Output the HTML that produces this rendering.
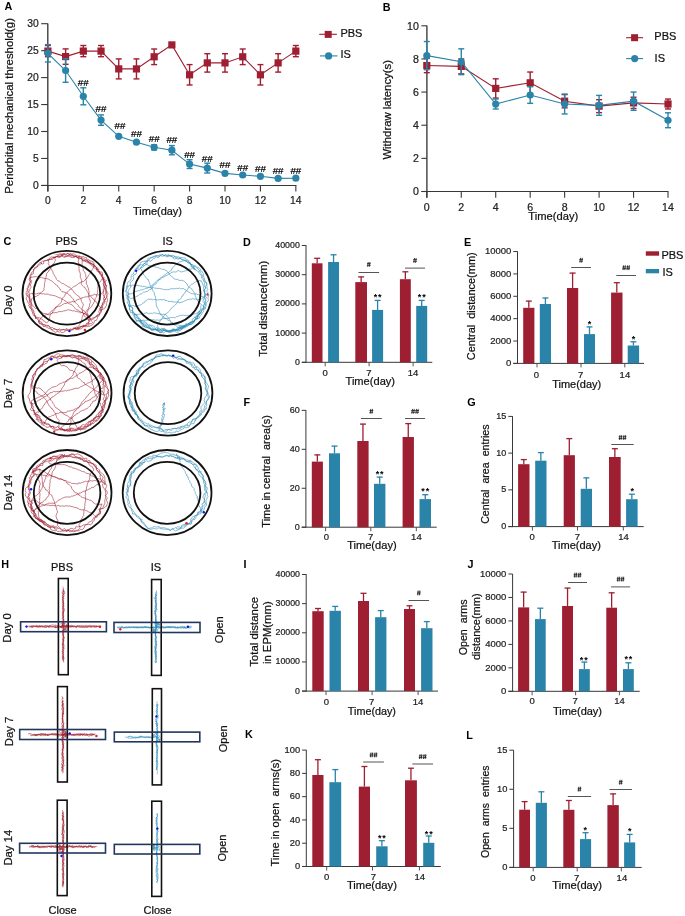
<!DOCTYPE html>
<html><head><meta charset="utf-8"><title>Figure</title>
<style>
html,body{margin:0;padding:0;background:#fff;}
body{width:685px;height:916px;overflow:hidden;}
svg{display:block;font-family:"Liberation Sans", sans-serif;will-change:transform;}
</style></head><body>
<svg width="685" height="916" viewBox="0 0 685 916">
<rect x="0" y="0" width="685" height="916" fill="#fff"/>
<line x1="47.8" y1="23.5" x2="47.8" y2="191.5" stroke="#383838" stroke-width="1.35"/>
<line x1="41.2" y1="185.5" x2="296.4" y2="185.5" stroke="#383838" stroke-width="1.1"/>
<line x1="41.2" y1="185.4" x2="47.8" y2="185.4" stroke="#383838" stroke-width="1.1"/>
<text x="38.8" y="189" font-size="10.3" text-anchor="end" font-weight="normal" fill="#222" stroke="#222" stroke-width="0.22">0</text>
<line x1="41.2" y1="158.45" x2="47.8" y2="158.45" stroke="#383838" stroke-width="1.1"/>
<text x="38.8" y="162.05" font-size="10.3" text-anchor="end" font-weight="normal" fill="#222" stroke="#222" stroke-width="0.22">5</text>
<line x1="41.2" y1="131.5" x2="47.8" y2="131.5" stroke="#383838" stroke-width="1.1"/>
<text x="38.8" y="135.1" font-size="10.3" text-anchor="end" font-weight="normal" fill="#222" stroke="#222" stroke-width="0.22">10</text>
<line x1="41.2" y1="104.55" x2="47.8" y2="104.55" stroke="#383838" stroke-width="1.1"/>
<text x="38.8" y="108.15" font-size="10.3" text-anchor="end" font-weight="normal" fill="#222" stroke="#222" stroke-width="0.22">15</text>
<line x1="41.2" y1="77.6" x2="47.8" y2="77.6" stroke="#383838" stroke-width="1.1"/>
<text x="38.8" y="81.2" font-size="10.3" text-anchor="end" font-weight="normal" fill="#222" stroke="#222" stroke-width="0.22">20</text>
<line x1="41.2" y1="50.65" x2="47.8" y2="50.65" stroke="#383838" stroke-width="1.1"/>
<text x="38.8" y="54.25" font-size="10.3" text-anchor="end" font-weight="normal" fill="#222" stroke="#222" stroke-width="0.22">25</text>
<line x1="41.2" y1="23.7" x2="47.8" y2="23.7" stroke="#383838" stroke-width="1.1"/>
<text x="38.8" y="27.3" font-size="10.3" text-anchor="end" font-weight="normal" fill="#222" stroke="#222" stroke-width="0.22">30</text>
<line x1="47.9" y1="185.5" x2="47.9" y2="191.5" stroke="#383838" stroke-width="1.1"/>
<text x="47.9" y="204.1" font-size="10.3" text-anchor="middle" font-weight="normal" fill="#222" stroke="#222" stroke-width="0.22">0</text>
<line x1="83.32" y1="185.5" x2="83.32" y2="191.5" stroke="#383838" stroke-width="1.1"/>
<text x="83.32" y="204.1" font-size="10.3" text-anchor="middle" font-weight="normal" fill="#222" stroke="#222" stroke-width="0.22">2</text>
<line x1="118.74" y1="185.5" x2="118.74" y2="191.5" stroke="#383838" stroke-width="1.1"/>
<text x="118.74" y="204.1" font-size="10.3" text-anchor="middle" font-weight="normal" fill="#222" stroke="#222" stroke-width="0.22">4</text>
<line x1="154.16" y1="185.5" x2="154.16" y2="191.5" stroke="#383838" stroke-width="1.1"/>
<text x="154.16" y="204.1" font-size="10.3" text-anchor="middle" font-weight="normal" fill="#222" stroke="#222" stroke-width="0.22">6</text>
<line x1="189.58" y1="185.5" x2="189.58" y2="191.5" stroke="#383838" stroke-width="1.1"/>
<text x="189.58" y="204.1" font-size="10.3" text-anchor="middle" font-weight="normal" fill="#222" stroke="#222" stroke-width="0.22">8</text>
<line x1="225" y1="185.5" x2="225" y2="191.5" stroke="#383838" stroke-width="1.1"/>
<text x="225" y="204.1" font-size="10.3" text-anchor="middle" font-weight="normal" fill="#222" stroke="#222" stroke-width="0.22">10</text>
<line x1="260.42" y1="185.5" x2="260.42" y2="191.5" stroke="#383838" stroke-width="1.1"/>
<text x="260.42" y="204.1" font-size="10.3" text-anchor="middle" font-weight="normal" fill="#222" stroke="#222" stroke-width="0.22">12</text>
<line x1="295.84" y1="185.5" x2="295.84" y2="191.5" stroke="#383838" stroke-width="1.1"/>
<text x="295.84" y="204.1" font-size="10.3" text-anchor="middle" font-weight="normal" fill="#222" stroke="#222" stroke-width="0.22">14</text>
<text x="157.5" y="214.6" font-size="11" text-anchor="middle" font-weight="normal" fill="#111" stroke="#111" stroke-width="0.22" textLength="48.9" lengthAdjust="spacingAndGlyphs">Time(day)</text>
<text x="13.3" y="105.9" font-size="11.38" text-anchor="middle" font-weight="normal" fill="#111" stroke="#111" stroke-width="0.22" transform="rotate(-90 13.3 105.9)">Periorbital mechanical threshold(g)</text>
<polyline points="47.9,51.1 65.61,56.6 83.32,51.1 101.03,51.1 118.74,68.9 136.45,68.9 154.16,56.8 171.87,44.9 189.58,74.8 207.29,62.9 225,62.9 242.71,56.8 260.42,74.8 278.13,62.9 295.84,51.1" fill="none" stroke="#9E1F31" stroke-width="1.1"/>
<line x1="47.9" y1="45.5" x2="47.9" y2="56.7" stroke="#9E1F31" stroke-width="1.4"/>
<line x1="44.9" y1="45.5" x2="50.9" y2="45.5" stroke="#9E1F31" stroke-width="1.4"/>
<line x1="44.9" y1="56.7" x2="50.9" y2="56.7" stroke="#9E1F31" stroke-width="1.4"/>
<rect x="44.3" y="47.5" width="7.2" height="7.2" fill="#9E1F31" stroke="none" stroke-width="0"/>
<line x1="65.61" y1="48.9" x2="65.61" y2="64.3" stroke="#9E1F31" stroke-width="1.4"/>
<line x1="62.61" y1="48.9" x2="68.61" y2="48.9" stroke="#9E1F31" stroke-width="1.4"/>
<line x1="62.61" y1="64.3" x2="68.61" y2="64.3" stroke="#9E1F31" stroke-width="1.4"/>
<rect x="62.01" y="53" width="7.2" height="7.2" fill="#9E1F31" stroke="none" stroke-width="0"/>
<line x1="83.32" y1="45.5" x2="83.32" y2="56.7" stroke="#9E1F31" stroke-width="1.4"/>
<line x1="80.32" y1="45.5" x2="86.32" y2="45.5" stroke="#9E1F31" stroke-width="1.4"/>
<line x1="80.32" y1="56.7" x2="86.32" y2="56.7" stroke="#9E1F31" stroke-width="1.4"/>
<rect x="79.72" y="47.5" width="7.2" height="7.2" fill="#9E1F31" stroke="none" stroke-width="0"/>
<line x1="101.03" y1="45.5" x2="101.03" y2="56.7" stroke="#9E1F31" stroke-width="1.4"/>
<line x1="98.03" y1="45.5" x2="104.03" y2="45.5" stroke="#9E1F31" stroke-width="1.4"/>
<line x1="98.03" y1="56.7" x2="104.03" y2="56.7" stroke="#9E1F31" stroke-width="1.4"/>
<rect x="97.43" y="47.5" width="7.2" height="7.2" fill="#9E1F31" stroke="none" stroke-width="0"/>
<line x1="118.74" y1="58.9" x2="118.74" y2="78.9" stroke="#9E1F31" stroke-width="1.4"/>
<line x1="115.74" y1="58.9" x2="121.74" y2="58.9" stroke="#9E1F31" stroke-width="1.4"/>
<line x1="115.74" y1="78.9" x2="121.74" y2="78.9" stroke="#9E1F31" stroke-width="1.4"/>
<rect x="115.14" y="65.3" width="7.2" height="7.2" fill="#9E1F31" stroke="none" stroke-width="0"/>
<line x1="136.45" y1="58.9" x2="136.45" y2="78.9" stroke="#9E1F31" stroke-width="1.4"/>
<line x1="133.45" y1="58.9" x2="139.45" y2="58.9" stroke="#9E1F31" stroke-width="1.4"/>
<line x1="133.45" y1="78.9" x2="139.45" y2="78.9" stroke="#9E1F31" stroke-width="1.4"/>
<rect x="132.85" y="65.3" width="7.2" height="7.2" fill="#9E1F31" stroke="none" stroke-width="0"/>
<line x1="154.16" y1="49" x2="154.16" y2="64.6" stroke="#9E1F31" stroke-width="1.4"/>
<line x1="151.16" y1="49" x2="157.16" y2="49" stroke="#9E1F31" stroke-width="1.4"/>
<line x1="151.16" y1="64.6" x2="157.16" y2="64.6" stroke="#9E1F31" stroke-width="1.4"/>
<rect x="150.56" y="53.2" width="7.2" height="7.2" fill="#9E1F31" stroke="none" stroke-width="0"/>
<rect x="168.27" y="41.3" width="7.2" height="7.2" fill="#9E1F31" stroke="none" stroke-width="0"/>
<line x1="189.58" y1="64.6" x2="189.58" y2="85" stroke="#9E1F31" stroke-width="1.4"/>
<line x1="186.58" y1="64.6" x2="192.58" y2="64.6" stroke="#9E1F31" stroke-width="1.4"/>
<line x1="186.58" y1="85" x2="192.58" y2="85" stroke="#9E1F31" stroke-width="1.4"/>
<rect x="185.98" y="71.2" width="7.2" height="7.2" fill="#9E1F31" stroke="none" stroke-width="0"/>
<line x1="207.29" y1="53.7" x2="207.29" y2="72.1" stroke="#9E1F31" stroke-width="1.4"/>
<line x1="204.29" y1="53.7" x2="210.29" y2="53.7" stroke="#9E1F31" stroke-width="1.4"/>
<line x1="204.29" y1="72.1" x2="210.29" y2="72.1" stroke="#9E1F31" stroke-width="1.4"/>
<rect x="203.69" y="59.3" width="7.2" height="7.2" fill="#9E1F31" stroke="none" stroke-width="0"/>
<line x1="225" y1="53.7" x2="225" y2="72.1" stroke="#9E1F31" stroke-width="1.4"/>
<line x1="222" y1="53.7" x2="228" y2="53.7" stroke="#9E1F31" stroke-width="1.4"/>
<line x1="222" y1="72.1" x2="228" y2="72.1" stroke="#9E1F31" stroke-width="1.4"/>
<rect x="221.4" y="59.3" width="7.2" height="7.2" fill="#9E1F31" stroke="none" stroke-width="0"/>
<line x1="242.71" y1="49" x2="242.71" y2="64.6" stroke="#9E1F31" stroke-width="1.4"/>
<line x1="239.71" y1="49" x2="245.71" y2="49" stroke="#9E1F31" stroke-width="1.4"/>
<line x1="239.71" y1="64.6" x2="245.71" y2="64.6" stroke="#9E1F31" stroke-width="1.4"/>
<rect x="239.11" y="53.2" width="7.2" height="7.2" fill="#9E1F31" stroke="none" stroke-width="0"/>
<line x1="260.42" y1="64.6" x2="260.42" y2="85" stroke="#9E1F31" stroke-width="1.4"/>
<line x1="257.42" y1="64.6" x2="263.42" y2="64.6" stroke="#9E1F31" stroke-width="1.4"/>
<line x1="257.42" y1="85" x2="263.42" y2="85" stroke="#9E1F31" stroke-width="1.4"/>
<rect x="256.82" y="71.2" width="7.2" height="7.2" fill="#9E1F31" stroke="none" stroke-width="0"/>
<line x1="278.13" y1="53.7" x2="278.13" y2="72.1" stroke="#9E1F31" stroke-width="1.4"/>
<line x1="275.13" y1="53.7" x2="281.13" y2="53.7" stroke="#9E1F31" stroke-width="1.4"/>
<line x1="275.13" y1="72.1" x2="281.13" y2="72.1" stroke="#9E1F31" stroke-width="1.4"/>
<rect x="274.53" y="59.3" width="7.2" height="7.2" fill="#9E1F31" stroke="none" stroke-width="0"/>
<line x1="295.84" y1="45.5" x2="295.84" y2="56.7" stroke="#9E1F31" stroke-width="1.4"/>
<line x1="292.84" y1="45.5" x2="298.84" y2="45.5" stroke="#9E1F31" stroke-width="1.4"/>
<line x1="292.84" y1="56.7" x2="298.84" y2="56.7" stroke="#9E1F31" stroke-width="1.4"/>
<rect x="292.24" y="47.5" width="7.2" height="7.2" fill="#9E1F31" stroke="none" stroke-width="0"/>
<polyline points="47.9,53.3 65.61,70.5 83.32,96.3 101.03,120.1 118.74,136.3 136.45,142.2 154.16,147.3 171.87,150.2 189.58,164.1 207.29,168.1 225,173.4 242.71,175 260.42,176.3 278.13,178.4 295.84,178.2" fill="none" stroke="#2A83A9" stroke-width="1.1"/>
<line x1="47.9" y1="44.6" x2="47.9" y2="62" stroke="#2A83A9" stroke-width="1.4"/>
<line x1="44.9" y1="44.6" x2="50.9" y2="44.6" stroke="#2A83A9" stroke-width="1.4"/>
<line x1="44.9" y1="62" x2="50.9" y2="62" stroke="#2A83A9" stroke-width="1.4"/>
<circle cx="47.9" cy="53.3" r="3.6" fill="#2A83A9"/>
<line x1="65.61" y1="58.7" x2="65.61" y2="82.3" stroke="#2A83A9" stroke-width="1.4"/>
<line x1="62.61" y1="58.7" x2="68.61" y2="58.7" stroke="#2A83A9" stroke-width="1.4"/>
<line x1="62.61" y1="82.3" x2="68.61" y2="82.3" stroke="#2A83A9" stroke-width="1.4"/>
<circle cx="65.61" cy="70.5" r="3.6" fill="#2A83A9"/>
<line x1="83.32" y1="87.8" x2="83.32" y2="104.8" stroke="#2A83A9" stroke-width="1.4"/>
<line x1="80.32" y1="87.8" x2="86.32" y2="87.8" stroke="#2A83A9" stroke-width="1.4"/>
<line x1="80.32" y1="104.8" x2="86.32" y2="104.8" stroke="#2A83A9" stroke-width="1.4"/>
<circle cx="83.32" cy="96.3" r="3.6" fill="#2A83A9"/>
<line x1="101.03" y1="114.9" x2="101.03" y2="125.3" stroke="#2A83A9" stroke-width="1.4"/>
<line x1="98.03" y1="114.9" x2="104.03" y2="114.9" stroke="#2A83A9" stroke-width="1.4"/>
<line x1="98.03" y1="125.3" x2="104.03" y2="125.3" stroke="#2A83A9" stroke-width="1.4"/>
<circle cx="101.03" cy="120.1" r="3.6" fill="#2A83A9"/>
<circle cx="118.74" cy="136.3" r="3.6" fill="#2A83A9"/>
<circle cx="136.45" cy="142.2" r="3.6" fill="#2A83A9"/>
<line x1="154.16" y1="144.7" x2="154.16" y2="149.9" stroke="#2A83A9" stroke-width="1.4"/>
<line x1="151.16" y1="144.7" x2="157.16" y2="144.7" stroke="#2A83A9" stroke-width="1.4"/>
<line x1="151.16" y1="149.9" x2="157.16" y2="149.9" stroke="#2A83A9" stroke-width="1.4"/>
<circle cx="154.16" cy="147.3" r="3.6" fill="#2A83A9"/>
<line x1="171.87" y1="145.6" x2="171.87" y2="154.8" stroke="#2A83A9" stroke-width="1.4"/>
<line x1="168.87" y1="145.6" x2="174.87" y2="145.6" stroke="#2A83A9" stroke-width="1.4"/>
<line x1="168.87" y1="154.8" x2="174.87" y2="154.8" stroke="#2A83A9" stroke-width="1.4"/>
<circle cx="171.87" cy="150.2" r="3.6" fill="#2A83A9"/>
<line x1="189.58" y1="159.7" x2="189.58" y2="168.5" stroke="#2A83A9" stroke-width="1.4"/>
<line x1="186.58" y1="159.7" x2="192.58" y2="159.7" stroke="#2A83A9" stroke-width="1.4"/>
<line x1="186.58" y1="168.5" x2="192.58" y2="168.5" stroke="#2A83A9" stroke-width="1.4"/>
<circle cx="189.58" cy="164.1" r="3.6" fill="#2A83A9"/>
<line x1="207.29" y1="163.2" x2="207.29" y2="173" stroke="#2A83A9" stroke-width="1.4"/>
<line x1="204.29" y1="163.2" x2="210.29" y2="163.2" stroke="#2A83A9" stroke-width="1.4"/>
<line x1="204.29" y1="173" x2="210.29" y2="173" stroke="#2A83A9" stroke-width="1.4"/>
<circle cx="207.29" cy="168.1" r="3.6" fill="#2A83A9"/>
<circle cx="225" cy="173.4" r="3.6" fill="#2A83A9"/>
<circle cx="242.71" cy="175" r="3.6" fill="#2A83A9"/>
<circle cx="260.42" cy="176.3" r="3.6" fill="#2A83A9"/>
<circle cx="278.13" cy="178.4" r="3.6" fill="#2A83A9"/>
<circle cx="295.84" cy="178.2" r="3.6" fill="#2A83A9"/>
<text x="83.32" y="86.3" font-size="9.8" text-anchor="middle" font-weight="normal" fill="#000" stroke="#000" stroke-width="0.22">##</text>
<text x="101.03" y="111.7" font-size="9.8" text-anchor="middle" font-weight="normal" fill="#000" stroke="#000" stroke-width="0.22">##</text>
<text x="119.94" y="128.8" font-size="9.8" text-anchor="middle" font-weight="normal" fill="#000" stroke="#000" stroke-width="0.22">##</text>
<text x="136.45" y="137.3" font-size="9.8" text-anchor="middle" font-weight="normal" fill="#000" stroke="#000" stroke-width="0.22">##</text>
<text x="154.16" y="141.5" font-size="9.8" text-anchor="middle" font-weight="normal" fill="#000" stroke="#000" stroke-width="0.22">##</text>
<text x="171.87" y="142.9" font-size="9.8" text-anchor="middle" font-weight="normal" fill="#000" stroke="#000" stroke-width="0.22">##</text>
<text x="189.58" y="157.6" font-size="9.8" text-anchor="middle" font-weight="normal" fill="#000" stroke="#000" stroke-width="0.22">##</text>
<text x="207.29" y="161.8" font-size="9.8" text-anchor="middle" font-weight="normal" fill="#000" stroke="#000" stroke-width="0.22">##</text>
<text x="225" y="168" font-size="9.8" text-anchor="middle" font-weight="normal" fill="#000" stroke="#000" stroke-width="0.22">##</text>
<text x="242.71" y="170.6" font-size="9.8" text-anchor="middle" font-weight="normal" fill="#000" stroke="#000" stroke-width="0.22">##</text>
<text x="260.42" y="172.3" font-size="9.8" text-anchor="middle" font-weight="normal" fill="#000" stroke="#000" stroke-width="0.22">##</text>
<text x="278.13" y="174.3" font-size="9.8" text-anchor="middle" font-weight="normal" fill="#000" stroke="#000" stroke-width="0.22">##</text>
<text x="295.84" y="174.3" font-size="9.8" text-anchor="middle" font-weight="normal" fill="#000" stroke="#000" stroke-width="0.22">##</text>
<line x1="319.2" y1="34.3" x2="336.9" y2="34.3" stroke="#9E1F31" stroke-width="1.1"/>
<rect x="324.7" y="30.9" width="7" height="7" fill="#9E1F31" stroke="none" stroke-width="0"/>
<text x="340.4" y="36.6" font-size="11" text-anchor="start" font-weight="normal" fill="#111" stroke="#111" stroke-width="0.22">PBS</text>
<line x1="320" y1="55.9" x2="337.5" y2="55.9" stroke="#2A83A9" stroke-width="1.1"/>
<circle cx="328.6" cy="55.9" r="3.6" fill="#2A83A9"/>
<text x="340.4" y="58.3" font-size="11" text-anchor="start" font-weight="normal" fill="#111" stroke="#111" stroke-width="0.22">IS</text>
<line x1="426.9" y1="25.5" x2="426.9" y2="197.8" stroke="#383838" stroke-width="1.35"/>
<line x1="421.4" y1="191.5" x2="668.4" y2="191.5" stroke="#383838" stroke-width="1.1"/>
<line x1="421.4" y1="191.5" x2="426.9" y2="191.5" stroke="#383838" stroke-width="1.1"/>
<text x="418.9" y="195.3" font-size="10.6" text-anchor="end" font-weight="normal" fill="#222" stroke="#222" stroke-width="0.22">0</text>
<line x1="421.4" y1="158.36" x2="426.9" y2="158.36" stroke="#383838" stroke-width="1.1"/>
<text x="418.9" y="162.16" font-size="10.6" text-anchor="end" font-weight="normal" fill="#222" stroke="#222" stroke-width="0.22">2</text>
<line x1="421.4" y1="125.22" x2="426.9" y2="125.22" stroke="#383838" stroke-width="1.1"/>
<text x="418.9" y="129.02" font-size="10.6" text-anchor="end" font-weight="normal" fill="#222" stroke="#222" stroke-width="0.22">4</text>
<line x1="421.4" y1="92.08" x2="426.9" y2="92.08" stroke="#383838" stroke-width="1.1"/>
<text x="418.9" y="95.88" font-size="10.6" text-anchor="end" font-weight="normal" fill="#222" stroke="#222" stroke-width="0.22">6</text>
<line x1="421.4" y1="58.94" x2="426.9" y2="58.94" stroke="#383838" stroke-width="1.1"/>
<text x="418.9" y="62.74" font-size="10.6" text-anchor="end" font-weight="normal" fill="#222" stroke="#222" stroke-width="0.22">8</text>
<line x1="421.4" y1="25.8" x2="426.9" y2="25.8" stroke="#383838" stroke-width="1.1"/>
<text x="418.9" y="29.6" font-size="10.6" text-anchor="end" font-weight="normal" fill="#222" stroke="#222" stroke-width="0.22">10</text>
<line x1="426.8" y1="191.5" x2="426.8" y2="197.8" stroke="#383838" stroke-width="1.1"/>
<text x="426.8" y="211.2" font-size="10.6" text-anchor="middle" font-weight="normal" fill="#222" stroke="#222" stroke-width="0.22">0</text>
<line x1="461.26" y1="191.5" x2="461.26" y2="197.8" stroke="#383838" stroke-width="1.1"/>
<text x="461.26" y="211.2" font-size="10.6" text-anchor="middle" font-weight="normal" fill="#222" stroke="#222" stroke-width="0.22">2</text>
<line x1="495.72" y1="191.5" x2="495.72" y2="197.8" stroke="#383838" stroke-width="1.1"/>
<text x="495.72" y="211.2" font-size="10.6" text-anchor="middle" font-weight="normal" fill="#222" stroke="#222" stroke-width="0.22">4</text>
<line x1="530.18" y1="191.5" x2="530.18" y2="197.8" stroke="#383838" stroke-width="1.1"/>
<text x="530.18" y="211.2" font-size="10.6" text-anchor="middle" font-weight="normal" fill="#222" stroke="#222" stroke-width="0.22">6</text>
<line x1="564.64" y1="191.5" x2="564.64" y2="197.8" stroke="#383838" stroke-width="1.1"/>
<text x="564.64" y="211.2" font-size="10.6" text-anchor="middle" font-weight="normal" fill="#222" stroke="#222" stroke-width="0.22">8</text>
<line x1="599.1" y1="191.5" x2="599.1" y2="197.8" stroke="#383838" stroke-width="1.1"/>
<text x="599.1" y="211.2" font-size="10.6" text-anchor="middle" font-weight="normal" fill="#222" stroke="#222" stroke-width="0.22">10</text>
<line x1="633.56" y1="191.5" x2="633.56" y2="197.8" stroke="#383838" stroke-width="1.1"/>
<text x="633.56" y="211.2" font-size="10.6" text-anchor="middle" font-weight="normal" fill="#222" stroke="#222" stroke-width="0.22">12</text>
<line x1="668.02" y1="191.5" x2="668.02" y2="197.8" stroke="#383838" stroke-width="1.1"/>
<text x="668.02" y="211.2" font-size="10.6" text-anchor="middle" font-weight="normal" fill="#222" stroke="#222" stroke-width="0.22">14</text>
<text x="553.3" y="219.6" font-size="11" text-anchor="middle" font-weight="normal" fill="#111" stroke="#111" stroke-width="0.22" textLength="49.9" lengthAdjust="spacingAndGlyphs">Time(day)</text>
<text x="391.4" y="109.8" font-size="11.35" text-anchor="middle" font-weight="normal" fill="#111" stroke="#111" stroke-width="0.22" transform="rotate(-90 391.4 109.8)">Withdraw latency(s)</text>
<polyline points="426.8,65.57 461.26,66.4 495.72,88.43 530.18,82.8 564.64,101.19 599.1,106.16 633.56,102.85 668.02,104.01" fill="none" stroke="#9E1F31" stroke-width="1.1"/>
<line x1="426.8" y1="58.44" x2="426.8" y2="72.69" stroke="#9E1F31" stroke-width="1.4"/>
<line x1="423.8" y1="58.44" x2="429.8" y2="58.44" stroke="#9E1F31" stroke-width="1.4"/>
<line x1="423.8" y1="72.69" x2="429.8" y2="72.69" stroke="#9E1F31" stroke-width="1.4"/>
<rect x="423.2" y="61.97" width="7.2" height="7.2" fill="#9E1F31" stroke="none" stroke-width="0"/>
<line x1="461.26" y1="58.94" x2="461.26" y2="73.85" stroke="#9E1F31" stroke-width="1.4"/>
<line x1="458.26" y1="58.94" x2="464.26" y2="58.94" stroke="#9E1F31" stroke-width="1.4"/>
<line x1="458.26" y1="73.85" x2="464.26" y2="73.85" stroke="#9E1F31" stroke-width="1.4"/>
<rect x="457.66" y="62.8" width="7.2" height="7.2" fill="#9E1F31" stroke="none" stroke-width="0"/>
<line x1="495.72" y1="78.82" x2="495.72" y2="98.05" stroke="#9E1F31" stroke-width="1.4"/>
<line x1="492.72" y1="78.82" x2="498.72" y2="78.82" stroke="#9E1F31" stroke-width="1.4"/>
<line x1="492.72" y1="98.05" x2="498.72" y2="98.05" stroke="#9E1F31" stroke-width="1.4"/>
<rect x="492.12" y="84.83" width="7.2" height="7.2" fill="#9E1F31" stroke="none" stroke-width="0"/>
<line x1="530.18" y1="72.03" x2="530.18" y2="93.57" stroke="#9E1F31" stroke-width="1.4"/>
<line x1="527.18" y1="72.03" x2="533.18" y2="72.03" stroke="#9E1F31" stroke-width="1.4"/>
<line x1="527.18" y1="93.57" x2="533.18" y2="93.57" stroke="#9E1F31" stroke-width="1.4"/>
<rect x="526.58" y="79.2" width="7.2" height="7.2" fill="#9E1F31" stroke="none" stroke-width="0"/>
<line x1="564.64" y1="94.57" x2="564.64" y2="107.82" stroke="#9E1F31" stroke-width="1.4"/>
<line x1="561.64" y1="94.57" x2="567.64" y2="94.57" stroke="#9E1F31" stroke-width="1.4"/>
<line x1="561.64" y1="107.82" x2="567.64" y2="107.82" stroke="#9E1F31" stroke-width="1.4"/>
<rect x="561.04" y="97.59" width="7.2" height="7.2" fill="#9E1F31" stroke="none" stroke-width="0"/>
<line x1="599.1" y1="99.7" x2="599.1" y2="112.63" stroke="#9E1F31" stroke-width="1.4"/>
<line x1="596.1" y1="99.7" x2="602.1" y2="99.7" stroke="#9E1F31" stroke-width="1.4"/>
<line x1="596.1" y1="112.63" x2="602.1" y2="112.63" stroke="#9E1F31" stroke-width="1.4"/>
<rect x="595.5" y="102.56" width="7.2" height="7.2" fill="#9E1F31" stroke="none" stroke-width="0"/>
<line x1="633.56" y1="97.22" x2="633.56" y2="108.48" stroke="#9E1F31" stroke-width="1.4"/>
<line x1="630.56" y1="97.22" x2="636.56" y2="97.22" stroke="#9E1F31" stroke-width="1.4"/>
<line x1="630.56" y1="108.48" x2="636.56" y2="108.48" stroke="#9E1F31" stroke-width="1.4"/>
<rect x="629.96" y="99.25" width="7.2" height="7.2" fill="#9E1F31" stroke="none" stroke-width="0"/>
<line x1="668.02" y1="99.04" x2="668.02" y2="108.98" stroke="#9E1F31" stroke-width="1.4"/>
<line x1="665.02" y1="99.04" x2="671.02" y2="99.04" stroke="#9E1F31" stroke-width="1.4"/>
<line x1="665.02" y1="108.98" x2="671.02" y2="108.98" stroke="#9E1F31" stroke-width="1.4"/>
<rect x="664.42" y="100.41" width="7.2" height="7.2" fill="#9E1F31" stroke="none" stroke-width="0"/>
<polyline points="426.8,55.63 461.26,61.76 495.72,104.01 530.18,95.06 564.64,104.01 599.1,105.34 633.56,101.19 668.02,120.25" fill="none" stroke="#2A83A9" stroke-width="1.1"/>
<line x1="426.8" y1="41.54" x2="426.8" y2="69.71" stroke="#2A83A9" stroke-width="1.4"/>
<line x1="423.8" y1="41.54" x2="429.8" y2="41.54" stroke="#2A83A9" stroke-width="1.4"/>
<line x1="423.8" y1="69.71" x2="429.8" y2="69.71" stroke="#2A83A9" stroke-width="1.4"/>
<circle cx="426.8" cy="55.63" r="3.6" fill="#2A83A9"/>
<line x1="461.26" y1="48.83" x2="461.26" y2="74.68" stroke="#2A83A9" stroke-width="1.4"/>
<line x1="458.26" y1="48.83" x2="464.26" y2="48.83" stroke="#2A83A9" stroke-width="1.4"/>
<line x1="458.26" y1="74.68" x2="464.26" y2="74.68" stroke="#2A83A9" stroke-width="1.4"/>
<circle cx="461.26" cy="61.76" r="3.6" fill="#2A83A9"/>
<line x1="495.72" y1="99.04" x2="495.72" y2="108.98" stroke="#2A83A9" stroke-width="1.4"/>
<line x1="492.72" y1="99.04" x2="498.72" y2="99.04" stroke="#2A83A9" stroke-width="1.4"/>
<line x1="492.72" y1="108.98" x2="498.72" y2="108.98" stroke="#2A83A9" stroke-width="1.4"/>
<circle cx="495.72" cy="104.01" r="3.6" fill="#2A83A9"/>
<line x1="530.18" y1="86.78" x2="530.18" y2="103.35" stroke="#2A83A9" stroke-width="1.4"/>
<line x1="527.18" y1="86.78" x2="533.18" y2="86.78" stroke="#2A83A9" stroke-width="1.4"/>
<line x1="527.18" y1="103.35" x2="533.18" y2="103.35" stroke="#2A83A9" stroke-width="1.4"/>
<circle cx="530.18" cy="95.06" r="3.6" fill="#2A83A9"/>
<line x1="564.64" y1="94.07" x2="564.64" y2="113.95" stroke="#2A83A9" stroke-width="1.4"/>
<line x1="561.64" y1="94.07" x2="567.64" y2="94.07" stroke="#2A83A9" stroke-width="1.4"/>
<line x1="561.64" y1="113.95" x2="567.64" y2="113.95" stroke="#2A83A9" stroke-width="1.4"/>
<circle cx="564.64" cy="104.01" r="3.6" fill="#2A83A9"/>
<line x1="599.1" y1="95.39" x2="599.1" y2="115.28" stroke="#2A83A9" stroke-width="1.4"/>
<line x1="596.1" y1="95.39" x2="602.1" y2="95.39" stroke="#2A83A9" stroke-width="1.4"/>
<line x1="596.1" y1="115.28" x2="602.1" y2="115.28" stroke="#2A83A9" stroke-width="1.4"/>
<circle cx="599.1" cy="105.34" r="3.6" fill="#2A83A9"/>
<line x1="633.56" y1="92.08" x2="633.56" y2="110.31" stroke="#2A83A9" stroke-width="1.4"/>
<line x1="630.56" y1="92.08" x2="636.56" y2="92.08" stroke="#2A83A9" stroke-width="1.4"/>
<line x1="630.56" y1="110.31" x2="636.56" y2="110.31" stroke="#2A83A9" stroke-width="1.4"/>
<circle cx="633.56" cy="101.19" r="3.6" fill="#2A83A9"/>
<line x1="668.02" y1="112.79" x2="668.02" y2="127.71" stroke="#2A83A9" stroke-width="1.4"/>
<line x1="665.02" y1="112.79" x2="671.02" y2="112.79" stroke="#2A83A9" stroke-width="1.4"/>
<line x1="665.02" y1="127.71" x2="671.02" y2="127.71" stroke="#2A83A9" stroke-width="1.4"/>
<circle cx="668.02" cy="120.25" r="3.6" fill="#2A83A9"/>
<line x1="626.1" y1="37.7" x2="643.1" y2="37.7" stroke="#9E1F31" stroke-width="1.1"/>
<rect x="631.1" y="34.2" width="7" height="7" fill="#9E1F31" stroke="none" stroke-width="0"/>
<text x="654.3" y="39.8" font-size="11" text-anchor="start" font-weight="normal" fill="#111" stroke="#111" stroke-width="0.22">PBS</text>
<line x1="626.1" y1="58.6" x2="643.1" y2="58.6" stroke="#2A83A9" stroke-width="1.1"/>
<circle cx="634.7" cy="58.6" r="3.6" fill="#2A83A9"/>
<text x="654.6" y="62" font-size="11" text-anchor="start" font-weight="normal" fill="#111" stroke="#111" stroke-width="0.22">IS</text>
<text x="66.6" y="245" font-size="11" text-anchor="middle" font-weight="normal" fill="#111" stroke="#111" stroke-width="0.22">PBS</text>
<text x="167.7" y="245" font-size="11" text-anchor="middle" font-weight="normal" fill="#111" stroke="#111" stroke-width="0.22">IS</text>
<path d="M29.36 302.63 L29.35 300.95 L29.92 300.11 L29.58 298.65 L29.08 297.99 L28.35 296.31 L26.33 295.22 L26.11 292.58 L26.72 291.52 L27.12 290.98 L27.18 288.88 L27.36 288.05 L27.92 287.32 L28.16 285.94 L28.76 284.51 L29.83 283.19 L30.55 282.28 L29.08 279.31 L29.97 277.68 L31.07 277.59 L30.57 276.55 L31.08 274.51 L33.32 273.78 L33.36 271.88 L33.56 270.47 L33.2 269.52 L35.32 268.36 L36.36 267.35 L37.97 266.2 L38.87 265.41 L40.08 264.21 L41.66 263.74 L41.05 262.35 L42.36 261.05 L43.59 261.11 L45.8 260.74 L46.38 260.6 L47.89 259.71 L48.8 260.09 L49.63 258.15 L50.68 256.92 L52.21 257.11 L54.12 257.2 L56.64 256.64 L56.83 256.47 L58.17 255.65 L59.49 255 L61.54 254.56 L61.8 255.78 L63.64 255.79 L65.11 256.66 L67.25 256.18 L68.26 255.1 L70.35 254.13 L71.49 254.12 L73.06 253.8 L74.21 254.18 L75.58 255.13 L77.27 255.72 L79.18 256.09 L79.09 257.32 L78.29 258.66 L78.76 259.43 L78.16 261.46 L78.48 262.01 L78.81 263.72 L78.63 264.5 L78.56 265.92 L79.26 267.03 L78.88 268.56 L79.3 270.06 L78.87 270.93 L79.92 272.17 L80.04 273.27 L80.53 274.37 L80.24 275.91 L80.39 277.36 L80.82 278.39 L81.29 279.66 L81.65 280.59 L82.03 281.64 L81.06 283.13 L81.57 284.67 L82.62 285.88 L83.54 286.77 L84.94 287.37 L85.07 288.4 L86.19 289.43 L86.55 290.23 L87.24 291.39 L88.12 292.84 L88.64 293.9 L89.38 295.18 L89.97 295.65 L90.92 296.66 L91.99 297.59 L92.53 298.5 L93.76 299.27 L94.62 300.92 L95.18 301.23 L96.19 301.67 L96.95 302.82 L97.64 304.42 L99.04 305.46 L99.52 306.37 L100.23 307.07 L101.15 308.13 L100.64 311.23 L100.82 309.18 L100.59 307.55 L101.3 306.65 L102.01 305.1 L102.51 304.05 L103.82 302.51 L103.73 301.31 L103.93 299.94 L103.42 297.83 L104.68 297.64 L104.3 295.57 L104.91 294.55 L105.98 293.21 L106.99 291.95 L106.6 291.15 L105.81 290.45 L105.64 289.15 L105.09 287.34 L103.73 285.6 L103.44 284.6 L103.12 283.82 L104.16 281.46 L102.76 280.2 L102.83 279.26 L102.58 277.88 L102.03 276.25 L100.61 275.22 L99.96 274 L100.56 272.72 L98.71 272.52 L98.89 271.17 L98.73 269.03 L96.35 269.59 L97.17 267.86 L96.58 267.14 L94.74 266.43 L93.58 265.81 L92.83 264.51 L92.25 263.73 L91.12 262.85 L90.34 262.16 L88.79 262.1 L87.31 261.04 L86.29 259.49 L85.32 259.74 L83.97 258.44 L83.34 258.27 L80.71 257.5 L79.98 256.44 L78.27 257.97 L76.57 256.97 L75.71 256.43 L74.13 257.49 L72.19 257.57 L71.17 257.38 L69.55 256.56 L68.24 256.56 L66.95 255.47 L65.25 257.3 L63.74 257.21 L61.62 255.59 L60.2 256.88 L59.13 257.1 L56.2 256.73 L54.86 257.67 L53.58 257.19 L54.38 258.14 L54.85 258.65 L55.51 260.26 L54.69 261.55 L54.56 262.29 L53.77 263.66 L52.7 264.11 L52.3 265.45 L51.13 266.17 L51 267.96 L50.08 269.1 L49.63 270.33 L48.46 270.67 L48.29 271.98 L46.99 272.83 L46.21 274.26 L46.79 274.94 L46.12 276.24 L46 277.46 L45.41 278.22 L45.01 279.99 L45.12 281.63 L44.7 282.42 L44.42 283.3 L44.58 285.22 L44.3 286.46 L44.27 287.62 L43.91 288.36 L44.06 289.87 L43.37 290.88 L41.83 291.75 L40.97 292.73 L40.42 292.87 L39.57 294.26 L38.25 295.26 L37 295.64 L36.29 296.54 L35.02 296.59 L33.63 297.46 L32.81 298.01 L31.39 298.95 L31.19 302.27 L31.72 303.94 L31.9 304.59 L31.34 305.88 L29.54 307.72 L31.44 309.17 L31.87 309.79 L33.01 310.7 L33.3 312.84 L33.92 313.48 L34.51 315.62 L35.77 315.64 L35.6 317.81 L36.33 318.19 L37.16 319.13 L38.57 320.4 L39.06 322.15 L39.55 323.27 L41.96 323.24 L42.66 324.3 L44.92 325.18 L46.09 325.18 L48.44 325.56 L49.07 326.01 L50.17 327.66 L51.04 328.74 L52.41 330.64 L53.51 330.98 L55.42 332.34 L56.74 331.91 L57.15 331.17 L59.23 331.98 L60.72 331.88 L61.7 332.59 L63.44 332.36 L64.79 331.67 L65.77 330.51 L67 329.87 L68.39 331.46 L69.83 330.61 L71.41 330.06 L73.38 329.76 L73.92 328.83 L75.6 327.94 L76.48 327.11 L77.85 327.48 L78.49 328.26 L79.4 327.41 L80.63 326.39 L81.96 326.51 L83.64 326.29 L85.01 325.82 L85.71 325.84 L87.19 325.08 L89.15 325.09 L88.54 323.46 L91.35 323.74 L91.98 323.36 L92.6 322.01 L91.39 320.84 L91.02 319.94 L89.78 318.73 L89.75 317.55 L88.18 317.45 L87.22 315.79 L86.88 314.83 L85.12 314 L84.07 313.65 L83.11 313.65 L82.33 312.4 L80.94 312.1 L79.3 311.27 L78.6 310.4 L77.71 309.92 L76.31 309.66 L75.05 308.4 L74.44 307.52 L73.82 306.84 L72.62 305.36 L71.91 304.82 L70.35 304.18 L69.54 303.84 L68.33 303.56 L66.83 302.28 L66.4 301.62 L65.12 300.85 L64.09 300.48 L63.11 299.35 L61.9 299.18 L60.65 298.03 L59.22 297.83 L58.07 297.14 L57.2 296.95 L55.8 296.16 L54.78 295.78 L53.68 295.53 L52.22 295.38 L51.07 294.78 L49.64 295.07 L48.72 294.37 L46.99 294.06 L45.81 294.22 L44.02 293.89 L43.2 293.57 L42.32 293.94 L40.55 293.47 L39.18 293.13 L38.07 293.19 L36.7 293.85 L35.48 293.98 L34.71 293.37 L33.42 293.74 L31.28 293.35 L30.46 293.86 L29.2 295.07 L29.33 296.59 L30.29 298.78 L30.4 299.1 L30.13 300.57 L30 302.21 L30.23 303.52 L30.43 305.65 L31.16 306.57 L31.82 308.01 L32.65 308.99 L33.33 310.15 L34 311.46 L33.94 312.49 L35.01 314.11 L34.28 314.82 L35.58 316.6 L35.71 317.97 L35.05 318.45 L37.53 318.07 L38.89 319.63 L38.87 320.88 L38.9 322.56 L39.44 323.71 L40.71 323.98 L42.02 324.77 L43.47 324.94 L45.33 324.83 L46.73 326.28 L47.79 325.93 L48.86 325.85 L49.69 326.49 L50.76 327.83 L52.42 327.4 L53.77 328.66 L55.45 328.82 L56.11 329.5 L57.18 329.7 L58.74 329.63 L59.55 328.84 L60.53 329.54 L61.79 330.08 L62.54 329.82 L63.82 329.27 L64.61 330.21 L65.94 330.34 L67.08 330 L68.77 330.09 L70.23 328.9 L71.98 329.47 L73.85 327.84 L75.2 329.12 L76.23 329.67 L78.1 329.66 L78.99 329.73 L79.5 328.64 L80.59 327.1 L81.49 326.45 L82.74 325.47 L85.05 325.63 L86.49 325.26 L87.09 324.68 L87.86 323.65 L88.87 321.86 L89.82 321.52 L89.52 319.92 L90.07 318.63 L89.77 317.67 L89.25 316.33 L87.95 315.24 L87.19 315.07 L85.75 314.09 L84.56 313.52 L83.72 313.22 L82.41 312.44 L80.64 312.85 L79.87 312.15 L78.01 311.92 L76.79 311.42 L75.74 311.56 L74.93 310.85 L73.18 310.82 L72.32 310.87 L70.8 310.13 L69.5 310.17 L68.26 309.66 L66.98 310.07 L65.81 310.65 L64.11 310.88 L63.48 310.93 L61.69 311.61 L61.07 311.67 L59.07 311.54 L57.91 312.06 L56.26 312.72 L55.11 312.37 L54.24 312.91 L52.82 312.62 L51.76 313.49 L50.82 313.66 L49.18 314.38 L48.18 314.62 L46.81 313.98 L45.35 313.6 L43.98 313.64 L43.28 313.25 L42.08 312.56 L40.97 311.68 L39.63 310.48 L38.75 309.92 L37.74 309.22 L36.55 308.54 L35.3 308.36 L34.75 307.5 L33.59 306.46 L32.23 305.97 L30.64 301.55 L29.81 300.42 L29.2 299.17 L29.07 298.14 L30.04 296.19 L29.22 295.61 L29.24 294.01 L28.95 291.68 L29.95 290.13 L29.89 289.33 L30.79 287.48 L30.95 286.33 L30.25 285.07 L31.37 282.92 L30.93 281.92 L31.91 280.81 L30.28 279.23 L30.01 278.09 L30.06 275.75 L30.32 275.37 L31.29 273.71 L31.46 272.65 L32.5 271.75 L33.76 270.69 L33.9 269.22 L34.75 268.4 L34.93 267.2 L37.29 267.12 L37.39 265.22 L38.57 264.59 L39.91 262.39 L42.33 264.04 L43.68 263.39 L43.52 261.49 L44.74 260.56 L47.08 260.28 L48.05 260.3 L49.58 259.61 L50.3 259.09 L52.28 259.66 L53.29 258.15 L54.5 257.63 L55.77 257.3 L56.95 256.13 L58.39 256.3 L60.16 256.39 L61.06 255.17 L62.93 254.17 L64.6 253.59 L66 254.33 L68.01 253.44 L69.17 254.91 L70.66 255.4 L72.41 255.25 L73.51 256.1 L75.17 256.02 L76.75 256.64 L77.82 258.08 L78.15 258.22 L79.85 258.79 L81.91 258.16 L82.02 259.37 L83.73 260.26 L85.23 259.99 L86.43 260.88 L88.47 261.27 L88.28 262.25 L89.14 262.63 L89.95 263.87 L92.77 263.16 L93.54 263.92 L94.53 265.71 L93.77 266.54 L93.38 267.78 L92.81 268.69 L92.03 269.89 L91.56 271 L90.75 271.92 L90.05 273.27 L89.39 274.41 L88.63 275.18 L88.05 276.23 L87.65 277.36 L86.46 278.87 L85.74 279.28 L84.49 280.64 L83.66 281.4 L82.28 281.7 L80.86 281.91 L79.98 282.91 L78.97 283.27 L77.86 283.99 L76.81 285.07 L76.04 285.72 L74.84 286.17 L73.5 286.84 L72.54 287.58 L71.75 288.37 L70.58 289.49 L69.62 289.82 L68.76 290.63 L67.5 291.92 L66.94 292.35 L66.06 293.58 L64.93 294.51 L65.02 295.62 L63.62 296.89 L62.99 297.62 L62.12 298.68 L61.73 300.01 L61.65 300.91 L61.06 302.53 L60.33 303.1 L59.29 304.21 L58.54 304.96 L57.31 305.96 L56.91 306.71 L55.39 307.33 L54.99 309.49 L54.49 309.8 L53.16 311.4 L52.75 311.57 L52.42 312.94 L51.3 313.72 L50.24 314.83 L49.94 315.86 L49.56 317.56 L49.84 318.9 L48.87 319.53 L48.49 321.25 L48.1 321.83 L46.44 322.79 L45.07 321.94 L44.57 321.12 L43.36 321.01 L42.52 319.29 L41.36 319.03 L40.76 318.81 L39.4 317.79 L37.54 317.5 L35.83 317.26 L34.33 316.34 L33.34 315.03 L32.83 314.06 L32.4 311.99 L31.39 310.63 L31.66 309.77 L31.06 307.89 L30.25 307.06 L28.58 305.98 L29.6 304 L28.03 302.89 L27.43 300.84 L26.12 299.03 L26.6 297.22 L27.8 295.57 L27.87 294.46 L27.33 293.38 L28.28 292.14 L27.78 290.87 L28.06 290.41 L27.81 288.44 L28.64 287.26 L28.84 286.02 L29.79 285.07 L29.18 283.04 L30.44 281.79 L30.1 279.98 L30.13 278.58 L31.17 276.93 L32.75 277 L34.1 276.83 L35.73 276.58 L36.34 276.65 L38.03 277.36 L39.47 277.97 L40.43 277.56 L41.66 277.35 L42.95 278.01 L43.75 278.13 L45.05 278.48 L46.89 278.69 L48.26 279.12 L49.06 279.28 L50.29 280.47 L51.31 280.67 L52.56 281.63 L53.72 282.74 L54.4 283.31 L54.83 283.93 L56.36 285 L57.48 285.56 L57.72 286.64 L59.17 287.71 L59.84 288.74 L60.45 290.08 L61.74 291.18 L62 291.6 L63.68 292.03 L65.06 292.21 L66.08 293.08 L67.45 293.21 L68.44 294.54 L69.18 295.11 L70.46 295.71 L70.73 296.46 L72.06 297.69 L72.85 298.73 L73.38 299.1 L74.1 300.92 L74.64 301.97 L75.81 302.96 L76.41 303.56 L77.38 304.43 L78.4 305.45 L78.63 306.57 L79.76 307.28 L80.72 308.27 L81.7 309.36 L82.34 310.06 L84.03 310.53 L84.63 311.66 L85.44 312.66 L87.11 313.72 L87.17 314.42 L87.27 315.65 L88.04 317.03 L89.26 317.31 L90.31 318.22 L91.65 318.45 L95.74 317.11 L96.59 315.81 L98.07 315.7 L99.29 314.17 L100.18 313.33 L101 312.38 L100.95 311.88 L101.49 309.86 L103.84 308.81 L105.11 308.01 L105.98 305.95 L106.47 305.39 L106.39 303.48 L106.98 302.19 L107.36 300.81 L107.49 299.33 L106.86 297.99 L106.61 296.06 L106.06 294.87 L106.33 293.68 L105.31 291.36 L105.94 291.08 L105.71 289.17 L106.25 287.62 L106.48 286.57 L106.87 285.96 L105.35 284.94 L105.39 282.76 L105.29 281.73 L106.44 280.55 L104.62 279.77 L103.87 279.36 L101.93 277.36 L101.54 276.18 L102.02 274.37 L100.46 273.74 L99.45 273.36 L98.76 271.54 L97.29 271.51 L96.53 269.37 L96.56 268.12 L95.27 266.52 L94.81 265.04 L93.64 264.77 L91.75 264.28 L90.91 263.6 L89.82 264.15 L88.87 262.96 L86.73 262.47 L86 261.54 L84.63 261.1 L83.11 260.99 L81.87 259.8 L81.48 258.26 L80.51 258.4 L78.62 257.61 L77.58 257.57 L76.69 257.41 L76.13 256.48 L74.31 256.46 L72.83 255.98 L71.76 256.28 L70.06 255.7 L68.21 255.56 L66.63 256.28 L65.58 255.54 L64.32 254.17 L62.94 254.04 L62.33 256.16 L61.34 256.49 L59.95 256.94 L58.25 256.94 L56.38 256.44 L55.75 256.96 L53.72 257.44 L52.14 258.01 L51.39 258.8 L50.59 259.43 L47.82 259.35 L48.32 261.05 L48.9 262.6 L48.19 263.32 L49.04 264.93 L49.23 265.94 L49.8 267.14 L50.28 267.59 L51.35 269.24 L51.84 269.77 L52.32 271.1 L52.92 271.81 L53.19 273.46 L53.82 274.28 L54.47 275.74 L55.1 276.86 L55.91 277.61 L56.35 279.17 L57.42 280.19 L58.03 280.88 L59.38 281.24 L60.13 281.73 L61.72 283.37 L62.63 283.51 L63.83 283.88 L64.55 284.54 L66.13 285.45 L67.05 285.87 L67.9 286.89 L69.14 287.04 L70.2 287.75 L71.44 288.97 L72.38 289.98 L73.12 290.99 L73.52 291.63 L74.42 293.03 L75.13 293.56 L76.26 294.54 L77.67 295.57 L78.89 296.34 L79.31 297.26 L80.03 297.58 L81.05 298.68 L80.99 300.02 L81.49 301.13 L82.26 302.66 L82.75 303.3 L83.54 305.07 L82.83 305.94 L82.62 306.99 L82 308.71 L82.1 309.88 L82.45 310.68 L82.56 312.35 L83.4 313.51 L83.55 314.24 L83.78 315.51 L84.91 316.2 L85.64 317.24 L87.24 318.64 L87.79 318.68 L88.47 319.96 L91.91 319.54 L93.69 319.03 L94.38 317.88 L95.38 316.82 L97.09 316.31 L96.88 315.08 L98.38 314.47 L99.92 314.19 L100.1 313.31 L100.43 312.15 L101.55 310.95 L101.83 309.46 L102.43 308.64 L102.11 307.95 L101.78 305.32 L102.45 304.79 L102.29 302.83 L103.46 302.3 L104.58 301.37 L105.12 299.88 L106.01 298.19 L106.9 297.08 L107.18 295.08 L108.2 293.93 L106.97 292.11 L106.22 290.36 L106.06 288.97 L105.66 287.38 L106.7 285.54 L105.51 285.47 L105.38 283.47 L104.56 282.24 L103.63 281.05 L103.83 278.36 L104.03 277.52 L103.01 278.6 L101.84 279.13 L101.17 280.35 L100.66 281.54 L99.88 281.99 L98.58 283.04 L98.1 284.18 L98.18 285.4 L97.82 287.12 L97.83 288.05 L97.8 289.32 L97.61 290.67 L97.49 291.53 L97.74 292.98 L96.86 294.31 L96.44 295.08 L96.77 296.83 L95.75 297.67 L95.19 298.46 L94.8 300.48 L94.97 301.2 L93.78 302.3 L93.33 303.7 L92.62 304.57 L91.78 306.15 L91.51 306.76 L90.23 307.83 L89.28 308.42 L88.14 309.67 L87.27 309.85 L86.55 310.65 L85.79 311.81 L85.19 312.72 L83.97 314.01 L83.16 314.78 L82.56 315.85 L82.1 317.52 L82.07 318.74 L81.54 319.84 L81.39 321.03 L81.11 321.56 L80.42 322.85 L79.81 324.33 L79.28 325.01 L78.24 326.5 L77.8 327.39 L77.79 328.7 L73.78 328.42 L75.16 327.56 L76.59 328 L78.62 327.82 L79.12 326.79 L79.35 327.01 L81.07 326.5 L82.23 327.17 L82.58 326.74 L84.95 326.48 L86.65 326.81 L87.95 326.31 L90.05 326.22 L90.6 325.57 L92.5 324.86 L93.49 323.76 L94.25 321.7 L94.52 320.63 L96.48 320.33 L97.33 318.32 L97.4 316.79 L99.21 315.87 L98.86 314.64 L99.74 313.81 L99.27 313.15 L98.8 311.39 L99.46 309.93 L99.53 308.75 L100.14 307.35 L102.63 307.44 L102.52 306.33 L103.29 304.67 L103.88 303.97 L104.56 302.64 L105.31 301.91 L104.33 300.33 L104.25 299.72 L105.95 298.91 L104.35 297.5 L103.93 296.25 L103.07 294.43 L103.81 293.22 L103.44 291.65 L103.68 290.32 L104.42 288.91 L104.26 288.19 L104.25 286.74 L103.69 286.1 L103.72 284.81 L103.68 283.34 L104.16 282 L104.18 280.89 L103.03 278.81 L103.01 278.11 L103.08 276.82 L102.19 275.12 L102.55 273.59 L101.96 272.02 L100.4 271.91 L99.17 271.59 L98.06 270.97 L97.09 268.74 L95.68 268.98 L94.54 267.73 L93.21 267.26 L93.23 265.96 L92.14 265.78 L90.89 264.62 L90.65 263.8 L90.36 262.77 L89.1 262.22 L87.48 261.14 L85.67 260.98 L84.15 260.36 L82.16 259.95 L82.2 261.54 L82.11 262.61 L82.12 263.63 L81.96 264.91 L82.26 266.31 L82.55 267.88 L83.31 268.51 L83.07 270.42 L84.38 271.56 L85 272.12 L85.08 273.43 L85.62 274.51 L85.65 275.42 L85.87 276.51 L86.29 278.03 L85.88 279.51 L86.07 280.23 L86.59 281.86 L85.96 283.62 L87.02 284.51 L87.34 285.31 L87.53 287.01 L88.3 287.81 L88.45 289.19 L88.78 290.45 L89.07 291.72 L88.93 293.13 L88.76 294.34 L88.64 295.44 L88.77 296.45 L89.04 298 L89.26 298.58 L90.14 300.22 L90.23 301.32 L90.41 302.61 L89.58 303.92 L89.52 305.05 L89.59 305.99 L88.73 307.37 L88.39 308.58 L88.13 309.74 L88.04 310.66 L87.11 312.41 L87.54 313.45 L88.01 314.78 L88.07 316.01 L88.22 316.81 L88.06 318.54 L88.08 319.61 L88.83 321.42 L88.14 323.02 L86.64 323.13 L86.2 324.59 L84.94 325.34 L83.44 325.66 L83.21 327.19 L81.38 328.68 L80.26 328.94 L78.83 328.49 L77.68 328.55 L76.27 328.84 L75.03 328.32 L74.03 328.41 L72.64 329.29 L71.43 329.8 L69.48 329.78 L68.19 329.55 L66.11 328.53 L65.07 329.9 L63.7 329.69 L61.74 329.5 L60.26 330.66 L58.85 329.49 L57.28 330.1 L55.39 329.44 L53.51 328.8 L52.43 329.87 L50.73 329.37 L49.98 328.22 L48 328.17 L47.18 327.5 L45.31 326.51 L43.31 326.57 L42.67 324.11 L41.95 323.05 L41.27 321.81 L40.56 321.78 L38.73 321.38 L39.57 319.82 L40.57 319.15 L40.65 317.88 L41.86 317.15 L42.88 316.36 L44.09 315.57 L45.3 315.23 L46.23 314.4 L47.28 314.35 L48.12 314.52 L49.34 313.09 L50.03 312.36 L51.67 311.05 L52.18 310.7 L53.38 309.42 L54.24 308.57 L55.11 308 L56.91 306.9 L57.69 306.6 L58.73 306.09 L59.9 306.34 L61.75 305.24 L62.31 304.75 L63.63 304.04 L64.61 303.43 L66.26 303.48 L67.17 302.77 L68.41 302.22 L69.59 302.22 L71.37 302.23 L72.16 301.16 L73.44 301.92 L75.25 301.56 L75.94 300.64 L77.19 299.69 L78.16 299.42 L79.7 299.07 L80.79 297.96 L82.01 298.15 L83.19 297.43 L84.57 297.22 L85.54 296.84 L87.3 296.82 L88.48 296.29 L89.65 296.28 L90.87 295.55 L91.67 295.32 L93.07 295.12 L94.64 294.17 L96.03 295.07 L96.74 294.88 L98.65 294.87 L99.47 294.22 L101.34 293.92 L101.87 293.76 L103.7 290.65 L103.15 289.62 L104.27 288.23 L103.99 286.63 L104.92 286.17 L105.03 284.17 L104.57 282.71 L103.94 281.26 L103.59 280.09 L103.13 278.4 L102.46 276.88 L101.65 275.86 L102.7 274.93 L101.23 274.81 L99.88 273.45 L99.42 271.45 L98.46 271.38 L97.67 270.27 L97.68 268.98 L96.56 267.22 L95.87 267.06 L94.52 265.88 L93.28 264.86 L94.19 263.23 L93.29 261.71 L90.83 260.79 L89.78 261.21 L89.05 259.6 L87.32 260.35 L86.6 257.68 L84.79 257.44 L83.46 256.55 L81.01 256.91 L80.05 255.92 L79.03 256.23 L77.33 257.01 L75.02 255.95 L74.72 256.56 L72.69 255.21 L71.07 254.02 L69.28 253.37 L68.81 253.43 L67.56 253.46 L65.92 254.42 L63.74 254.1 L62.4 253.7 L62.19 254.24 L60.28 253.68 L58.76 254.29 L57.57 254.44 L56.45 254.65 L55.35 254.73" fill="none" stroke="#9c1a2e" stroke-width="0.6" stroke-opacity="0.95" stroke-linejoin="round"/>
<ellipse cx="66.9" cy="293.5" rx="44.4" ry="42.6" fill="none" stroke="#111" stroke-width="1.8"/>
<ellipse cx="66.9" cy="293.7" rx="33.3" ry="31" fill="none" stroke="#111" stroke-width="1.8"/>
<circle cx="69.5" cy="331.1" r="1.2" fill="#1010ee"/>
<circle cx="84.9" cy="330" r="1.2" fill="#e02020"/>
<path d="M185.28 326.14 L183.73 327.26 L183.07 327.02 L181.27 326.99 L180.52 327.11 L180.1 328.04 L178.69 329.4 L177.34 329.91 L176.14 330.29 L174.17 329.06 L173.29 329.07 L172.3 329.97 L170.75 330.53 L168.95 330.35 L168.08 331.75 L166.31 330.91 L165.27 330.74 L164.33 330.59 L162.99 330.59 L161.51 331.71 L159.35 332.41 L157.97 330.71 L156.61 330.05 L155.68 329.05 L153.43 329.67 L151.12 329.85 L150.74 328.62 L149.18 328.46 L147.43 327.86 L146.59 327 L144.82 326.91 L143.84 325.56 L143.24 324.78 L142.17 323.04 L141.02 322.07 L140.98 320.33 L138.98 320.58 L138.43 319.52 L138.03 318.64 L136.05 317.26 L136.27 315.2 L134.85 314.76 L133.08 313.79 L132.12 311.76 L132.32 309.82 L132.74 308.42 L131.64 306.72 L129.86 306.62 L129.75 306.82 L130.21 304.19 L128.82 303.16 L128.89 302.18 L129.09 300.99 L127.72 300.03 L126.64 297.84 L127.55 296.66 L126.06 295.7 L126.64 293.75 L126.86 293.25 L124.9 291.02 L126.34 289.55 L127.51 288.42 L128.07 286.22 L127.42 285.72 L127.15 283.66 L127.94 282.02 L129.29 281.3 L130.54 280.25 L131.23 278.59 L131.04 277.15 L131.41 275.22 L132.13 274.26 L133.48 273.59 L133.66 272.43 L134.5 270.91 L134.99 269.74 L136.07 268.14 L136.51 267.72 L137.69 267.07 L138.84 266.97 L139.51 265.31 L141.32 264.68 L142.17 265.34 L143.42 264.41 L144.98 263.05 L145.17 263.97 L146.82 264.42 L147.72 264.98 L148.99 265.93 L150.11 265.45 L151.72 266.21 L153.08 266.28 L153.83 266.42 L155.06 266.91 L156.8 267.32 L157.77 267.37 L159.2 268.09 L160.3 268.5 L161.36 269.02 L162.38 269.39 L164.35 269.43 L165.58 270.39 L166.66 270.55 L167.35 271.81 L168.26 272.74 L169.3 273.21 L169.26 274.47 L170.76 275.56 L171.54 276.33 L172.66 277.25 L173.42 278.29 L174.55 279 L175.42 279.18 L176.85 279.58 L177.84 279.32 L178.78 280.23 L181.03 280.55 L181.72 280.21 L183.38 280.92 L184.58 281.48 L184.98 281.84 L185.95 283.11 L187.23 284.09 L187.54 285.47 L188.71 286.55 L189.58 287.21 L190.19 287.97 L191.61 288.78 L192.22 289.74 L192.77 290.62 L193.87 292.33 L194.35 292.88 L195.21 294.23 L195.17 295.26 L195.49 296.32 L195.99 297.56 L196.28 298.79 L197 299.97 L198.09 301.05 L198.61 301.89 L199.72 302.89 L200.6 303.82 L201.18 304.48 L200.63 308.56 L200.66 309.91 L199.2 310.87 L200.22 312.46 L198.97 314.28 L198.23 315.16 L197.52 317.36 L197.08 318.56 L195.55 319.09 L194.7 320.67 L193.61 322.5 L192.67 323.07 L190.55 323.92 L190.12 325.14 L188.97 323.28 L187.51 324.19 L185.42 324.9 L184.07 325.87 L183.01 326.69 L182.1 328.42 L180.69 327.65 L179.01 327.57 L178.14 329.67 L177.18 331.04 L175.6 330.17 L174.29 329.59 L173.49 329.13 L172.13 328.98 L171.69 331.22 L170.48 330.94 L168.58 331.62 L167.44 332 L166.34 330.35 L164.51 329.7 L163.42 329.75 L161.49 330.41 L160.12 329.12 L159.28 328.11 L157.54 328.61 L157.17 327.45 L155.52 328.77 L154.65 326.97 L154.04 326.2 L153.38 326.03 L151.41 325.3 L150.45 325.11 L149.51 324.68 L148.24 325.37 L146.88 324.39 L146.38 323.69 L145.32 322.7 L143.85 322.95 L142.87 321.94 L140.81 322.31 L140.14 320.75 L139.53 320.8 L137.94 320.65 L136.3 320.59 L135.78 319.44 L134.48 318.21 L134.15 316.52 L134.38 315.59 L134.86 313.45 L134.05 313.13 L133.09 311.97 L132.59 310.55 L132.66 309.17 L132.87 307.92 L131.9 307.46 L130.36 306.2 L129.39 305.24 L129.26 304.26 L129.99 303.07 L129.36 302.76 L129.62 300.64 L128.63 299.4 L128.53 298.32 L127.67 296.79 L127.54 295.38 L128.4 294.55 L130.01 293.78 L130.75 293.87 L132.34 293.28 L133.49 292.38 L134.05 291.97 L135.77 291.48 L137.43 290.97 L138.48 290.64 L139.66 290.59 L140.89 289.57 L142.45 289.81 L143.23 289.42 L144.75 288.99 L145.36 288.36 L147.25 288.29 L148.13 287.46 L149.54 287.34 L150.46 286.49 L152.06 285.77 L152.17 284.92 L153.76 284.27 L154.3 283.13 L155.13 282.58 L156.16 281.57 L157.23 280.36 L158.54 279.6 L159.16 279.31 L159.95 278.21 L161.14 277.62 L161.98 276.97 L163.18 276.29 L164.09 275.17 L165.51 274.7 L166.27 273.71 L166.9 273 L168.71 272.4 L169.6 271.29 L170.44 270.93 L171.74 270.07 L171.83 268.87 L172.42 267.7 L173.66 266.81 L174.32 265.86 L175.65 264.83 L176.09 264.03 L177.24 263.2 L178.07 262.89 L179.37 261.81 L180.9 261.88 L182.08 261.11 L183.37 260.96 L184.39 260.53 L185.58 260.94 L186.89 260.44 L191.94 264.87 L193.09 265.14 L195.12 265.81 L196.69 266.95 L199.1 268.07 L199.27 268.18 L200.34 268.99 L200.84 270.78 L202.27 271.59 L202.31 272.07 L203.28 273.5 L203.64 274.97 L203.74 276.83 L204.18 277.64 L204.35 278.42 L204.82 280.1 L205.57 281.61 L206.72 283.12 L206.77 284.4 L205.52 286.26 L205.65 286.86 L205.56 288.53 L204.74 289.53 L204.55 291.55 L204.58 292.7 L205.39 293.64 L205.1 295.19 L205.34 295.69 L206.52 297.93 L205.66 298.49 L205.76 300.42 L205.3 301.08 L205.44 302.14 L205.63 303.09 L206.02 304.85 L206.2 306.28 L205.32 307.12 L205.55 308.71 L203.85 309.23 L203.72 311.21 L202.98 312.06 L202.41 312.88 L201.35 314.72 L200.7 315.57 L199.44 316.98 L199.5 318.01 L197.85 318.52 L196.23 318.41 L195.11 319.48 L193.98 321.14 L194.23 322.36 L193.18 323.37 L191.37 322.62 L190.07 323.68 L189.54 325.04 L188.37 325.6 L187.28 326.46 L185.86 325.72 L185.13 327.84 L183.65 328.11 L182.72 328.53 L181.34 329.48 L180.17 330.53 L178.62 330.38 L176.53 329.74 L175.23 329.39 L173.67 329.86 L172.89 330.46 L171.52 330.77 L169.96 331.15 L168.94 331.1 L167.12 331.13 L165.81 331.55 L164.49 330 L162.76 330.61 L161.59 330.48 L159.78 330.63 L158.23 329.95 L156.94 329.49 L155.17 329.68 L153.05 330.05 L151.24 330.24 L150.24 328.69 L148.81 328.01 L146.88 327.21 L147.02 326.22 L144.91 325.36 L143.67 325.69 L143.2 323.38 L141.76 323.71 L141 321.26 L140.37 319.31 L139.32 318.99 L138.48 316.94 L137.26 315.75 L136.53 314.99 L135.78 314.5 L134.27 314.69 L135.79 314.47 L137.17 314.32 L138.35 314.38 L139.76 314.03 L140.73 314.22 L142.12 314.02 L143.61 314.12 L144.28 313.54 L146.03 312.74 L146.99 312.74 L148.46 313.62 L149.63 313.4 L151.3 313.22 L152.4 313.63 L153.5 312.76 L155.43 313.05 L156.3 313.25 L157.34 313.65 L159.08 313.56 L159.74 313.92 L160.98 314.02 L162.13 314.56 L163.24 314.21 L165.68 314.59 L166.14 315.15 L167.18 316.34 L168.02 317.37 L168.82 318.19 L168.81 318.95 L169.89 320.18 L170.59 321.26 L171.96 322.73 L173.11 323.27 L174.17 323.21 L174.8 323.72 L176.32 324.46 L177.48 324.61 L179.41 325.54 L179.48 325.65 L181.11 326.34 L182.22 326.58 L184.65 325.32 L183.79 325.82 L183.34 327.37 L181.66 328 L182.06 329.41 L180.49 329.52 L179.42 331.18 L178.63 331.93 L176.44 332.31 L174.74 331.39 L173.65 329.73 L171.73 330.15 L170.51 330.35 L169.01 331.44 L167.45 330.92 L165.74 331.57 L164.25 329.51 L163.33 330.34 L162.83 328.16 L160.21 329.83 L158.35 329.83 L156.38 329.47 L155.76 329.08 L153.61 328.42 L152.26 327.5 L151.76 327.04 L150.7 325.62 L149.37 325.6 L147.24 324.87 L146.86 323.17 L145.73 322.51 L144.64 321.41 L142.28 320.7 L141.1 320.71 L139.71 319.56 L139.02 318.39 L138.09 318.5 L137.72 317.67 L137.23 316.38 L136.42 315.21 L135.21 313.92 L133.72 312.36 L132.89 311.55 L131.3 310.41 L129.34 309.81 L129.74 307.91 L129.45 306.9 L128.32 305.35 L129.98 305.72 L131.13 305.74 L132.08 305.67 L133.72 305.53 L134.77 306.36 L136.19 306.33 L137.55 305.66 L138.77 305.69 L139.65 305.17 L141.06 304.91 L142.04 303.89 L142.85 303.1 L144.34 302.68 L144.75 301.47 L146.45 300.46 L147.39 299.76 L148.27 299.13 L150 299.42 L150.91 298.98 L152.65 299.83 L153.47 299.35 L154.76 299.58 L156.57 299.95 L157.64 299.8 L158.56 299.88 L159.61 299.78 L161 299.6 L162.81 299.94 L164.11 299.32 L164.79 300.24 L167.07 300.57 L167.75 301.29 L169.14 301.31 L170.09 301.64 L172.03 300.96 L172.53 302.03 L174.58 302.04 L175.54 302.08 L176.64 302 L178.39 301.72 L178.97 302.97 L180.74 302.56 L182.12 302.08 L182.87 302.04 L183.85 301.31 L185.16 300.66 L186.54 300.15 L187.46 299.7 L188.93 299.55 L190.35 298.95 L191.71 299.34 L192.72 298.57 L194.34 299.28 L195.39 299.02 L196.48 299.03 L197.95 299.39 L199.59 299.44 L200.74 298.44 L201.67 298.78 L204.19 296.63 L204.05 298.07 L203.87 298.6 L203.1 300.75 L202.71 301.26 L204.49 302.97 L204.55 304.92 L203.02 305.66 L203.81 307.04 L203.31 309.2 L202.24 310.23 L201.51 311.54 L200.24 312.33 L200.67 313.66 L198.86 313.84 L197.73 314.74 L197.56 316.32 L197.33 317.25 L197.32 319.36 L195.17 320.15 L194.21 321.08 L192.97 321.32 L191.63 322.58 L189.36 322.19 L188.81 323.64 L187.29 324.77 L185.29 325.33 L184.63 326.58 L183.84 326.28 L182.67 326.82 L181.73 327.75 L180.79 328.31 L178.69 327.64 L177.55 327.65 L176.98 329.01 L175.29 330 L174.62 330.78 L172.71 330.72 L171.34 331.05 L170.34 331.96 L168.23 332.29 L167.03 330.68 L165.93 329.93 L163.78 330.06 L162.83 331.46 L160.91 332.42 L159.76 331.62 L158.7 330.66 L157.94 331.08 L157.06 330.01 L154.82 329.82 L152.93 329.7 L152.9 328.82 L150.35 328.38 L149.69 326.68 L147.48 327.61 L146.25 327.6 L144.68 326.66 L144.47 327.06 L142.42 326.25 L142.02 324.49 L140.77 323.1 L139.36 321.25 L140.38 321.02 L141.59 320.43 L143.35 320.12 L144.88 320.38 L145.5 320.32 L147.03 320.2 L148.42 320.08 L150.01 319.85 L151.14 319.93 L152.06 319.92 L153.93 319.49 L154.86 320.39 L156.12 320.06 L157.34 319.98 L158.95 320.24 L160.34 319.87 L161.53 319.56 L162.46 318.53 L163.29 318.33 L164.87 318.01 L165.85 318.34 L167.67 318.41 L168.68 318.23 L170.57 317.54 L171.12 317.52 L172.16 317.63 L173.46 317.37 L175.27 317.85 L176.67 316.59 L178.01 316.39 L178.97 315.96 L180.36 315.21 L181.3 315.44 L182.7 315.17 L183.8 315.23 L185.16 315.6 L186.42 315.58 L187.64 315.36 L188.9 315.31 L190.54 315.17 L191.62 314.87 L193.28 314.59 L194.13 313.83 L195.45 313.67 L196.84 313.18 L197.9 312.54 L199.08 311.19 L199.09 313.65 L199.13 314.21 L198.03 314.71 L198 316.36 L197.52 318.39 L196.02 318.32 L194.66 319.61 L194.41 320.74 L193.06 322.18 L192.5 323.47 L191.93 324.51 L190.39 324.33 L188.5 324.33 L187.14 325.38 L186.42 326.82 L185.01 326.97 L183.53 326 L182.08 325.85 L181.32 327.17 L180.19 329 L178.68 328.53 L177.17 329.42 L176.55 329.36 L175.74 330.53 L174.01 329.89 L173.03 330.43 L171.26 331.58 L169.36 330.87 L168.07 330.59 L166.73 330.07 L165.32 329.56 L164.79 328.38 L163.83 328.24 L162.6 329.31 L161.09 328.88 L159.24 329.94 L157.85 329.89 L156.98 330.26 L157.63 328.97 L158.11 327.56 L157.33 325.69 L157.8 324.82 L158.36 323.78 L159.02 322.74 L159.43 322.15 L160.47 320.42 L161.52 319.25 L161.82 318.79 L162.36 317.82 L163.49 316.36 L163.84 315.63 L165.24 314.38 L166.01 313.97 L166.86 312.97 L167.61 312.86 L168.96 311.29 L169.71 310.58 L170.39 309.55 L171.12 308.34 L172.2 307.57 L173.36 306.75 L174.31 305.81 L175.05 305.11 L176.07 304.02 L177.02 303.21 L177.44 302.46 L178.17 300.86 L178.6 299.7 L179.38 299.5 L180.8 298.7 L181.6 297.51 L181.9 296.07 L183.08 295.66 L183.32 294.22 L184.44 293.49 L185.35 291.52 L185.8 291.63 L186.87 290.47 L187.63 289.01 L188.12 288.39 L188.66 286.87 L189.61 286.15 L190.54 285.26 L191.5 284.31 L192.5 283.96 L193.85 283.21 L195.19 282.09 L196 281.71 L197.14 281.28 L198.46 280.93 L199.2 280.58 L201.38 280.79 L201.22 282.03 L202.39 282.64 L202.49 283.75 L203 285.12 L203.64 286.34 L203.47 287.9 L204.01 289.33 L203.45 291.25 L205.09 291.82 L204.21 292.8 L205.62 294.81 L205.21 296.09 L204.66 297.05 L204.68 298.09 L204.91 299.41 L205.53 300.67 L204.6 302.2 L204.08 302.41 L204.51 303.86 L203.07 305.46 L203.71 306.79 L203.1 307.31 L204.25 308.67 L202.56 309.41 L201.73 310.24 L201.38 312.12 L201.34 312.65 L199.6 313.94 L199.16 315.33 L197.96 316.09 L197.29 316.58 L195.54 317.41 L193.61 317.94 L192.26 319.79 L193.56 321.68 L191.49 321.35 L190.48 323.08 L189.05 323.86 L188.33 325.43 L186.34 325.79 L186 325.24 L184.46 327.35 L183.31 327.46 L182.91 328.58 L180.95 327.86 L179.76 328.67 L178.04 330.26 L175.88 329.15 L174.71 330.43 L173.51 331.78 L171.07 331.76 L170.53 332.51 L169.49 332.23 L167.68 330.77 L166.36 330.98 L165.41 331.5 L163.73 332.93 L162.38 332.36 L160.69 332.49 L159.82 332.55 L158.79 331.35 L156.84 330.6 L155.53 329.68 L154.54 329.53 L153.44 329.4 L151.96 329.87 L150.34 328.37 L149.9 327.13 L147.87 326.78 L147.47 327.23 L146.46 326.17 L145.18 324.16 L143.84 324.32 L142.06 323.66 L140.98 322.96 L140.15 321.48 L138.43 320.74 L136.64 321.52 L136.13 319.79 L135.71 317.97 L134.77 316.68 L134.31 315.91 L133.2 315.03 L132.9 313.85 L132.5 312.72 L130.38 312.56 L130.67 312.37 L129.97 310.35 L129.51 309.19 L129.31 307.3 L129.21 305.83 L128.59 304.14 L126.94 302.84 L127.73 301.55 L128.09 300.49 L128.69 299.96 L127.5 297.97 L128.86 296.62 L127.89 295.51 L128.12 293.85 L127.25 292.42 L126.59 291.22 L126.55 289.49 L126.53 288.14 L126.48 286.26 L127.67 286.57 L128.95 285.86 L129.76 285.5 L131.1 285.99 L132.86 284.8 L134.11 285.53 L135.26 285.28 L136.61 285.36 L138.14 285.65 L139.21 285.46 L140.26 286.13 L141.97 285.99 L142.68 286.63 L144.11 286.21 L145.86 287.06 L146.89 286.94 L147.7 287.35 L149.41 287.23 L150.92 287.78 L152 288 L153.44 287.57 L154.88 288.24 L155.76 288.17 L156.88 288.33 L158.09 288.44 L159.63 288.42 L161.35 288.9 L162.34 289 L163.55 289.58 L164.51 289.58 L166.7 289.65 L167.54 289.54 L168.94 289.66 L170.31 288.96 L171.65 288.66 L172.98 288.64 L174.34 288.92 L174.95 288.44 L176.82 288.31 L177.85 288.59 L179.4 288.08 L180.73 288.73 L181.78 288.67 L183.21 288.53 L184.33 289.29 L185.41 289.59 L186.29 290.75 L187.54 291.51 L188.6 291.96 L189.97 292.61 L190.92 293.52 L192.2 293.96 L193.08 293.45 L194.5 294.21 L196.45 293.78 L197.04 294.47 L198.44 294.61 L199.57 294.93 L200.79 296.28 L202.26 296.6 L203.38 297.04 L204.54 297.18 L204.66 290.74 L203.71 290.44 L204.45 289.05 L205.64 288.02 L204.74 286.68 L204.21 285.5 L204.39 283.66 L204.73 282.99 L203.71 281.63 L203.91 279.56 L203.59 278.61 L202.64 277.62 L202.59 275.6 L201.82 274.3 L200.98 273.24 L200.12 271.19 L199.04 270.06 L197.96 268.98 L196.94 268.14 L196.31 267.59 L195.05 266.43 L193.26 266.83 L193 265.62 L192.39 264.58 L190.48 264.51 L190.62 262.8 L188.7 262.08 L188.8 260.64 L188.32 260.29 L186.1 259.8 L185.37 257.98 L183.23 257.79 L181.96 257.71 L180.59 257.56 L178.76 257.06 L177.64 256.87 L176.04 256.63 L174.19 256.81 L172.97 257.58 L172.01 256.36 L170.17 256.05 L169.56 255.23 L168.34 254.62 L167.35 256.97 L166.53 256.77 L164.77 255.32 L163.94 255.78 L162.58 254.03 L161.28 255.36 L160.57 255.27 L159.87 256.03 L158.63 257.26 L157.76 257.67 L155.77 256.52 L154.94 258.31 L153.55 258.22 L152.1 259.66 L151.35 261.02 L150.44 261.25 L148.85 260.6 L148.26 260.67 L146.96 262.2 L147.21 264.39 L145.91 264.31 L145.2 265.39 L143.56 265.61 L143.53 266.68 L142.56 267.44 L140.88 267.51 L140.09 269.05 L138.16 269.69 L136.1 270.55 L136.36 271.6 L136.6 272.9 L135.78 274.28 L135.33 274.39 L133.44 275 L132.91 276.87 L133.82 277.8 L133.3 279.68 L132.94 280.31 L131.39 281.34 L130.24 282.96 L130.34 284.58 L130.14 285.04 L131.09 286.96 L129.84 288.39 L128.78 289.65 L128.01 291.21 L128.46 292.6 L128.7 294.15 L127.7 295.75 L128.28 296.66 L129.9 297.96 L130.72 298.64 L132.55 298.1 L133.46 298.16 L134.12 297.04 L135.38 297 L136.9 296.18 L138.1 295.77 L138.71 295.08 L139.86 294.09 L141.16 293.97 L142.14 293.4 L143.67 291.97 L144.37 292.2 L146.12 291.66 L146.63 291.46 L147.97 291.12 L149.39 289.67 L150.14 289.42 L151.95 288.93 L152.27 287.51 L152.62 286.15 L153.88 285.64 L154.94 284.21 L156.27 283.71 L156.57 282.56 L157.19 282.04 L158.51 280.96 L158.71 279.72 L160.21 279.36 L161.42 278.43 L162.23 277.49 L163.28 277.25 L164.98 276.33 L165.72 275.87 L166.99 275.41 L168.05 274.54 L169.02 273.96 L169.97 273.74 L170.68 272.88 L172.69 272.02 L173.69 271.83 L174.86 272.07 L176.53 271.92 L177.58 270.71 L179.12 270.58 L179.89 271.64 L181.53 271.88 L182.97 271.62 L183.78 271.37 L185.34 270.9 L186.27 270.69 L187.47 270.32 L188.48 269.18 L190.2 269.07 L191.08 269.07 L192.2 268.37 L194.05 268.25 L195.59 269.94 L193.98 269.43 L194.2 267.34 L192.52 267.22 L190.98 266.7 L191.29 264.73 L189.75 264.03 L188.86 262.87 L188.3 263 L186.75 261.6 L185.17 260.31 L183.79 260.04 L182.75 259.7 L181.11 259.61 L180.36 257.94 L178.91 258.53 L177.63 259.47 L176.93 258.31 L176.16 258.55 L174.47 258.96 L173.34 258.3 L172.24 256.52 L170.88 255.76 L168.95 255.48 L167.11 255.05 L166.22 254.97 L165.29 254.57 L164.17 255.9 L162.66 254.71 L161.21 254.74 L160 254.9 L158.78 255.4 L157.45 255.84 L156.47 255.68 L154.42 256.25 L153.38 256.32 L151.97 257.9 L150.29 257.44 L149.33 258.24 L148.38 257.91 L147.62 259.37 L147.04 261.46 L145.67 260.98 L145.89 262.25 L144.05 263.82 L142.94 264.57 L142.57 266.16 L140.92 267.01 L140.76 268.84 L141.6 269.36 L141.82 270.68 L142.45 271.59 L143.02 273.05 L143.43 274.73 L144.29 275.33 L145.12 276.46 L146.02 277.27 L146.86 278.24 L147.01 279.12 L148.52 279.72 L148.74 281.37 L149.42 282.57 L149.58 283.02 L149.92 284.75 L150.65 286.02 L150.98 287.25 L151.68 288.29 L152.48 289.54 L152.51 290.75 L153.45 291.85 L154.5 292.67 L154.25 294.06 L154.45 295.06 L155.08 295.89 L155.5 297.15 L155.66 298.74 L156.26 300.08 L155.79 301.22 L156.21 302.12 L156.23 303.58 L156.18 304.47 L156.35 306.36 L157.03 306.63 L157.62 308.45 L158.5 309.7 L158.85 310.63 L159.13 311.33 L159.9 313.22 L159.94 314.18 L160.99 314.79 L162.01 315.3 L162.44 316.43 L164.16 317.6 L164.76 318.61 L166.41 318.61 L167.15 319.61 L168.13 320.47 L169.4 320.51 L170.62 321.71 L171.06 322.81 L173.02 323.14 L172.93 324.14 L173.69 324.64 L175.4 325.29 L177.65 327.08 L179.53 327.15 L179.97 325.93 L181.38 325.35 L183.72 326.47 L184.3 326.3 L185.46 324.92 L185.86 323.63 L187.67 324.18 L189.35 323.62 L190.13 322.9 L190.81 321.93 L192.4 321.45 L194.12 321.34 L194.51 320.33 L195.63 318.72 L194.74 316.88 L196.54 316.66 L196.45 315.93 L197.05 314.46 L198.32 313 L198.97 311.7 L200.43 310.92 L201.15 310.61 L201.39 309.01 L202.04 308.73 L204.31 307.93 L204.83 306.07 L206.01 305.02 L205.79 303.92 L206.64 302.99 L206.82 302.03 L208.47 300.56 L208.08 299.02 L207.96 297.97 L208.45 296.04 L208.96 295.32 L207.26 293.73 L208.17 292.92 L206.63 290.85 L207.64 289.5 L207.11 288.27 L206.97 287.06 L206.79 284.96 L206.47 282.87 L205.52 282.59 L204.45 281.29 L203.72 280.32 L203.14 279.56 L201.61 278.15 L201.42 276.77 L201.37 274.94 L199.85 274.37 L198.91 272.95 L199.25 271.37 L197.43 271.06 L195.64 269.74 L195.05 268.72 L193.66 268.45 L193.29 267.12 L191.78 266.4 L191.06 264.13 L189.94 263.62 L189.82 262.71 L187.76 262.63 L186.97 261.49 L184.67 260.82 L184.48 260.12 L182.23 259.75 L181.29 258.99 L180.29 257.97 L178.78 258.72 L177.86 257.77 L176.43 257.66 L174.74 257.03 L173.82 255.63 L172.25 255.38 L170.77 256.09 L168.82 255.89 L168.16 256.81 L166.98 255.53 L165.5 255.91 L163.95 255.68 L162.14 256.31 L160.72 255.58 L159.28 256.18 L158.19 256.25 L156.89 255.68 L154.92 256.06 L153.61 256.84 L152 257.12 L150.81 258.07 L149.7 258.73 L149.39 259.61 L147.32 260.86 L145.75 261.21 L143.71 261.25 L142.1 261.83 L140.76 262.37 L140.19 263.73 L139.91 264.92 L138.35 265.29 L137.85 266.32 L138.19 268.44 L135.9 268.6" fill="none" stroke="#2a88b4" stroke-width="0.6" stroke-opacity="0.95" stroke-linejoin="round"/>
<ellipse cx="167.2" cy="293.4" rx="44.4" ry="42.6" fill="none" stroke="#111" stroke-width="1.8"/>
<ellipse cx="167.2" cy="293.6" rx="33.3" ry="31" fill="none" stroke="#111" stroke-width="1.8"/>
<circle cx="136.1" cy="270.7" r="1.2" fill="#1010ee"/>
<circle cx="207.5" cy="294.5" r="1.2" fill="#c04050"/>
<path d="M105.83 397.08 L105.46 398.26 L105.73 399.08 L105.05 400.48 L105.42 401.63 L105.42 403.61 L104.62 405.14 L104.36 405.79 L103.62 407.16 L103.04 408.48 L103.28 409.79 L102.37 410.34 L100.16 410.8 L99.28 412.36 L98.96 413.32 L98.5 415.73 L98.12 416.9 L96.36 416.76 L95.78 417.93 L94.46 417.78 L93.53 418.81 L93.37 419.97 L92.17 420.49 L90.37 421.97 L90.86 425.25 L88.63 424.88 L87.79 426.33 L86.65 427.35 L85.71 428.81 L83.9 429.31 L81.51 429.04 L80.59 429.59 L78.13 428.43 L76.93 427.34 L76.19 426.11 L75.95 425.02 L74.88 424.15 L75 422.67 L73.73 421.65 L72.85 420.36 L72.46 419.65 L72.02 417.88 L70.75 417.95 L69.53 417.46 L68.31 416.42 L67.51 415.8 L66.07 415.06 L65.29 415.02 L64.05 414.11 L62.79 413.47 L62.38 412.59 L61.01 411.64 L60 410.98 L59.33 409.75 L57.96 409.15 L57.11 408.17 L56.04 407.84 L54.86 406.68 L54.26 405.48 L54.21 404.61 L52.83 403.21 L52.65 401.96 L51.87 401.33 L50.61 400.05 L50.59 398.65 L49.47 398.07 L48.88 397.59 L47.61 396.15 L47.44 394.78 L46.17 394.42 L45.73 393.67 L44.33 392.6 L43.72 391.65 L43.05 390.78 L41.79 389.95 L41.13 388.99 L39.9 388.3 L38.74 387.82 L37.39 388.25 L35.94 387.65 L34.62 386.67 L33.43 386.19 L31.82 385.85 L32.05 381.97 L32.43 380.97 L31.38 379.27 L32.66 377.99 L32.87 376.42 L33.43 375.72 L33.55 374.76 L34.11 373.52 L35.69 372.11 L36.09 370.98 L36.71 370.1 L37.96 368.8 L39.44 367.3 L40.27 365.63 L42.04 365.76 L41.99 364.26 L42.61 363.51 L43.66 362.03 L44.97 361.78 L45.95 361.21 L47.6 361.39 L48.84 360.14 L49.77 359.68 L51.46 358.68 L52.41 358.92 L52.81 357.89 L54.01 357.66 L55.5 357.73 L57.33 358.32 L58.43 356.71 L59.49 355.81 L60.52 356.34 L61.73 356.97 L63.03 356.44 L64.6 355.4 L66.15 355.79 L67.53 355.88 L69.06 355.53 L71.02 355.52 L72.21 355.02 L73.21 355.49 L75.63 355.74 L77.71 356.74 L78.54 355.77 L80.15 355.95 L82 356.4 L82.58 356.23 L83.86 356.83 L84.54 358.16 L85.18 358.94 L86.4 359.57 L87.05 360.97 L87.31 361.53 L88.83 363.55 L89.85 364.3 L91.06 364.47 L92.27 364.52 L94 366.05 L94.83 366.64 L96.51 368.14 L97.11 368.7 L98.39 369.92 L98.41 371.96 L99.86 372.89 L101.09 374.03 L100.4 375.94 L100.99 377.38 L101.19 378.13 L102.83 378.85 L102.58 380.34 L101.49 381.01 L101.04 381.86 L99.85 383.31 L98.87 383.45 L97.93 385.07 L97.53 385.83 L96.66 387.06 L95.3 388.08 L94.83 388.42 L93.98 389.72 L92.96 390.23 L91.7 391.71 L91.44 391.81 L89.88 392.82 L89.04 393.84 L88.5 394.94 L87.75 395.86 L86.48 396.66 L85.75 398.3 L85.33 398.81 L84.5 399.35 L83.72 400.34 L82.53 401.75 L81.41 402.65 L81.36 403.53 L80.21 404.67 L80.06 405.26 L79.06 407.27 L78.47 408.16 L77.15 408.98 L76.35 409.85 L76.04 410.52 L74.29 411.26 L73.87 412.15 L73.04 413.93 L73.06 414.41 L72.58 415.73 L71.49 417.05 L70.37 417.96 L70.09 418.98 L68.77 419.41 L68.47 421.04 L67.6 421.63 L66.48 422.69 L65.59 423.95 L65.07 424.51 L64.05 425.66 L62.73 426.01 L61.11 427.48 L62.69 429.35 L63.9 430.86 L65.29 430.53 L67.36 430 L68.06 429.84 L69.55 429.9 L71.23 428.77 L72.7 429.24 L73.62 428.36 L75.01 429.51 L76.74 428.08 L77.83 428.87 L79.09 426.79 L79.42 427.34 L80.8 426.88 L81.59 425.23 L83.59 424.51 L84.57 425.05 L86.68 423.41 L87.31 423.36 L87.79 422.29 L88.88 421.54 L90.14 421.29 L91.04 421.21 L92.35 420.26 L93.46 420.1 L94.85 419.53 L94.62 418.17 L96.05 417.94 L95.73 416.09 L96.86 414.94 L98.04 413.43 L99.3 412.71 L100.37 411.68 L101.49 410.59 L101.89 409.89 L102.3 408.1 L101.37 406.63 L102.34 406.19 L103.79 405.16 L104.31 404.07 L105.16 402.99 L104.72 400.72 L106.39 400.32 L107.13 398.86 L107.67 397.42 L108.77 395.88 L108.36 393.85 L108 392.82 L107.33 391.92 L108.7 389.72 L107.36 388.2 L106.53 387.34 L105.72 386.41 L105.85 384.89 L105.68 383.12 L105.03 381.48 L104.9 380.45 L104.54 379.34 L104.22 377.77 L102.88 377.63 L101.59 376.75 L101.02 375.74 L100.59 373.19 L99.74 374.34 L98.94 375.66 L98.47 376.34 L96.98 377.31 L95.9 378.07 L94.85 378.9 L93.73 379.22 L92.56 379.99 L92.27 381.13 L90.58 381.92 L89.49 382.53 L88.66 382.87 L87.67 383 L85.81 384.39 L84.82 384.67 L84.13 385.09 L83 385.65 L81.78 386.55 L80.67 386.68 L79.56 387.6 L78.32 388.22 L76.55 388.34 L75.64 388.33 L74.04 388.76 L72.98 389.15 L71.87 389.45 L70.39 389.86 L69.23 390.17 L68.07 390.34 L66.49 390.97 L65.46 390.43 L64.26 391.01 L62.92 391.18 L61.78 391.23 L60.26 391.41 L59.06 391.81 L57.38 391.49 L56.56 391.6 L55.31 391.77 L53.61 391.37 L52.67 392.27 L51.19 392.49 L49.95 392.77 L49.59 393.61 L48.05 394.27 L47.11 395.26 L46.22 396.35 L45.07 396.27 L44.19 397.01 L42.93 398.2 L41.68 398.47 L41.01 399.29 L39.43 399.89 L38.13 400.51 L37.33 401.24 L36.05 402.21 L35.45 402.79 L34.15 403.41 L33.41 404.22 L31 402.49 L32.02 403.13 L32.31 404.99 L33.35 406.72 L33.31 407.48 L32.81 409.1 L34.02 410.06 L34.61 411.41 L34.77 412.18 L35.01 413.68 L36.34 415.38 L36.88 417.09 L37.86 417.13 L37.7 419.26 L38.23 421.19 L39.18 421.89 L40.68 422.43 L41.69 424.52 L42.25 424.65 L44.01 425.58 L45.24 425.92 L45.92 426.72 L46.83 427.51 L49.4 426.67 L50.44 427.15 L51.99 426.4 L53.17 426.03 L53.49 427.49 L55.27 428.72 L56.43 430.08 L58.15 429.42 L59.75 428.78 L60.6 428.42 L61.05 429.29 L62.97 429.01 L64.04 430.46 L65.67 430.85 L67.42 429.6 L68.54 430.87 L69.62 431.41 L71.1 430.43 L70.09 429.98 L70.1 428.27 L69.53 427.29 L69.89 425.48 L70.61 425.4 L71.33 423.72 L70.81 422.36 L71.08 421.15 L70.57 419.84 L71.14 419.06 L72.07 417.62 L72.89 417.08 L74.18 416.04 L75.13 415.09 L75.78 414.92 L76.55 413.74 L78.33 413.26 L79.08 412.35 L79.91 411.81 L81.38 410.85 L82.62 410.29 L83.7 410.15 L85.01 409.63 L85.89 408.94 L87.31 408.45 L88.43 407.36 L89.19 406.57 L90.42 405.92 L90.45 404.58 L91.7 403.69 L92.32 402.56 L92.72 401.32 L94.33 400.92 L95.76 400.54 L96.05 399.6 L96.5 398.07 L97.16 397.19 L98.51 395.74 L98.82 395.16 L98.7 393.15 L99.25 392.18 L99.83 391.68 L100.14 389.94 L101.02 388.66 L103.4 387.93 L102.99 386.09 L103.12 385.41 L102.85 384.66 L103.45 383.44 L103.08 382.56 L103.75 380.77 L102.68 378.45 L102.2 376.91 L102.28 375.59 L101.76 374.86 L101.1 373.31 L99.98 372.23 L97.77 371.22 L96.95 369.97 L96.88 367.45 L96.4 365.86 L95.61 364.81 L94.08 363.5 L93.02 361.62 L91.18 361.35 L91.47 360.08 L89.41 358.97 L87.78 359.15 L87.42 358.53 L85.72 358.35 L84.46 357.45 L82.7 357.7 L82.27 357.68 L80.8 356.32 L78.45 356.25 L77.86 356.56 L78.23 356.99 L78.24 358.62 L79.23 359.92 L78.39 361.03 L78.32 362.18 L78.21 363.76 L77.58 365.05 L77.52 365.77 L76.58 367.1 L75.97 367.82 L75.34 369.12 L74.96 369.97 L74.61 371.53 L73.48 372.36 L73.24 373.31 L73.24 374.87 L72.25 375.92 L71.42 376.68 L70.42 377.75 L69.31 378.51 L68.47 379.51 L67.15 379.69 L66.54 381.17 L65.9 381.25 L64.53 381.96 L62.61 382.39 L61.63 383.25 L60.28 383.41 L59.53 383.74 L58.4 384.99 L57.2 385.45 L56.4 386.29 L55.45 386.47 L53.89 386.95 L52.08 387.15 L51.35 388 L50.04 388.8 L49.17 389.48 L48.29 390.05 L47.14 391.13 L46.76 391.6 L45.72 393.16 L45.01 394.38 L44.04 394.7 L42.53 395.72 L42.04 395.71 L40.38 396.67 L39.13 396.93 L38.28 397.38 L36.91 398.06 L35.52 398.63 L34.04 398.52 L33.26 399.83 L32.29 400.27 L31 401.17 L31.3 405.02 L31.56 407.05 L32.02 408.09 L33.2 409.14 L33.54 409.82 L33.5 410.91 L34.28 412.52 L35.03 412.91 L36.1 414.67 L37.67 414.8 L38.82 415.85 L40.05 416.19 L39.78 418 L40.74 419.55 L40.37 420.65 L41.99 422.12 L42.18 422.8 L43.51 422.76 L45.03 423.51 L46.14 424.22 L47.15 424.2 L47.72 425 L48.86 424.12 L49.87 424.86 L50.07 426.63 L52.2 426.41 L53.02 426.86 L54.92 427.14 L56.63 427.58 L57.51 426.26 L59.08 427.87 L60.15 428.19 L61.65 428.07 L62.51 429.62 L63.18 429.72 L65.17 429.58 L66.75 431.22 L68.94 431.09 L70.51 430.5 L71.39 431.67 L72.77 430.86 L73.61 430.89 L75.02 430.92 L76.98 430.34 L77.75 430.03 L79.7 428.98 L80.59 426.92 L81.7 427.04 L82.68 426.95 L84.78 426.81 L85.35 425.46 L86.91 424.58 L87.96 424.42 L88.9 423.7 L88.79 421.8 L90.65 421.67 L91.43 420.04 L93.21 420.36 L93.71 419.05 L93.77 418.11 L95.17 417.88 L96.78 416.17 L98.31 416.52 L100.18 416.58 L101.44 415.89 L101.56 414.68 L101.54 413.06 L102.06 411.75 L102.44 410.22 L102.6 408.94 L102.27 407.71 L101.58 406.35 L100.57 405.39 L100.64 404.74 L100.12 402.94 L99.69 402.55 L99.1 401.2 L98.3 399.76 L98.52 398.69 L97.8 397.32 L96.39 396.27 L96.04 395.38 L95.33 394.62 L94.98 393.23 L94.59 391.76 L94.98 390.9 L93.73 389.25 L93.65 388.32 L93.53 386.92 L93.36 385.52 L92.55 384.98 L91.95 383.87 L92.24 382.14 L92.3 381.15 L92 380.23 L91.29 378.21 L91.13 377.48 L90.99 375.83 L90.41 374.37 L90.25 373.91 L89.51 372.28 L90 371.61 L88.82 369.95 L88.49 369.09 L87.33 367.74 L87.37 367.1 L86 366.34 L85.52 365.13 L84.6 363.2 L83.34 362.88 L82.46 362.22 L81.38 361.38 L81.1 360.4 L75.98 358.43 L75.72 357.53 L75.2 356.58 L73.2 356.99 L71.41 357.15 L69.88 356.67 L68.84 355.38 L68.04 355.75 L67.06 355.41 L66.06 357.26 L64.19 355.3 L62.29 354.99 L61.04 354.99 L59.15 353.92 L58.24 353.48 L56.8 354.15 L55.56 354.8 L54.23 356.66 L53.12 356.27 L52.15 356.07 L50.95 356.03 L50.07 358 L48.1 358.03 L47.35 358.27 L45.87 359.46 L44 359.49 L43.93 360.53 L43.69 362.6 L43.28 364.18 L41.74 364.69 L40.11 366.05 L39.47 367.72 L38.81 367.81 L37.14 368.65 L36.98 370.21 L35.56 371.65 L35.79 372.28 L35.58 373.32 L35.52 374.77 L34.86 375.88 L33.6 377.09 L33.81 377.94 L33.24 378.92 L32.46 380.79 L31.97 381.03 L31.71 382.91 L30.84 384.38 L31.16 385.31 L30.59 387.33 L31.15 388.16 L30.78 389.11 L30.62 390.45 L30.25 391.82 L30.11 392.18 L29.38 394.12 L28.28 395.14 L27.99 396.39 L28.08 397.83 L29.44 398.63 L29.49 400.16 L29.94 401.64 L30.23 403.21 L31.61 403.99 L31.71 405.13 L32.11 406.69 L31.11 408.09 L30.18 409.55 L31.6 410.51 L34.23 410.16 L33.86 411.35 L34.23 412.9 L35.05 413.52 L36.84 414.33 L38.13 414.78 L37.73 416.02 L38.83 417.85 L39.99 418.08 L41.27 419.53 L41.47 421.5 L42.06 423.2 L43.62 424.28 L44.57 424.04 L44.48 422.7 L45.02 421.77 L45.84 420.5 L46.63 419.12 L46.75 418.62 L48.33 417.16 L49.16 416.71 L50.5 416.67 L51.59 415.87 L52.76 415.3 L54.24 415.16 L55.03 414.23 L55.99 413.52 L57.83 413.33 L58.3 413.44 L59.81 412.53 L61.26 412.34 L62.89 412.51 L63.6 412.72 L65.04 412.61 L66.23 412.7 L67.48 411.03 L68.91 411.18 L69.94 410.98 L71.77 410.24 L72.43 410.31 L74.05 409.66 L75.08 409.05 L76.06 408.6 L77.59 407.72 L78.41 407.54 L79.36 406.65 L80.67 405.97 L81.37 405.06 L82.12 404.17 L83.73 403.33 L84.88 402.39 L85.2 401.31 L86.58 401.26 L87.79 400.78 L89.63 399.89 L90.43 399.96 L91.13 398.59 L91.81 398.33 L93.31 397.11 L94.67 396.9 L95.31 396.14 L96.16 395.16 L97.36 393.61 L98.33 392.81 L98.62 392.26 L99.6 391.72 L100.59 391.37 L102.23 390.71 L103.41 393.32 L104.67 394.41 L104.6 395.65 L104.23 396.78 L103.82 397.78 L103.06 399.1 L104.24 400.62 L104.7 401.9 L104.83 403.35 L104.79 404.96 L104.73 406.88 L104.61 408.11 L103.67 408.92 L103.15 410.8 L103.11 412.44 L101.58 412.73 L101.02 413.49 L100.55 415.03 L99.88 417.63 L99.11 418.11 L97.67 418.28 L96.89 419.09 L96.6 420.85 L95.92 420.39 L93.25 421.37 L92.39 423.14 L91.94 424.22 L90.22 424.12 L89.1 424.99 L87.44 425.48 L87.15 426.54 L85.91 427.05 L84.7 428.27 L83.65 428.18 L82.73 428.98 L80.89 428.99 L80.52 430.38 L79.44 429.47 L78.38 429.44 L76.92 429.91 L74.6 430.34 L73.66 429.2 L72.86 428.42 L71.07 428.07 L69.93 428.63 L68.45 428.9 L66.91 429.13 L65.5 429.96 L64.21 429.34 L63.06 430.21 L62.01 429.55 L61.08 430.02 L59.68 429.68 L57.1 430.02 L56.77 430.04 L54.47 430.22 L53.58 428.74 L52.37 428.56 L51.24 426.81 L50.74 426 L49.69 425.56 L49.11 424.47 L48.2 423.72 L47.72 423.48 L46.19 424.27 L45.63 422.3 L43.77 422.69 L43.58 421.8 L42.18 420.8 L40.93 420.38 L39.61 420.01 L38.75 419.72 L36.23 419.69 L36.64 417.53 L35.49 416.08 L35.93 415.13 L33.66 414.39 L34.93 413.66 L36.01 413.08 L37.53 411.97 L38.61 412.25 L39.3 410.91 L40.42 409.42 L41.59 408.96 L42.08 408.01 L42.78 407.31 L43.06 406.17 L44.23 405.2 L44.66 403.82 L45.54 403.2 L46.39 401.78 L47.05 401.4 L48.52 400.41 L49.23 399.4 L50.5 398.88 L51.46 398.01 L51.95 396.94 L53.47 396.65 L54.58 395.87 L55.18 395.09 L56.76 394.08 L57.15 393.6 L58.53 392.83 L59.38 392.31 L60.02 391.09 L61.29 390.08 L61.47 389.05 L62.38 387.7 L63.28 386.64 L63.81 385.69 L64.41 384.92 L64.63 383.66 L65.35 382.35 L66.12 381.36 L67.46 380.87 L68.56 379.81 L69.11 379.38 L70.94 378.28 L72.1 378.32 L73.06 378.17 L74.36 377.03 L75.19 376.49 L76.06 375.9 L77.37 375.37 L78.61 374.15 L79.15 373.34 L80.86 372.83 L81.94 372.32 L82.91 371.45 L83.84 371.16 L84.83 370.36 L86.08 369.48 L87.03 369.08 L88.32 368.61 L89.46 366.9 L92.69 367.83 L93.31 368.53 L94.97 368.57 L96.1 369.6 L96.67 370.48 L97.61 371.63 L98.69 371.58 L99.94 372.93 L101.48 374.2 L101.86 375.23 L102.56 375.72 L103.61 376.97 L103.22 379.03 L103.31 380.75 L105.9 381.91 L105.66 383.95 L106.75 385.52 L107.3 386.07 L106.89 387.11 L107.77 389.02 L108.7 390.83 L108.5 393.02 L105.89 394.21 L106.55 396.13 L106.69 397.68 L106.14 399.61 L104.67 400.69 L103.9 401.59 L103.07 403.01 L102.52 403.66 L103.2 405.66 L102.53 407.07 L101.67 407.65 L102.18 409.19 L102.24 411.3 L101.57 411.73 L100.65 412.59 L100.67 414.03 L98.93 415.54 L99.04 418.2 L98.29 419.61 L96.68 420.91 L94.95 421.54 L93.76 423.4 L91.51 423.18 L90.54 423.89 L90.53 424.84 L89.12 425.26 L88.44 426.52 L87.34 426.42 L86.25 426.48 L84.63 426.55 L83.84 428.03 L81.8 428.89 L80.76 428.49 L78.32 428.08 L77.53 428.58 L76.76 429.85 L75.71 429.52 L74.29 430.32 L72.96 430.31 L71.98 430.6 L70.85 429.95 L69.68 429.93 L67.79 430.34 L66.59 429.76 L64.6 430.82 L63.43 429.51 L61.93 429.78 L61.1 429.75 L59.82 429.05 L58.48 427.61 L58.8 426.93 L58.97 425.93 L58.82 424.39 L58.78 422.92 L58.8 422.24 L59.16 420.58 L58.28 419.62 L57.14 418.14 L56.57 417.44 L56.43 416.36 L56.03 415.15 L55.46 413.84 L54.77 412.56 L53.85 411.51 L53.92 410.66 L52.54 409.71 L51.85 408.1 L51.3 408.42 L50.36 406.77 L48.83 405.54 L48.59 404.52 L48.02 404.06 L47.62 402.75 L46.91 401.17 L46.27 400.25 L45.36 399.39 L44.56 398.28 L43.87 397.35 L42.76 396.04 L41.45 395.87 L40.66 395.44 L39.76 394.75 L38.49 394.16 L37.36 393.43 L36.84 392.04 L35.52 391.12 L34.37 391.11 L34.11 389.83 L33.12 388.39 L31.66 387.63 L31.62 386.63 L31.14 385.98 L32.78 380.68 L33.41 379.44 L33.48 377.86 L32.3 375.79 L33.5 374.37 L35.14 374.25 L34.88 373 L35.77 371.02 L36.57 371.04 L36.5 369.82 L37.14 368.63 L38.82 367.97 L40.18 367.74 L40.39 366.61 L42.74 366.21 L42.69 364.01 L44.33 364.59 L45.05 363.62 L46.96 363.06 L47.37 361.2 L47.96 360.68 L48.67 359.88 L49.71 358.07 L51.1 357.86 L52.02 355.92 L54.13 357.41 L54.73 356.66 L56.8 357.94 L57.43 356.02 L59.97 356.42 L61.86 357.5 L62.37 356.05 L63.92 356.04 L65.74 356.6 L66.8 356.26 L67.37 356.51 L69.69 356.25 L70.28 355.1 L71.78 354.89 L72.92 354.85 L75.03 355.88 L76.14 356.61 L77.24 355.86 L78.61 355.35 L80.3 356.08 L81.02 357.58 L82.04 358.29 L83.67 358.59 L86.37 357.01 L88.02 358.04 L88.42 359.69 L89.3 360.98 L89.8 363.33 L91.38 362.31 L91.59 363.99 L92.5 364.92 L93.78 366.28 L93.57 367.25 L93.77 368.71 L95.03 369.72 L95.83 370.25 L96.9 370.84 L98.29 371.57 L98.86 373.12 L99.91 374.32 L99.83 375.79 L99.95 377.31 L99.64 378.34 L101.59 379.08 L102.29 380.07 L103.54 381.32 L103.75 382.58 L103.68 384.47 L104.01 385.3 L104.88 385.94 L104.72 387.62 L103.81 389.01 L103.93 389.14 L104.19 390.6 L104.08 391.48 L103.77 392.87 L103.55 394.08 L103.93 395.4 L103.19 394.66 L101.39 393.91 L100.32 393.57 L99.3 391.93 L97.95 391.88 L97.08 391.28 L95.39 390.75 L94.36 389.7 L93.89 389.71 L92.44 388.55 L91.37 387.97 L90.49 387.44 L89.37 386.74 L88.28 386.14 L87.49 385.48 L85.79 384.76 L84.7 383.81 L84.27 382.46 L83.08 382.49 L81.87 381.13 L81.08 380.53 L80.4 379.68 L79.6 378.79 L78.42 378.3 L77.19 377.25 L76.91 375.7 L76.6 374.18 L76.15 373.62 L75.14 372.26 L74.13 371.48 L73.26 371.42 L72.25 370.25 L70.39 370.39 L69.12 369.63 L68.64 368.68 L67.68 367.9 L66.75 366.56 L65.26 366.16 L64.09 365.39 L62.83 365.63 L61.57 365.57 L60.62 364.96 L59.55 363.52 L58.36 362.89 L58.1 361.6 L56.91 360.54 L58.78 358.59 L60.2 358.46 L61.12 358.3 L62.28 357.53 L63.53 356.19 L64.34 356.81 L66.31 356.02 L68.11 355.89 L69.47 355.93 L70.97 356.84 L72.36 358.07 L73.99 357.3 L75.64 357.56 L76.3 357.74 L78.19 358.68 L79.16 358.04 L80.49 358.55 L81.39 358.49 L82.42 358.7 L83.72 359.12 L85.23 359.65 L85.45 360.68 L87.64 359.79 L88.5 361.05 L89.46 362.85 L89.88 364.73 L90.38 365.75 L92.31 366.28 L93.55 367.81 L94.43 368.32 L95.71 368.51 L97.21 368.7 L97.49 369.66 L98.1 370.89 L99.08 373.09" fill="none" stroke="#9c1a2e" stroke-width="0.6" stroke-opacity="0.95" stroke-linejoin="round"/>
<ellipse cx="67.1" cy="393" rx="44.4" ry="42.6" fill="none" stroke="#111" stroke-width="1.8"/>
<ellipse cx="67.1" cy="393.2" rx="33.3" ry="31" fill="none" stroke="#111" stroke-width="1.8"/>
<circle cx="51.2" cy="359.3" r="1.2" fill="#1010ee"/>
<circle cx="54.2" cy="431.7" r="1.2" fill="#e02020"/>
<path d="M138.59 418.01 L138 417.14 L137.15 415.2 L136.15 414.38 L136.14 412.55 L136.21 411.13 L134.52 410.8 L133.5 410.47 L132.94 409.05 L132.48 407.22 L131.09 407.21 L132.25 405.97 L130.94 404.17 L131.29 402.7 L129.7 401.95 L130.19 399.84 L130.23 399.35 L128.73 397.96 L128.34 397.09 L128.59 395.93 L129.13 395.09 L129.88 393.02 L130 391.69 L129.91 391.62 L130.41 390.33 L130.69 388.96 L129.84 386.97 L130.5 386.3 L130.34 385.13 L130.85 383.38 L131.19 382.11 L132.27 380.76 L131.83 379.51 L132.97 378.63 L134.37 377.12 L134.2 375.9 L136.22 375.38 L135.87 373.72 L138.09 373.96 L137.92 372.06 L138.55 371.35 L139.72 370.3 L139.93 369.24 L140.52 367.56 L142.11 366.8 L143.18 366.03 L142.79 365.35 L143.29 363.96 L144.51 363.76 L145.6 363.25 L146.07 362.71 L147.98 362.09 L149.33 360.59 L150.84 361.24 L151.61 359.11 L153.25 359.61 L153.91 358.54 L155.43 358.1 L156.34 357.18 L157.9 355.95 L158.78 356.79 L160.48 355.92 L161.52 355.17 L163.09 355.93 L163.91 354.73 L165.05 356.02 L167.92 355.77 L168.36 355.36 L170.59 355.48 L171.55 356.31 L173.24 356.11 L174.38 356.25 L175.13 357.8 L176.72 357.64 L177.69 357.08 L178.42 358.86 L179.67 358.67 L180.96 359.29 L182.29 359.59 L184.05 359.67 L184.96 359.49 L185.77 360.69 L187.17 361.61 L187.98 362.27 L190.23 361.96 L191.74 363 L193.08 362.87 L194.44 363.75 L194.49 365.57 L196.1 366.44 L197.13 366.69 L198.44 367.9 L199.59 368.86 L200.55 370.55 L200.44 371.77 L201.07 373.09 L201.83 374.99 L201.62 376.57 L203.1 377.65 L203.56 378.58 L204.37 379.74 L205.42 380.75 L205.24 382.02 L206.41 382.82 L207.63 384.7 L208.73 386.24 L208.16 387.67 L207.38 390.61 L206.67 392.02 L207.81 393.85 L208.24 394.13 L209.23 395.91 L209.6 397.78 L208.24 398.73 L207.04 399.88 L206.35 401.66 L206.17 402.84 L206.89 405.24 L205.95 406.4 L206.53 408.03 L206.27 409 L205.01 408.95 L204.58 411 L203.82 411.84 L202.07 412.57 L201.05 413.92 L201.38 414.98 L199.56 416.25 L198.96 416.75 L197.67 417.85 L196.44 418.24 L195.63 419.48 L194.27 418.92 L192.7 419.46 L191.7 421.41 L191.2 422.57 L190.43 424.38 L189.04 425.75 L188.03 425.48 L185.44 425.93 L184.2 426.53 L182.35 427.32 L180.14 426.78 L179.77 427.83 L178.7 427.37 L177.84 427.27 L176.72 428.83 L174.72 428.56 L173.65 428.59 L171.71 428.7 L170.37 430.01 L168.64 429.57 L167.2 429.48 L165.37 429.57 L164.62 429.85 L163.12 430.87 L161.91 431.38 L160.92 431.47 L159.4 430.7 L157.33 431.32 L155.24 431.3 L153.96 430.51 L152.92 430.57 L152.44 429.52 L150.76 429.74 L149.79 427.78 L148.8 428.13 L146.98 426.41 L146.6 425.38 L144.65 425.34 L144.11 423.95 L143.17 423.48 L142.24 423.45 L141.11 422.26 L140.85 421.04 L139.77 419.92 L138.92 419.13 L137.56 418.33 L138.35 416.14 L136.76 414.78 L135.33 413.89 L135.67 412.63 L134.93 411.85 L133.31 411.56 L132.33 411.03 L132.18 408.6 L131.55 407.69 L132.26 405.51 L131.95 404.11 L132.05 403.03 L132.35 402.34 L131.17 401.74 L130.45 400.22 L129.88 398.35 L129.12 398.14 L130.24 396.64 L129.87 395.25 L129.99 393.75 L129.27 393.14 L129.85 391.21 L130.75 390.24 L130.95 389.13 L130.45 387.99 L130.92 387.38 L131.81 386.55 L132.68 385.3 L132.46 383.67 L133.42 382.62 L133.7 381.05 L132.96 379.17 L133.23 378.52 L133.64 376.61 L134.49 375.08 L135.31 375.09 L136.52 374.52 L136.48 373.5 L136.9 372.88 L137.75 371.22 L138.41 370.72 L139.18 369.33 L140.24 368.5 L141.78 366.34 L143.2 367.09 L144.92 366.89 L145.75 366.2 L146.57 365.15 L147.16 364.27 L149.13 363.99 L149.44 363.84 L150.96 362.37 L152.41 361.3 L152.58 359.96 L153.91 358.8 L155.13 357.99 L155.03 356.35 L156.81 356.67 L159.08 356.81 L159.14 356.16 L161.11 355.99 L162.72 355.72 L163.4 354.69 L164.53 355.12 L166.74 355.32 L167.6 355.5 L168.31 354.88 L170.19 355.83 L171.37 356.1 L172.7 356.77 L174.3 356.1 L175.58 357.13 L176.17 358.03 L177.51 359.56 L178.42 359.22 L179.93 358.77 L181.79 359.05 L183.12 358.45 L183.99 359.81 L184.45 360.38 L185.87 360.79 L186.27 363.12 L187.63 363.26 L188.95 363.87 L190.54 364.33 L191.17 364.64 L191.68 366.39 L192.52 367.52 L194 367.72 L194.86 369.5 L196.54 369.2 L197.14 369.94 L198.19 370.14 L198.77 371.14 L199.48 372.54 L201.37 373.74 L201.55 375.82 L203.77 376.03 L204.77 376.57 L204.09 379.18 L204.93 380.52 L204.64 382.31 L205.27 383.81 L205.81 385.59 L206.31 386.66 L205.98 388.43 L206.26 389.53 L207.08 391.58 L208.21 392.54 L207.49 394.05 L206.72 395.33 L206.12 396.34 L205.07 397.21 L204.47 398.4 L204.47 399.84 L204.1 401.12 L205.14 402 L204.26 403.4 L202.72 404.8 L202 405.48 L201.16 406.53 L200.92 408.55 L201.1 408.78 L201.49 410.29 L199.85 411.11 L199.6 412.13 L199.97 413.01 L199.63 414.87 L198.12 415.99 L197.18 417.03 L196.92 418.73 L195.78 419.09 L195.39 421.02 L194.47 420.75 L194.25 422.4 L194.02 423.73 L191.87 423.69 L190.93 423.9 L189.7 425.3 L188.77 427.18 L187.03 427.32 L186.08 427.91 L184.21 427.68 L183.03 429.1 L182.22 429.16 L180.88 429.82 L179.5 430.58 L178.29 431.88 L176.05 430.71 L175.37 432.43 L173.47 432.14 L172.43 432.98 L170.91 432.81 L169.07 432.16 L167.5 432.76 L164.99 433.07 L163.62 431.72 L162.91 431.07 L162.21 430.68 L161.28 428.64 L160.61 427.71 L159.21 427.84 L158.03 427.66 L156.58 427.73 L155.5 427.49 L153.69 426.93 L152.91 426.92 L151.71 427.91 L151.26 426.48 L148.93 426.02 L147.18 425.7 L145.49 426.22 L143.86 425.13 L143.67 423.6 L143.16 422.92 L142.11 421.53 L140.43 420.36 L138.82 419.76 L138.19 418.45 L137.97 416.75 L137.79 416.18 L136.66 414.35 L134.66 414.16 L134.64 412.25 L134.12 411.58 L133.51 409.72 L132.2 409.81 L131.86 407.45 L130.93 406.97 L130.21 405.14 L129.76 404.14 L129.64 402.82 L129.21 402.16 L129.59 400.57 L129.39 399.27 L128.43 398.07 L128.54 396.29 L128.89 395.06 L129.19 394.65 L130.05 393.35 L130.8 392.32 L130.72 390.71 L131.13 389.74 L130.93 388.54 L130.72 386.85 L130.71 385.24 L131.44 384.24 L131.52 382.7 L132.19 382.34 L132.19 379.59 L132.5 379.59 L133.09 377.9 L133.62 377.54 L134.39 376 L136.62 376.22 L136.99 375.13 L137.57 373.99 L138.64 373.53 L138.72 371.75 L138.26 369.85 L139.92 368.47 L140.04 367.65 L141.4 366.27 L143.25 365.24 L143.28 363.34 L144.5 362.7 L146.05 361.62 L147.3 361.82 L148.19 361.28 L149.89 360.44 L151.11 359.47 L152.71 359.17 L153.24 358.22 L154.86 358.09 L155.44 356.66 L156.12 355.21 L157.18 354.62 L158.56 355.02 L160.56 353.99 L161.64 353.38 L162.93 355.3 L165.59 355.49 L167.32 355.96 L168.4 355.44 L168.92 356.01 L170.6 356.25 L172.15 356.51 L173.74 358.53 L174.67 357.43 L176.07 357.4 L177.68 356.87 L179 356.24 L180.48 356.38 L181.36 357.53 L182.25 358.92 L183.12 359.05 L184.17 359.73 L185.49 360.27 L186.02 361.65 L187.62 361.59 L189.21 362.4 L190.38 362.73 L191.26 364.33 L192.3 364.49 L193.08 366.12 L194.45 367.47 L196.6 367.45 L196.44 368.64 L197.35 369.65 L198.75 370.19 L198.92 371.81 L199.37 372.57 L202.31 373.48 L203.63 374.92 L203.88 375.98 L205.59 377.01 L205.88 378.05 L205.4 378.97 L205.3 381.48 L206.2 381.87 L204.61 383.35 L206 385.3 L205.65 386.45 L205.65 388.42 L205.23 388.77 L205.98 390.45 L206.95 391.19 L207.51 392.65 L207.04 393.83 L206.26 394.96 L208.5 396.63 L208.38 397.48 L208.37 399.17 L207.68 400.3 L206.19 401.89 L206.33 402.88 L205.75 404.26 L204.7 405.59 L204.58 406.95 L203.84 408.78 L204.02 409.5 L202.94 410.89 L201.93 411.07 L201.17 412.69 L200.48 414.18 L200.3 414.7 L199.3 415.56 L198.9 416.72 L197.45 417.49 L196.86 417.77 L195.34 418.62 L193.87 419.11 L192.45 419.48 L192.4 420.9 L191.27 422.06 L189.91 421.99 L188.53 422.45 L187.77 423.36 L187.48 424.72 L186.37 424.4 L184.85 425.68 L183.31 426.25 L181.85 426.21 L180.91 426.76 L180.27 428.77 L177.56 428.73 L176.42 428.54 L174.93 428.33 L173.57 428.68 L172.46 429.25 L171.12 430.46 L170.18 429.47 L168.35 429.23 L167.1 430.99 L165.78 431.01 L164.35 431.29 L163.16 430.77 L162.36 429.12 L160.61 428.94 L159.43 429.1 L158.74 428.22 L157.35 427.49 L155.51 427.02 L154.53 426.98 L153.16 426.39 L152.05 425.57 L150.73 425.11 L149.48 425.77 L148.88 423.67 L147.39 424.09 L145.37 422.93 L144.72 422.42 L142.51 421.58 L141.99 420.08 L140.22 419 L139.22 417.71 L138 417.09 L137.23 415.75 L137.55 414.76 L135.45 413.79 L136.07 412.86 L135.48 412.55 L134.08 410.96 L134.61 410.26 L134.43 408.72 L133.04 407.54 L132.96 406.8 L132.64 404.78 L131.22 404.06 L129.51 403.39 L130.22 402.01 L129.63 400.54 L129.04 399.43 L128.25 397.86 L127.79 396.69 L128.26 395.82 L128.31 393.93 L129.46 392.51 L129.49 390.9 L128.95 389.79 L129.83 388.28 L129.14 386.88 L129.72 385.06 L131.02 384.92 L130.86 383.47 L129.7 381.7 L130.12 379.91 L130.39 377.66 L131.12 376.82 L132.86 376.63 L135.12 376.08 L135.85 375.64 L136.42 374.59 L136.52 373.03 L136.07 370.8 L137.32 370.28 L138.02 369.68 L139.05 368.11 L139.75 367.28" fill="none" stroke="#2a88b4" stroke-width="0.6" stroke-opacity="0.95" stroke-linejoin="round"/>
<path d="M159.41 429.86 L158.69 429.68 L160.37 428.84 L159.97 427.91 L159.3 426.9 L159.5 427.39 L160.82 426.18 L161.22 425.96 L160.71 424.67 L161.58 425.02 L161.16 424.27 L161.62 423.39 L161.94 423.31 L161.49 421.85 L162.02 421.12 L162.63 420.84 L161.57 420.36 L161.78 419.94 L161.52 418.95 L161.74 418.35 L161.92 417.94 L162.4 417.11 L162.7 415.95 L161.83 415.75 L161.78 415.37 L162.13 415.22 L163.05 413.79 L163.45 413.38 L162.82 413.3 L162.86 413.31 L162.64 412.58 L163.21 411.99 L163.31 410.52 L162.61 409.81 L163.64 410.13 L163.3 408.37 L162.4 407.27 L163.05 407.23 L163.57 406.58 L162.84 405.85 L162.66 405.62 L162.83 404.8 L163.24 405.42 L163.43 403.27 L164.28 404.1 L163.23 403.92 L163.38 404 L164.71 403.7 L164.04 403.57 L164.85 403.1 L164.03 403.07 L164.38 403 L164.82 404.89 L164.15 405.45 L163.97 405.95 L163.79 406.5 L164 407.21 L163.84 408.41 L163.64 408.97 L165.35 408.67 L163.83 410.21 L164.47 410.97 L164.09 412 L163.67 412.15 L163.54 413.24 L164.39 415.1 L164.21 414.54 L164.34 415.69 L164.13 416.85 L163.64 416.98 L164.1 417.98 L163.05 418.61 L162.46 419.48 L163.3 419.19 L163.13 420.12 L162.54 420.69 L162.63 421.58 L163.29 422.23 L161.81 423.1 L161.48 423.33 L161.47 424.34 L161.19 424.55 L160.96 425.37 L160.3 425.67 L159.55 426.11 L159.84 425.98 L158.65 426.85 L158.79 426.95 L158.06 427.28 L157.36 427.62 L157.23 428.56" fill="none" stroke="#2a88b4" stroke-width="0.55" stroke-opacity="0.95" stroke-linejoin="round"/>
<ellipse cx="168" cy="393" rx="44.4" ry="42.6" fill="none" stroke="#111" stroke-width="1.8"/>
<ellipse cx="168" cy="393.2" rx="33.3" ry="31" fill="none" stroke="#111" stroke-width="1.8"/>
<circle cx="173.1" cy="355.6" r="1.2" fill="#1010ee"/>
<path d="M67.86 530.97 L65.93 530.28 L64.5 528.52 L62.4 529.8 L61.17 529.1 L60.34 528.21 L58.88 526.54 L56.87 527.75 L55.77 527.92 L54.03 527.79 L53.15 527.18 L51.79 526.77 L49.94 526.11 L49.15 524.97 L47.43 524.65 L45.87 523.21 L44.36 522.75 L43.5 521.28 L41.7 521.04 L39.63 521.72 L39.88 520.17 L38.58 519.23 L36.64 518.75 L35.2 518.29 L35.32 517.2 L33.62 516.75 L33.85 514.2 L34.6 511.53 L32.55 511.41 L31.73 509.52 L32.23 508.3 L31.87 506.5 L30.82 505.34 L30.62 504 L30.96 502.84 L30.71 502.16 L30.17 500.6 L28.18 499.04 L28.3 498.13 L27.72 497.16 L29.16 495.27 L30.2 493.95 L30.34 492.78 L29.13 491.55 L29.97 489.92 L28.8 489.49 L29.26 487.51 L28.92 486.49 L29.31 485.25 L30.56 483.7 L30.91 482.17 L30.22 480.25 L30.96 479.02 L31.64 477.25 L31.75 476.7 L34.21 475.72 L34.37 474.06 L34.96 474.08 L36.7 474.56 L38.07 474.16 L38.83 474.15 L40.52 474.81 L42.22 474.81 L42.8 475.35 L44.46 475.26 L45.91 475.75 L47.01 475.75 L47.69 476.32 L49.53 475.14 L50.63 475.68 L52.09 476.23 L53.33 476.8 L54.47 476.89 L55.82 477.3 L56.46 477.53 L58.12 478.53 L59.15 479.13 L60.32 479.28 L61.77 479.4 L63.22 479.84 L64.21 480.74 L65.5 480.57 L66.49 480.92 L67.81 482.06 L69.3 482.28 L70.52 482.43 L71.82 483.68 L72.21 483.37 L74.17 483.55 L75.61 483.71 L76.64 484.01 L78.11 483.81 L78.74 482.64 L80.1 483.37 L81.55 482.55 L82.99 482.13 L84.31 481.75 L85.37 481.21 L86.45 481.5 L88.24 481.22 L89.91 480.94 L90.23 480.74 L92.3 480.98 L93.23 480.88 L94.24 480.46 L95.84 480.7 L97.15 481.17 L98.49 481.13 L99.62 481.21 L101.92 481.74 L103.24 483.55 L102.58 484.64 L102.83 486.37 L103.36 488.02 L104.99 489.31 L105.36 491.04 L105.7 492.46 L105.51 493.41 L105.8 494.61 L105.33 495.28 L105.61 496.63 L105.37 498.31 L105.03 499.15 L104.78 500.74 L104.91 502.08 L104.77 503.66 L104.04 504.92 L103.69 506.01 L103.25 507.41 L101.76 508.63 L100.79 509.37 L99.53 510.16 L100.76 511.03 L100.41 512.4 L100.33 513.11 L99 513.74 L98.28 514.86 L97.08 516.1 L95.95 516.62 L93.74 517.56 L93.09 518.95 L91.96 520.67 L91.72 520.95 L90.15 521.74 L88.86 522.17 L87.99 523.67 L86.34 524.69 L85.38 524.78 L83.87 524.75 L82.82 525.55 L81.62 526.05 L79.73 526.59 L78.69 526.41 L77.93 527.32 L76.76 526.12 L75.78 526.74 L75.6 528.36 L73.38 529.21 L71.93 528.34 L69.82 528.75 L69.07 530.2 L67.38 529.41 L66.69 530.07 L65.85 530.3 L63.87 530.54 L61.74 531.26 L61.43 531.39 L59.42 531.35 L57.77 531.57 L56.31 530.58 L55.34 530.78 L53.57 530.51 L51.92 530 L50.54 529.41 L50.18 527.11 L48.96 526.88 L47.06 526.14 L46.41 525.4 L44.2 525.02 L43.49 523.71 L43.39 522.94 L42.03 522.42 L40.82 521.33 L39.35 520.17 L38.38 520.26 L38.43 518.43 L37.65 517.18 L36.28 516.03 L36.06 515.34 L35.71 514.85 L34.5 512.74 L33.72 511.11 L33.23 510.73 L34.58 510.37 L35.11 509.36 L35.82 508.28 L37.35 507.42 L38.14 505.49 L38.68 505.41 L39.23 504.53 L40 503.47 L41.48 502.49 L42.88 502.19 L43.06 501.57 L44.49 500.26 L45.73 499.83 L46.29 498.37 L47.14 497.02 L48.05 496.49 L48.86 495.73 L48.83 494.59 L49.29 493.17 L49.46 491.82 L49.59 490.61 L48.97 489.39 L49.54 488.31 L49.31 486.61 L50.08 485.54 L49.67 484.38 L49.87 483.59 L50.15 481.99 L50.02 480.77 L50.4 479.47 L51.17 478.26 L51.18 477.26 L51.18 476.11 L52 474.76 L52 473.42 L52.29 471.94 L52.95 470.75 L54.18 469.82 L54.36 469.1 L55.1 467.93 L55.6 466.59 L55.31 465.57 L55.53 464.37 L56.43 463.2 L56.49 461.63 L56.54 460.35 L56.79 459.53 L61.19 457.59 L62.35 456.74 L62.89 457.22 L64.21 456.72 L65.9 456.72 L66.8 456.08 L68.09 455.46 L68.84 455.07 L70.98 454.25 L71.59 453.83 L73.08 454.5 L73.98 454.89 L74.74 456.33 L77.1 456.82 L78.3 457.67 L80.05 457.54 L80.18 459.21 L80.99 459.79 L82.46 459.5 L83.18 460.66 L84.59 460.78 L86.52 461.18 L87.66 462.14 L88.5 462.58 L90.27 462.77 L91.5 463.11 L92.5 463.59 L93.02 463.84 L94.07 465.87 L95.77 466.82 L96.24 468.36 L96.59 469.54 L97.56 470.71 L98.35 472.01 L99.5 473.26 L100.1 474.55 L101.56 475.49 L101.8 475.94 L103.24 477.27 L102.47 479.49 L103.27 480.27 L103.8 480.85 L104.62 482.25 L104.69 483.59 L105.24 485.04 L104.48 483.58 L103.76 482.96 L102.82 481.83 L102.03 480.9 L100.6 479.81 L99.77 479.13 L98.38 478.58 L96.94 478.41 L96.28 477.2 L94.72 477.5 L94.04 476.97 L93.12 476.1 L91.64 475.9 L90.05 474.99 L89.61 473.82 L88.4 473.54 L86.85 473.42 L85.5 472.69 L84.68 471.95 L83.92 471.79 L82.51 471.53 L81.16 471.09 L79.87 470.22 L78.54 469.91 L77.57 469.35 L75.95 468.94 L75.45 468.45 L74.01 468.17 L72.89 468.06 L71.54 467.02 L69.73 466.9 L68.83 466.77 L67.96 465.8 L66.13 465.47 L65.32 464.8 L64.29 464.61 L62.56 464.65 L61.71 464.63 L60.5 464.65 L59.06 464.46 L57.68 464.85 L56.19 464.1 L54.99 463.94 L53.76 464.76 L52.63 464.25 L51.56 464.21 L50.04 463.78 L48.66 462.44 L50.22 460.34 L51.85 459.38 L52.09 458.04 L53.72 458.61 L55.13 458.02 L55.78 458.48 L56.5 458.9 L57.95 458.79 L59.42 456.88 L60.71 456.65 L62.39 455.85 L63.07 455.61 L64.8 455.7 L65.69 455.84 L67.63 455.68 L69.45 455.2 L70.25 455.6 L71.51 454.05 L73.55 453.98 L74.09 454.82 L75.73 454.25 L76.27 454.13 L77.78 453.82 L78.97 454.39 L80.44 455.28 L82.15 456.31 L82.6 457.41 L84.14 458.57 L86.49 458.1 L87.06 459.64 L88.19 460.78 L89.72 460.41 L90.08 461.92 L91.56 463.03 L93.7 463.75 L95.07 464.78 L96.23 465.31 L96.16 467.7 L96.28 468.18 L98.09 468.63 L99.37 469.93 L99.75 471.64 L100.63 472.32 L101.99 473.48 L103.54 474.57 L104.31 476.12 L104.89 477.68 L104.96 478.36 L104.76 479.55 L105.14 481.77 L105.04 482.98 L106.05 484.48 L106.84 485.58 L106.32 486.73 L106.09 487.47 L105.39 489.11 L106.81 491.21 L107.23 492.53 L107.55 493.3 L105.88 494.76 L105.67 496.16 L107.59 497.85 L106.59 499.02 L106.55 500.43 L107.38 501.92 L107.8 503.51 L106.91 504.65 L106.39 506.39 L104.85 507.1 L103.35 508.59 L100.21 508.53 L98.8 509.05 L99.86 511.21 L100.81 513.5 L99.39 514.63 L97.85 514.72 L97.39 516.12 L96.74 517.43 L95.43 516.39 L94.52 515.54 L93.57 514.61 L93.06 513.94 L91.46 513.08 L90.37 512.46 L89.49 512.3 L88.08 511.66 L87.11 510.92 L85.58 510.59 L84.46 509.94 L83.28 509.79 L82.28 509.9 L81.51 509.73 L79.34 509.36 L78.39 508.28 L76.95 508.08 L75.99 507.46 L74.74 507.53 L73.23 506.85 L72.46 506.69 L71.02 506.51 L69.45 505.89 L68.6 506.24 L66.94 505.64 L66.1 505.82 L64.43 506.27 L62.74 505.93 L61.51 505.97 L60.08 506.28 L58.83 505.39 L58.05 505.71 L56.39 505.86 L55.24 505.19 L54.2 505.74 L52.95 505.1 L50.98 505.75 L50.07 505.56 L48.76 505.17 L47.65 505.26 L46.61 504.79 L44.69 505.15 L43.77 504.65 L42.31 504.25 L41.38 504.11 L39.99 503.5 L38.52 502.75 L37.39 501.6 L36.72 501.32 L35.8 500.14 L34.28 500.1 L32.9 500.14 L31.46 500.93 L32.36 502.13 L31.41 504.4 L31.49 505.57 L31.98 506.64 L31.83 508.09 L32.79 509.24 L33.24 510.56 L33.42 512.83 L34.01 513.44 L34.95 514.65 L34.48 516.38 L36.07 517.57 L36.92 518.84 L38.75 519.57 L39.84 520.05 L41.78 520.89 L43.44 521.22 L44.74 521.42 L45.83 523.02 L47.16 524.05 L47.78 525.07 L48.97 525.42 L49.55 526.19 L50.76 526.07 L52.5 525.9 L53.9 525.88 L54.35 527.47 L56.09 526.44 L56.65 526.2 L57.76 525.16 L57.38 523.84 L57.79 522.27 L57.58 521.27 L58.02 519.94 L56.75 519.15 L56.42 517.53 L56.03 516.31 L56.15 515.16 L56.45 514.43 L57.05 513.04 L57.58 512.02 L57.13 510.42 L56.6 509.17 L56.38 508.01 L55.87 506.72 L55.13 505.62 L55.36 504.44 L54.53 503.4 L54.35 502.28 L54.19 500.9 L53.33 499.82 L53.15 498.55 L52.56 497.29 L52.12 496.34 L51.56 494.98 L50.42 494.37 L49.38 493.6 L48.29 492.25 L47.92 491.41 L47.18 490.3 L45.47 489.83 L45.12 488.72 L44.9 487.48 L43.63 486.96 L42.94 485.09 L42.46 484.24 L42.56 483.07 L42.27 482.17 L42.3 480.4 L42.33 479.44 L41.97 478.39 L41.99 476.89 L41.41 476.23 L41.34 474.74 L40.39 473.34 L39.96 472.21 L39.87 471.24 L40.08 469 L39.04 469.66 L36.71 470.26 L35.73 470.72 L33.43 471.7 L31.82 472.21 L31.98 474.28 L31.34 474.97 L30.13 475.34 L30.84 476.84 L29.22 477.77 L30.1 479.26 L29.5 480.31 L29.62 482.51 L29.33 482.82 L28 484.99 L28.64 485.86 L27.79 487.15 L28.87 488.12 L28.64 490.03 L30.16 491.48 L29.94 492.95 L27.91 494.07 L29.28 494.95 L28.21 496.56 L29.36 497.09 L29.32 497.88 L30.01 499.39 L29.44 500.76 L28.9 502.51 L28.73 503.01 L28 504.98 L29.05 506.7 L29.63 506.99 L30.49 508.19 L32.36 508.98 L33.67 510.03 L33.9 511.36 L34.65 510.19 L35.52 509.48 L36.66 508.63 L37.78 508.09 L38.6 507.14 L39.68 506.9 L40.92 506.2 L42.23 505.79 L43.55 505.51 L44.94 505.23 L46.19 504.17 L47.42 504.02 L48.32 503.12 L49.33 503.07 L50.81 503.3 L52.36 503.19 L53.5 503.31 L54.47 503.27 L56.03 502.62 L56.93 501.74 L57.88 500.56 L58.99 499.94 L60.29 499.42 L61.35 499.08 L62.36 497.96 L63.42 497.78 L64.81 497.11 L66.03 497.15 L67.07 496.92 L68.76 497.04 L69.75 497.22 L71.44 496.15 L72.3 496.23 L73.8 495.73 L74.66 495.27 L75.59 495.2 L76.93 494.28 L78.57 494.23 L79.08 493.11 L80.79 492.96 L82.05 492.1 L82.99 491.27 L83.97 491.27 L85.68 490.96 L86.81 490.17 L87.93 489.79 L89.32 488.92 L90.33 488.81 L91.35 487.56 L92.2 487.41 L93.91 487.29 L94.65 486.29 L95.54 485.77 L96.93 484.63 L97.99 484.55 L99.36 483.33 L100.15 482.4 L102.06 480.7 L101.38 479.63 L100.68 479.22 L100.4 477.22 L99.77 476.16 L100.61 474.75 L99.87 473.85 L99.13 472.52 L99.22 471.68 L97.82 470.79 L97.16 470.73 L96.29 469.42 L96.7 467.97 L95.54 466.87 L94.58 465.58 L94.12 464.82 L92.42 463.71 L91.58 463.99 L90.39 462.62 L89.34 462.22 L87.45 462.64 L86.88 461.48 L84.85 461.46 L83.33 461.21 L82.52 459.31 L81.65 458.45 L80.71 457.88 L78.77 457.96 L77.68 457.68 L75.72 457.75 L74.72 457.59 L72.69 457.08 L71.57 455.98 L70.88 456.05 L69.44 456.29 L67.34 456.54 L66.04 455.75 L64.89 456.08 L63.58 457.01 L61.89 455.55 L60.43 456.59 L59.71 457.76 L58.77 458.29 L57.16 457.54 L55.21 458.52 L54.22 459.16 L52.42 460.29 L51.47 461.29 L49.75 460.57 L47.54 461.23 L46.16 461.04 L45.4 462.15 L44.01 461.72 L42.79 463.55 L40.79 463.81 L39.56 464.27 L39.3 464.75 L36.85 465.88 L36.64 467.06 L36.21 468.84 L34.5 468.93 L33.84 470.25 L33.03 470.76 L32.59 471.98 L33.5 472.21 L34.51 472.81 L35.7 474.26 L36.33 474.93 L37.01 476.21 L36.95 476.75 L38.05 477.86 L38.01 479.85 L38.98 480.33 L39.56 482.05 L39.86 482.74 L40.4 484.16 L39.79 485.04 L39.56 485.99 L39.43 488.09 L39.18 488.89 L39.25 490.57 L38.99 491.35 L39.65 492.73 L40.09 493.88 L39.92 495.45 L39.63 497.05 L40 497.78 L39.4 498.9 L39.78 500.56 L39.54 501.38 L39.85 503.07 L39.5 504.26 L39.43 505.16 L39.08 506.68 L39.2 507.93 L38.76 509.22 L39.02 510.41 L38.12 511.63 L38.44 512.24 L38.32 514.14 L38.67 515.05 L38.61 516.17 L38.92 517.25 L40.13 518.95 L40.93 519.83 L41.96 519.89 L43.01 521.86 L44.91 523.34 L43.71 522.62 L42.87 522.42 L41.22 521.59 L39.61 520.43 L38.12 520.13 L37.2 519.17 L36.01 518.19 L35.02 516.78 L34.46 515.12 L33.42 514.17 L31.74 513.09 L31.12 511.36 L31.27 509.36 L31.51 508.4 L30.76 507.5 L30.79 505.49 L30.43 504.18 L28.52 503.59 L27.5 502.16 L27.77 500.87 L28.12 499.42 L28.07 498.31 L25.89 496.54 L25.24 494.8 L25.63 493.45 L26.09 492.46 L25.24 490.53 L25.49 489.33 L25.51 488.41 L26.81 487.24 L28.86 486.76 L28.78 485.08 L29.76 483.66 L29.82 481.9 L30.8 480.78 L31.7 479.73 L31.58 478.43 L33.28 476.31 L33.41 475.39 L33.82 474.28 L33.29 472.49 L33.63 470.8 L35.52 471.19 L35.81 469.58 L36.8 468.9 L37.18 468.12 L37.74 467.4 L39.72 465.71 L41.54 465.37 L42.77 465.51 L42.86 463.69 L43.52 462.32 L44.87 461.56 L45.52 460.48 L47.11 459.32 L48.37 458.46 L49.41 458.84 L51.32 458.14 L51.87 456.92 L52.95 456.7 L54.47 456.41 L56.62 456.81 L58.27 457.13 L58.95 457.35 L60.03 457.09 L60.82 455.82 L61.95 454.46 L63.44 455.41 L64.66 454.31 L63.95 455.43 L63.37 457.33 L62.59 458.01 L61.37 457.94 L60.45 458.6 L59.37 459.63 L58.54 459.88 L57.44 460.73 L56.43 461.58 L55.11 462.9 L54.23 463.07 L53.24 464.56 L52.79 465.47 L51.9 466.78 L51.45 467.6 L51.3 468.58 L50 469.95 L49.4 470.87 L49.15 472.16 L47.92 473.04 L47.99 474.18 L46.89 474.89 L46.1 475.78 L45.76 477.27 L45.82 478.24 L45.06 479.47 L44.67 480.89 L43.84 482.57 L43.55 483.02 L43.3 484.4 L42.88 485.68 L42.47 486.83 L41.91 488.14 L41.92 488.42 L40.94 489.98 L40.35 491.49 L39.3 492.55 L38.82 493.36 L37.98 494.17 L36.77 494.99 L35.93 495.87 L34.59 496.65 L33.48 497.35 L32.64 498.74 L31.59 500.52 L31.24 502.06 L32.26 503.45 L31.47 504.33 L30.99 505.93 L31.08 508.08 L31 508.5 L31.3 509.87 L33.19 510.83 L33.96 511.82 L34.27 512.63 L35.52 513.56 L36.03 514.55 L35.45 516 L36.95 516.95 L36.92 518.34 L39.22 518.95 L41.19 519.69 L41.57 521.03 L42.66 522.57 L43.04 523.4 L44.27 524.62 L46.22 524.54 L47.22 525.66 L47.95 526.94 L49.74 527.35 L51.54 527.47 L52.8 526.66 L53.46 526.9 L54.64 528.86 L55.89 529.44 L57.4 528.81 L59.57 528.33 L60.32 528.66 L61.42 530.18 L63.31 530.95 L64.88 530.97 L66.83 531.24 L68.72 530.22 L69.89 530.26 L70.98 530.72 L71.65 530.61 L73.4 530.57 L75.36 530.77 L76.36 530.32 L78.17 530.04 L80.09 528 L79.97 527.36 L79.4 525.98 L78.99 524.4 L79.86 523.28 L80.71 522.55 L80.95 520.58 L81.21 519.47 L81.87 518.11 L82.73 517.46 L82.78 516.54 L83.9 515.4 L83.49 514.28 L83.93 512.36 L83.86 511.66 L83.78 510.4 L84.32 509.12 L84.85 508 L84.47 506.71 L85.05 505.27 L84.68 503.91 L85.26 502.96 L85.25 501.88 L85.68 500.21 L85.7 498.91 L85.64 498.01 L85.38 496.61 L85.14 495.52 L85.86 494.3 L85.19 492.94 L85.5 491.75 L85.58 490.71 L86.44 489.53 L86.3 487.95 L86.79 486.93 L87.17 485.65 L87.25 484.39 L87.81 482.93 L88.51 481.83 L88.9 480.41 L89.4 479.55 L89.46 478.63 L89.86 477.26 L89.78 475.98 L89.94 475.24 L90.61 473.53 L91.14 472.79 L92 471.97 L92.78 470.9 L93.93 470.04 L92.26 466.68 L90.5 465.9 L89.91 465.41 L89.02 464.77 L88.77 462.48 L87.58 461.61 L86.82 460.97 L85.23 460.48 L83.43 458.85 L82.42 458.86 L80.47 458.73 L79.8 458.89 L78.85 458.63 L77.19 457.75 L76.23 457.98 L75.43 457.28 L73.85 457.66 L73.03 457.18 L72.13 457.28 L70.14 456.38 L69.47 456.18 L67.42 456.95 L65.87 456.43 L65.14 456.28 L63.26 455.8 L62.18 454.78 L62.08 454.83 L59.55 454.88 L59.09 455.22 L58.34 455.95 L56.13 456.29 L54.13 456.17 L53.03 456.04 L51.35 457.63 L50.78 458.01 L48.78 458.97 L47.32 458.92 L46.3 459.24 L44.09 460.45 L42.92 460.75 L42.77 461.9 L41.24 463.15 L40.42 464.25 L39.43 466.28 L37.2 467.11 L35.32 468.06 L34.52 468.46 L32.87 469.02 L32.52 469.92 L33.33 472.18 L32.5 473.15 L32.96 471.87 L33.9 471.03 L34.82 470.38 L35.97 469.96 L37.39 469.04 L39.22 469.44 L39.79 469.3 L41.35 470.45 L42.57 470.51 L43.69 471.21 L44.81 471.91 L46.13 472.76 L46.51 473.44 L47.82 474.01 L48.99 474.02 L49.94 475.07 L51.83 475.28 L52.65 476.31 L53.5 476.53 L54.86 476.78 L56.16 477.6 L57.09 477.9 L58.36 478.37 L59.61 478.71 L61.01 478.78 L62.6 479.55 L63.23 480.25 L64.98 480.38 L65.92 481.54 L66.59 482.09 L67.34 483.75 L68.28 484.17 L69.35 484.74 L70.42 485.76 L71.36 486.87 L71.7 488.48 L72.03 488.98 L72.71 489.51 L73.91 491.12 L74.37 492.1 L75.79 492.83 L76.88 492.83 L78.17 494.17 L78.56 495 L79.95 495.39 L80.66 496.39 L82.2 497.49 L82.86 497.47 L84.73 498.22 L85.57 498.69 L86.52 499.07 L88.18 499.37 L89.25 500.19 L90.38 500.15 L91.64 500.8 L92.63 501.54 L93.56 503.01 L94.76 503.43 L95.44 504.04 L97.09 504.15 L98.3 504.22 L99.65 504.56 L102.1 503.95 L101.19 505.18 L101.05 506.75 L100.31 508.06 L99.91 509.15 L99.94 510.95 L99.27 512.07 L98.99 513.57 L97.71 514.3 L96.32 515.23 L95.7 516.23 L95.63 517.65 L94.57 518.36 L94.34 520.45 L92.59 521.74 L92.44 523.12 L91.8 523.95 L90.33 524.71 L88.74 524.35 L87.35 524.56 L86.13 524.59 L84.9 525.35 L84.2 527.64 L83 529.14 L81.88 529.57 L80.28 529.6 L79.12 530.66 L77.34 530.85 L76.08 531.13 L75.24 531.41 L73.76 531.74 L72.18 531.44 L70.1 531.84 L68.81 531.11 L68.39 529.95 L66.55 531.14 L66 531.14" fill="none" stroke="#9c1a2e" stroke-width="0.6" stroke-opacity="0.95" stroke-linejoin="round"/>
<ellipse cx="67.1" cy="492.6" rx="44.4" ry="42.6" fill="none" stroke="#111" stroke-width="1.8"/>
<ellipse cx="67.1" cy="492.8" rx="33.3" ry="31" fill="none" stroke="#111" stroke-width="1.8"/>
<circle cx="31.1" cy="489.2" r="1.2" fill="#1010ee"/>
<circle cx="50.5" cy="458.1" r="1.2" fill="#e02020"/>
<path d="M128.31 492.45 L128.15 490.58 L128.16 489.87 L128.42 487.95 L128.69 487.08 L130.52 485.9 L131.05 484.86 L129.97 483.97 L130.86 482.46 L130.69 480.77 L130.43 479.39 L131.17 477.79 L130.77 476.71 L130.87 474.43 L131.69 473.78 L132.63 472.74 L133.87 472.15 L133.92 470.83 L134.24 469.27 L134.9 468.37 L136.42 467.95 L137.59 468.05 L138.68 467.27 L139.41 467.01 L139.49 465.47 L139.9 463.59 L142.7 464.46 L142.83 462.44 L144.33 462.51 L144.28 461.57 L145.15 459.26 L146.88 459.53 L147.85 458.15 L149.67 458.73 L151.37 458.61 L152.37 459.1 L153.44 458.15 L154.77 458.23 L155.64 457.17 L156.52 457.14 L157.29 455.13 L159.39 454.07 L160.54 453.44 L161.15 452.8 L162.88 452.97 L163.92 452.54 L164.61 452.42 L166.7 452.72 L168.14 452.82 L169.42 454.04 L170.96 454.1 L172.04 454.3 L173.86 454.01 L174.22 455.03 L175.59 455.64 L176.84 455.56 L178.66 455.89 L179.41 457.29 L181.58 457.29 L182.35 457.71 L182.83 457.88 L184.27 459.04 L185.28 460.77 L186.83 461.6 L188.71 461.38 L190.76 461.38 L191.19 462.71 L191.86 463.77 L192.24 464.21 L193.78 465.67 L194.17 466.5 L194.59 467.51 L195.3 467.81 L196.13 469.8 L196.86 470.04 L197.45 470.97 L198.83 472.22 L198.68 473.43 L199.2 475.04 L199.8 475.7 L201 476.63 L202.35 477.38 L202.65 478.78 L203.54 479.94 L205.36 481.08 L205.85 482.14 L205.15 484.19 L204.84 485.19 L205.68 486.79 L207.18 487.44 L206.99 488.02 L207.22 489.54 L205.94 491.31 L207.15 492.06 L207.48 494.19 L207.36 495.31 L208.03 496.49 L207.18 497.53 L206.85 499.25 L205.96 500.28 L206.19 501.95 L206.04 502.73 L206.63 504.98 L205.74 506.28 L204.25 507.37 L204.25 509.84 L202.1 511.04 L201.57 511.52 L201.1 513.22 L200.02 513.82 L199.35 514.02 L197.45 514.8 L196.23 516.23 L196.03 517.19 L195.3 518.61 L194.97 519.22 L193.22 519.53 L192.68 520.58 L192.21 521.49 L191.24 522.03 L190.22 523.82 L188.98 523.78 L187.66 524.03 L185.35 523.23 L185.21 524.79 L183.57 524.46 L182.52 525.2 L181.57 525.64 L181.09 527.48 L180.78 528.66 L179.1 528.97 L178.31 529.88 L175.82 530.73 L175.23 530.91 L173.88 529.67 L171.73 529.08 L170.12 530.73 L169.39 529.36 L168.55 528.84 L166.82 529.09 L165.71 528.14 L164.63 528 L163.38 527.62 L161.71 527.96 L160.48 527.58 L159.23 526.74 L158.59 526.62 L157.57 526.73 L156.47 527.17 L154.78 526.62 L152.95 527.02 L151.51 527.8 L149.49 528.33 L147.63 528.37 L146.73 526.46 L145.37 526.19 L144.1 524.23 L142.73 523.3 L141.47 521.83 L142.16 519.51 L140.76 519.74 L139.82 517.72 L139.16 516.9 L137.69 516.08 L135.8 515.51 L134.86 513.94 L132.23 514 L133.04 512.87 L131.91 511.96 L132.2 511.55 L131.4 510.47 L131.31 508.97 L130.57 507.86 L129.07 506.81 L128.44 505.8 L127.91 504.71 L128.21 503.72 L127.65 501.43 L127.95 500.43 L128.42 499.39 L128.27 498.07 L128.14 495.55 L127.06 495.03 L126.66 493.83 L126.09 492.02 L128.35 490.75 L126.41 489.32 L127.39 487.76 L127.54 486.95 L127.26 485.2 L127.44 483.75 L128.2 482.88 L128.56 481.75 L129.31 480.74 L129.09 479.46 L130.36 478.19 L131.04 477.22 L131.51 475.59 L131.19 474.48 L131.29 473.13 L133.74 472.92 L134.01 471.91 L134.99 470.43 L134.91 469.08 L136.06 468.2 L136.7 467.49 L138.1 466.84 L138.82 465.22 L139.21 464.43 L139.71 462.16 L141.19 462.7 L142.03 460.97 L143.98 459.92 L144.82 458.89 L146.27 458.08 L147.78 457.35 L149.08 456.99 L150.48 456.78 L152.84 457.3 L152.81 455.28 L153.66 455.02 L155.88 455.45 L156.95 456.26 L158.03 456.6 L159.84 456.65 L161.21 457.05 L162.02 457.5 L163.15 456.69 L165.05 456.1 L165.96 455.24 L167.4 455.37 L169.22 456.05 L171.09 455.47 L172.4 456.4 L173.41 456.69 L174.64 457.87 L175.08 457.28 L176 457.97 L177.58 457.56 L179.56 456.89 L179.84 459.94 L180.78 458.8 L182.89 458.78 L184.34 458.82 L185.32 459.26 L186.38 459.95 L188.2 459.96 L188.72 460.68 L191.24 460.68 L192.36 462.21 L193.07 462.65 L194.74 463.75 L196.57 464.71 L197.09 465.83 L198.12 467.31 L198.24 468.99 L199.29 469.96 L199.84 471.18 L200.51 473.01 L201.72 473.5 L202.19 475.22 L203.36 476.17 L203.12 477.71 L203.38 478.22 L204.43 480.43 L203.96 481.55 L204.92 482.48 L206.23 484.4 L205.51 485.55 L205.73 487.31 L205.71 488.5 L205.83 490.01 L206.26 490.69 L206.84 492.35 L205.67 493.37 L204.85 494.11 L205.23 495.02 L205.32 495.82 L204.89 497.31 L204.35 498.81 L204.76 500.69 L203.87 501.89 L203.93 503.07 L201.69 503.96 L202.43 505.15 L202.47 506.07 L201.26 507.45 L201.61 508.42 L200.68 510 L200.33 511 L199.5 511.45 L198.23 511.86 L198.16 513.84 L196.59 514.73 L195.57 515.65 L194 515.9 L192.91 516.88 L191.95 517.49 L191.51 518.76 L190.73 519.17 L190.52 521.49 L190.06 522.23 L189.33 523.84 L187.94 524.33 L186.59 524.08 L185.79 524.42 L184.93 525.98 L184.35 525.9 L182.44 525.91 L180.73 527.65 L179.76 527.07 L177.44 526.84 L176.74 527.3 L175.44 527.34 L174.33 528.47 L172.17 528.78 L171.66 528.99 L170.56 530.14 L169.92 530.12 L168.14 529.48 L166.65 529.03 L165.32 529.12 L164.36 529.51 L163.16 528.84 L161.34 528.93 L159.7 528.09 L158.41 527.96 L157.37 528.84 L156.14 529.11 L155.22 528.73 L153.44 528.41 L152.01 528.98 L150.93 529.52 L148.62 528.63 L147.91 528.28 L147.29 527.83 L145.78 526.39 L145.4 524.86 L144.2 523.32 L143.56 522.15 L141.14 521.68 L141.03 519.91 L140.02 519.55 L139.97 518.7 L137.84 517.61 L136.82 516.82 L135.85 514.55 L134.86 513.24 L134.36 512.33 L132.93 510.81 L132.96 509.58 L132.59 509.51 L131.56 508.58 L130.76 507.07 L131.07 506.31 L130.41 504.82 L129.27 503.28 L129.76 502.46 L129.09 500.67 L127.71 499.5 L126.07 497.88 L125.84 496.79 L126.99 495.59 L127.5 494.34 L127 492.91 L127.49 491.75 L127.44 489.97 L128.33 488.79 L128.51 488.12 L127.36 486.04 L128.9 485.55 L131.02 484.08 L130.22 482.57 L130.24 480.74 L130.32 479.76 L129.64 479 L130.03 476.97 L129.45 475.38 L131.15 474.33 L130.93 472.07 L132.7 471.27 L134.5 470.4 L135.22 470.06 L135.3 468.14 L136.65 468.22 L137.73 466.81 L139.14 465.95 L141.13 465.88 L140.87 463.49 L141.83 463.08 L143.18 462.85 L144.54 462.22 L145.48 461.7 L146.58 460.84 L148.08 461.38 L150.53 460.61 L151.31 460.42 L151.87 459.3 L153.02 458.3 L154.42 456.88 L155.31 456.08 L157 456.07 L158.3 456.55 L160.13 456.88 L161.12 456.2 L162.59 457.1 L164.39 456.11 L165.55 455.93 L166.8 455.8 L168.53 456.08 L168.69 456.75 L170.35 455.6 L171.11 456.45 L173.16 456.12 L173.82 456.17 L174.95 457.81 L176.94 458.3 L178.11 458.73 L179.94 459.13 L181.84 458.81 L183.56 458.88 L184.21 458.9 L184.84 459.85 L185.88 460.57 L186.99 461.62 L189.32 462.49 L190.61 463.2 L191.37 463.46 L192.98 464.56 L195.2 464.44 L196.08 465.35 L196.07 466.62 L195.52 467.35 L195.52 468.87 L197.51 469.62 L197.86 470.75 L199.03 472.05 L200.89 471.42 L201.14 473.41 L201.47 474.34 L203.22 475.22 L203.14 476.98 L202.81 478.65 L203.25 479.63 L203.66 481.7 L203.56 483.03 L203.89 483.46 L204.84 484.6 L204.57 485.92 L204.14 487.66 L204.9 488.04 L204.82 488.72 L204.36 490.08 L205.74 491.54 L205.67 492.22 L204.54 493.12 L203.8 494.83 L202.94 496.76 L202.81 497.36 L204.23 498.5 L204.18 500.97 L204.2 502.19 L205.92 503.21 L204.93 504.73 L203.63 505.5 L202.97 506.4 L202.52 507.28 L202.38 509.14 L201.04 510.14 L201.14 511.63 L199.52 512.63 L197.44 512.72 L197.7 514.09 L197.32 515.22 L195.49 515.55 L194.54 516.72 L194.47 518.15 L192.64 519.33 L191.75 519.9 L191.33 521.44 L191.69 523.58 L190.38 524.51 L189.07 523.47 L187.55 524.07 L186.72 525.64 L185.71 526 L184.94 527.04 L183.44 528.16 L181.95 528.14 L180.71 528.05 L178.95 529.06 L177.29 528.77 L175.87 528.33" fill="none" stroke="#2a88b4" stroke-width="0.6" stroke-opacity="0.95" stroke-linejoin="round"/>
<path d="M176.09 453.42 L176.45 454.39 L176.88 453.83 L176.17 454.8 L176.79 454.83 L177.25 456.38 L177.99 456.26 L177.55 457.4 L177.43 457.99 L179.13 457.45 L179.2 459.09 L179.33 459.93 L179.58 460.42 L179.79 460.41 L180.38 461.24 L179.8 462.41 L180.49 462.86 L180.79 463.3 L181.12 464.62 L181.56 464.88 L180.76 465.64 L182.42 466.9 L182.2 467.38 L182.28 467.42 L183.68 469.21 L184.26 470.25 L184.57 470.77 L185.27 471.77 L185.27 472.26 L185.52 473.64 L185.62 473.91 L187.21 474.7 L186.51 475.8 L187.81 476.42 L187.6 477.34 L188.72 477.74 L188.35 478.81 L188.53 479.72 L189.4 480.41 L190.1 481.18 L189.61 482.42 L190.62 482.88 L191.18 483.64 L191.6 484.03 L191.07 484.86 L191.85 486.16 L192.32 487.12 L193.15 487.4 L194.24 488.65 L194.1 488.91 L194.03 490.18 L194.93 491.31 L194.79 491.45 L194.98 491.9 L195.55 492.76 L195.18 493.36 L196.21 494.79 L196.16 495.4 L197.91 497 L196.73 497.35 L197.22 498.32 L197.91 498.12 L198.03 500.19 L198.11 500.84 L198 500.54 L198.29 501.64 L198.91 503.33 L198.64 504.21 L198.71 504.84 L198.8 505.4 L199.44 506.44 L199 507.03 L199.34 506.55 L200.23 507.42 L200.54 508.01 L200.51 509.43 L201.59 509.61 L200.55 510.59 L201.53 510.09 L200.36 511.25 L202.08 512.26" fill="none" stroke="#2a88b4" stroke-width="0.55" stroke-opacity="0.95" stroke-linejoin="round"/>
<ellipse cx="167.1" cy="492.6" rx="44.4" ry="42.6" fill="none" stroke="#111" stroke-width="1.8"/>
<ellipse cx="167.1" cy="492.8" rx="33.3" ry="31" fill="none" stroke="#111" stroke-width="1.8"/>
<circle cx="203.8" cy="512.2" r="1.2" fill="#1010ee"/>
<circle cx="186.6" cy="523.2" r="1.2" fill="#e02020"/>
<text x="12.5" y="300.2" font-size="11.3" text-anchor="middle" font-weight="normal" fill="#111" stroke="#111" stroke-width="0.22" transform="rotate(-90 12.5 300.2)">Day 0</text>
<text x="12.5" y="393.6" font-size="11.3" text-anchor="middle" font-weight="normal" fill="#111" stroke="#111" stroke-width="0.22" transform="rotate(-90 12.5 393.6)">Day 7</text>
<text x="12.5" y="492.6" font-size="11.3" text-anchor="middle" font-weight="normal" fill="#111" stroke="#111" stroke-width="0.22" transform="rotate(-90 12.5 492.6)">Day 14</text>
<line x1="306" y1="245" x2="306" y2="362.8" stroke="#383838" stroke-width="1"/>
<line x1="301.8" y1="362.3" x2="432.3" y2="362.3" stroke="#383838" stroke-width="1"/>
<line x1="301.8" y1="362.3" x2="306" y2="362.3" stroke="#383838" stroke-width="1"/>
<text x="299.8" y="364.78" font-size="8.8" text-anchor="end" font-weight="normal" fill="#222" stroke="#222" stroke-width="0.22">0</text>
<line x1="301.8" y1="333.1" x2="306" y2="333.1" stroke="#383838" stroke-width="1"/>
<text x="299.8" y="335.58" font-size="8.8" text-anchor="end" font-weight="normal" fill="#222" stroke="#222" stroke-width="0.22">10000</text>
<line x1="301.8" y1="303.9" x2="306" y2="303.9" stroke="#383838" stroke-width="1"/>
<text x="299.8" y="306.38" font-size="8.8" text-anchor="end" font-weight="normal" fill="#222" stroke="#222" stroke-width="0.22">20000</text>
<line x1="301.8" y1="274.7" x2="306" y2="274.7" stroke="#383838" stroke-width="1"/>
<text x="299.8" y="277.18" font-size="8.8" text-anchor="end" font-weight="normal" fill="#222" stroke="#222" stroke-width="0.22">30000</text>
<line x1="301.8" y1="245.5" x2="306" y2="245.5" stroke="#383838" stroke-width="1"/>
<text x="299.8" y="247.98" font-size="8.8" text-anchor="end" font-weight="normal" fill="#222" stroke="#222" stroke-width="0.22">40000</text>
<line x1="325.2" y1="362.3" x2="325.2" y2="366.3" stroke="#555" stroke-width="1"/>
<line x1="369.1" y1="362.3" x2="369.1" y2="366.3" stroke="#555" stroke-width="1"/>
<line x1="413.1" y1="362.3" x2="413.1" y2="366.3" stroke="#555" stroke-width="1"/>
<line x1="317.15" y1="263.3" x2="317.15" y2="258" stroke="#9E1F31" stroke-width="1.3"/>
<line x1="314.15" y1="258.3" x2="320.15" y2="258.3" stroke="#9E1F31" stroke-width="1.3"/>
<rect x="311.8" y="263.3" width="10.7" height="99" fill="#9E1F31" stroke="none" stroke-width="0"/>
<line x1="333.55" y1="262" x2="333.55" y2="254.5" stroke="#2A83A9" stroke-width="1.3"/>
<line x1="330.55" y1="254.8" x2="336.55" y2="254.8" stroke="#2A83A9" stroke-width="1.3"/>
<rect x="328.1" y="262" width="10.9" height="100.3" fill="#2A83A9" stroke="none" stroke-width="0"/>
<line x1="361.15" y1="282.1" x2="361.15" y2="276.6" stroke="#9E1F31" stroke-width="1.3"/>
<line x1="358.15" y1="276.9" x2="364.15" y2="276.9" stroke="#9E1F31" stroke-width="1.3"/>
<rect x="355.3" y="282.1" width="11.7" height="80.2" fill="#9E1F31" stroke="none" stroke-width="0"/>
<line x1="377.6" y1="309.9" x2="377.6" y2="300.1" stroke="#2A83A9" stroke-width="1.3"/>
<line x1="374.6" y1="300.4" x2="380.6" y2="300.4" stroke="#2A83A9" stroke-width="1.3"/>
<rect x="372.1" y="309.9" width="11" height="52.4" fill="#2A83A9" stroke="none" stroke-width="0"/>
<line x1="405.35" y1="279.2" x2="405.35" y2="271.5" stroke="#9E1F31" stroke-width="1.3"/>
<line x1="402.35" y1="271.8" x2="408.35" y2="271.8" stroke="#9E1F31" stroke-width="1.3"/>
<rect x="399.9" y="279.2" width="10.9" height="83.1" fill="#9E1F31" stroke="none" stroke-width="0"/>
<line x1="421.7" y1="305.9" x2="421.7" y2="300.1" stroke="#2A83A9" stroke-width="1.3"/>
<line x1="418.7" y1="300.4" x2="424.7" y2="300.4" stroke="#2A83A9" stroke-width="1.3"/>
<rect x="416.2" y="305.9" width="11" height="56.4" fill="#2A83A9" stroke="none" stroke-width="0"/>
<line x1="358.5" y1="272.5" x2="379.1" y2="272.5" stroke="#555" stroke-width="1"/>
<path d="M368.25 262 L367.65 266.8 M369.95 262 L369.35 266.8" stroke="#222" stroke-width="0.85" fill="none"/>
<path d="M367 263.63 L370.7 263.63 M366.9 265.36 L370.6 265.36" stroke="#222" stroke-width="0.85" fill="none"/>
<line x1="405" y1="268.1" x2="425" y2="268.1" stroke="#555" stroke-width="1"/>
<path d="M414.45 258 L413.85 262.8 M416.15 258 L415.55 262.8" stroke="#222" stroke-width="0.85" fill="none"/>
<path d="M413.2 259.63 L416.9 259.63 M413.1 261.36 L416.8 261.36" stroke="#222" stroke-width="0.85" fill="none"/>
<text x="375.4" y="299.5" font-size="9" text-anchor="middle" font-weight="bold" fill="#000">*</text>
<text x="379.8" y="299.5" font-size="9" text-anchor="middle" font-weight="bold" fill="#000">*</text>
<text x="419.5" y="300.3" font-size="9" text-anchor="middle" font-weight="bold" fill="#000">*</text>
<text x="423.9" y="300.3" font-size="9" text-anchor="middle" font-weight="bold" fill="#000">*</text>
<text x="325.2" y="375.6" font-size="9.5" text-anchor="middle" font-weight="normal" fill="#222" stroke="#222" stroke-width="0.22">0</text>
<text x="368.8" y="375.6" font-size="9.5" text-anchor="middle" font-weight="normal" fill="#222" stroke="#222" stroke-width="0.22">7</text>
<text x="413" y="375.6" font-size="9.5" text-anchor="middle" font-weight="normal" fill="#222" stroke="#222" stroke-width="0.22">14</text>
<text x="370.3" y="384.6" font-size="11" text-anchor="middle" font-weight="normal" fill="#111" stroke="#111" stroke-width="0.22" textLength="49.5" lengthAdjust="spacingAndGlyphs">Time(day)</text>
<text x="266.9" y="308.7" font-size="11.4" text-anchor="middle" font-weight="normal" fill="#111" stroke="#111" stroke-width="0.22" transform="rotate(-90 266.9 308.7)">Total distance(mm)</text>
<line x1="517.5" y1="251.4" x2="517.5" y2="363.9" stroke="#383838" stroke-width="1"/>
<line x1="513.3" y1="363.4" x2="644" y2="363.4" stroke="#383838" stroke-width="1"/>
<line x1="513.3" y1="363.4" x2="517.5" y2="363.4" stroke="#383838" stroke-width="1"/>
<text x="511.3" y="366.12" font-size="9.5" text-anchor="end" font-weight="normal" fill="#222" stroke="#222" stroke-width="0.22">0</text>
<line x1="513.3" y1="341.03" x2="517.5" y2="341.03" stroke="#383838" stroke-width="1"/>
<text x="511.3" y="343.75" font-size="9.5" text-anchor="end" font-weight="normal" fill="#222" stroke="#222" stroke-width="0.22">2000</text>
<line x1="513.3" y1="318.66" x2="517.5" y2="318.66" stroke="#383838" stroke-width="1"/>
<text x="511.3" y="321.38" font-size="9.5" text-anchor="end" font-weight="normal" fill="#222" stroke="#222" stroke-width="0.22">4000</text>
<line x1="513.3" y1="296.29" x2="517.5" y2="296.29" stroke="#383838" stroke-width="1"/>
<text x="511.3" y="299.01" font-size="9.5" text-anchor="end" font-weight="normal" fill="#222" stroke="#222" stroke-width="0.22">6000</text>
<line x1="513.3" y1="273.92" x2="517.5" y2="273.92" stroke="#383838" stroke-width="1"/>
<text x="511.3" y="276.64" font-size="9.5" text-anchor="end" font-weight="normal" fill="#222" stroke="#222" stroke-width="0.22">8000</text>
<line x1="513.3" y1="251.55" x2="517.5" y2="251.55" stroke="#383838" stroke-width="1"/>
<text x="511.3" y="254.27" font-size="9.5" text-anchor="end" font-weight="normal" fill="#222" stroke="#222" stroke-width="0.22">10000</text>
<line x1="537" y1="363.4" x2="537" y2="367.4" stroke="#555" stroke-width="1"/>
<line x1="581" y1="363.4" x2="581" y2="367.4" stroke="#555" stroke-width="1"/>
<line x1="624.8" y1="363.4" x2="624.8" y2="367.4" stroke="#555" stroke-width="1"/>
<line x1="528.8" y1="307.8" x2="528.8" y2="300.8" stroke="#9E1F31" stroke-width="1.3"/>
<line x1="525.8" y1="301.1" x2="531.8" y2="301.1" stroke="#9E1F31" stroke-width="1.3"/>
<rect x="523.2" y="307.8" width="11.2" height="55.6" fill="#9E1F31" stroke="none" stroke-width="0"/>
<line x1="545.4" y1="304" x2="545.4" y2="297.7" stroke="#2A83A9" stroke-width="1.3"/>
<line x1="542.4" y1="298" x2="548.4" y2="298" stroke="#2A83A9" stroke-width="1.3"/>
<rect x="539.8" y="304" width="11.2" height="59.4" fill="#2A83A9" stroke="none" stroke-width="0"/>
<line x1="572.6" y1="288" x2="572.6" y2="272.8" stroke="#9E1F31" stroke-width="1.3"/>
<line x1="569.6" y1="273.1" x2="575.6" y2="273.1" stroke="#9E1F31" stroke-width="1.3"/>
<rect x="567" y="288" width="11.2" height="75.4" fill="#9E1F31" stroke="none" stroke-width="0"/>
<line x1="589.5" y1="334.1" x2="589.5" y2="326.6" stroke="#2A83A9" stroke-width="1.3"/>
<line x1="586.5" y1="326.9" x2="592.5" y2="326.9" stroke="#2A83A9" stroke-width="1.3"/>
<rect x="584" y="334.1" width="11" height="29.3" fill="#2A83A9" stroke="none" stroke-width="0"/>
<line x1="616.8" y1="292.6" x2="616.8" y2="282.4" stroke="#9E1F31" stroke-width="1.3"/>
<line x1="613.8" y1="282.7" x2="619.8" y2="282.7" stroke="#9E1F31" stroke-width="1.3"/>
<rect x="611.1" y="292.6" width="11.4" height="70.8" fill="#9E1F31" stroke="none" stroke-width="0"/>
<line x1="633.4" y1="345.5" x2="633.4" y2="341.5" stroke="#2A83A9" stroke-width="1.3"/>
<line x1="630.4" y1="341.8" x2="636.4" y2="341.8" stroke="#2A83A9" stroke-width="1.3"/>
<rect x="627.7" y="345.5" width="11.4" height="17.9" fill="#2A83A9" stroke="none" stroke-width="0"/>
<line x1="571.2" y1="267.5" x2="591" y2="267.5" stroke="#555" stroke-width="1"/>
<path d="M580.55 257.8 L579.95 262.6 M582.25 257.8 L581.65 262.6" stroke="#222" stroke-width="0.85" fill="none"/>
<path d="M579.3 259.43 L583 259.43 M579.2 261.16 L582.9 261.16" stroke="#222" stroke-width="0.85" fill="none"/>
<line x1="616.4" y1="275.5" x2="636" y2="275.5" stroke="#555" stroke-width="1"/>
<path d="M623.65 265.3 L623.05 270.1 M625.35 265.3 L624.75 270.1" stroke="#222" stroke-width="0.85" fill="none"/>
<path d="M622.4 266.93 L626.1 266.93 M622.3 268.66 L626 268.66" stroke="#222" stroke-width="0.85" fill="none"/>
<path d="M627.65 265.3 L627.05 270.1 M629.35 265.3 L628.75 270.1" stroke="#222" stroke-width="0.85" fill="none"/>
<path d="M626.4 266.93 L630.1 266.93 M626.3 268.66 L630 268.66" stroke="#222" stroke-width="0.85" fill="none"/>
<text x="589.6" y="327.1" font-size="9" text-anchor="middle" font-weight="bold" fill="#000">*</text>
<text x="633.4" y="341.9" font-size="9" text-anchor="middle" font-weight="bold" fill="#000">*</text>
<text x="536.5" y="377.8" font-size="9.5" text-anchor="middle" font-weight="normal" fill="#222" stroke="#222" stroke-width="0.22">0</text>
<text x="580.6" y="377.8" font-size="9.5" text-anchor="middle" font-weight="normal" fill="#222" stroke="#222" stroke-width="0.22">7</text>
<text x="624.9" y="377.8" font-size="9.5" text-anchor="middle" font-weight="normal" fill="#222" stroke="#222" stroke-width="0.22">14</text>
<text x="576.7" y="387.7" font-size="11" text-anchor="middle" font-weight="normal" fill="#111" stroke="#111" stroke-width="0.22" textLength="49" lengthAdjust="spacingAndGlyphs">Time(day)</text>
<text x="475" y="360.15" font-size="10.97" fill="#111" stroke="#111" stroke-width="0.22" transform="rotate(-90 475 360.15)">Central<tspan dx="3"> distance(mm)</tspan></text>
<line x1="305.9" y1="410" x2="305.9" y2="527.7" stroke="#383838" stroke-width="1"/>
<line x1="301.7" y1="527.2" x2="436.7" y2="527.2" stroke="#383838" stroke-width="1"/>
<line x1="301.7" y1="527.2" x2="305.9" y2="527.2" stroke="#383838" stroke-width="1"/>
<text x="299.7" y="529.75" font-size="9" text-anchor="end" font-weight="normal" fill="#222" stroke="#222" stroke-width="0.22">0</text>
<line x1="301.7" y1="488.25" x2="305.9" y2="488.25" stroke="#383838" stroke-width="1"/>
<text x="299.7" y="490.8" font-size="9" text-anchor="end" font-weight="normal" fill="#222" stroke="#222" stroke-width="0.22">20</text>
<line x1="301.7" y1="449.3" x2="305.9" y2="449.3" stroke="#383838" stroke-width="1"/>
<text x="299.7" y="451.85" font-size="9" text-anchor="end" font-weight="normal" fill="#222" stroke="#222" stroke-width="0.22">40</text>
<line x1="301.7" y1="410.35" x2="305.9" y2="410.35" stroke="#383838" stroke-width="1"/>
<text x="299.7" y="412.9" font-size="9" text-anchor="end" font-weight="normal" fill="#222" stroke="#222" stroke-width="0.22">60</text>
<line x1="325.6" y1="527.2" x2="325.6" y2="531.2" stroke="#555" stroke-width="1"/>
<line x1="370.8" y1="527.2" x2="370.8" y2="531.2" stroke="#555" stroke-width="1"/>
<line x1="416.3" y1="527.2" x2="416.3" y2="531.2" stroke="#555" stroke-width="1"/>
<line x1="317.35" y1="461.6" x2="317.35" y2="454.6" stroke="#9E1F31" stroke-width="1.3"/>
<line x1="314.35" y1="454.9" x2="320.35" y2="454.9" stroke="#9E1F31" stroke-width="1.3"/>
<rect x="311.8" y="461.6" width="11.1" height="65.6" fill="#9E1F31" stroke="none" stroke-width="0"/>
<line x1="334.5" y1="453.3" x2="334.5" y2="445.8" stroke="#2A83A9" stroke-width="1.3"/>
<line x1="331.5" y1="446.1" x2="337.5" y2="446.1" stroke="#2A83A9" stroke-width="1.3"/>
<rect x="329" y="453.3" width="11" height="73.9" fill="#2A83A9" stroke="none" stroke-width="0"/>
<line x1="362.95" y1="441" x2="362.95" y2="423.8" stroke="#9E1F31" stroke-width="1.3"/>
<line x1="359.95" y1="424.1" x2="365.95" y2="424.1" stroke="#9E1F31" stroke-width="1.3"/>
<rect x="357.3" y="441" width="11.3" height="86.2" fill="#9E1F31" stroke="none" stroke-width="0"/>
<line x1="379.7" y1="483.8" x2="379.7" y2="476.8" stroke="#2A83A9" stroke-width="1.3"/>
<line x1="376.7" y1="477.1" x2="382.7" y2="477.1" stroke="#2A83A9" stroke-width="1.3"/>
<rect x="374" y="483.8" width="11.4" height="43.4" fill="#2A83A9" stroke="none" stroke-width="0"/>
<line x1="408.25" y1="437" x2="408.25" y2="423.3" stroke="#9E1F31" stroke-width="1.3"/>
<line x1="405.25" y1="423.6" x2="411.25" y2="423.6" stroke="#9E1F31" stroke-width="1.3"/>
<rect x="402.6" y="437" width="11.3" height="90.2" fill="#9E1F31" stroke="none" stroke-width="0"/>
<line x1="425.25" y1="499.1" x2="425.25" y2="494.4" stroke="#2A83A9" stroke-width="1.3"/>
<line x1="422.25" y1="494.7" x2="428.25" y2="494.7" stroke="#2A83A9" stroke-width="1.3"/>
<rect x="419.5" y="499.1" width="11.5" height="28.1" fill="#2A83A9" stroke="none" stroke-width="0"/>
<line x1="360.9" y1="418.5" x2="381.8" y2="418.5" stroke="#555" stroke-width="1"/>
<path d="M370.8 408.9 L370.2 413.7 M372.5 408.9 L371.9 413.7" stroke="#222" stroke-width="0.85" fill="none"/>
<path d="M369.55 410.53 L373.25 410.53 M369.45 412.26 L373.15 412.26" stroke="#222" stroke-width="0.85" fill="none"/>
<line x1="405" y1="418.5" x2="425.1" y2="418.5" stroke="#555" stroke-width="1"/>
<path d="M412.5 408.9 L411.9 413.7 M414.2 408.9 L413.6 413.7" stroke="#222" stroke-width="0.85" fill="none"/>
<path d="M411.25 410.53 L414.95 410.53 M411.15 412.26 L414.85 412.26" stroke="#222" stroke-width="0.85" fill="none"/>
<path d="M416.5 408.9 L415.9 413.7 M418.2 408.9 L417.6 413.7" stroke="#222" stroke-width="0.85" fill="none"/>
<path d="M415.25 410.53 L418.95 410.53 M415.15 412.26 L418.85 412.26" stroke="#222" stroke-width="0.85" fill="none"/>
<text x="377.4" y="476.9" font-size="9" text-anchor="middle" font-weight="bold" fill="#000">*</text>
<text x="381.8" y="476.9" font-size="9" text-anchor="middle" font-weight="bold" fill="#000">*</text>
<text x="423" y="494.3" font-size="9" text-anchor="middle" font-weight="bold" fill="#000">*</text>
<text x="427.4" y="494.3" font-size="9" text-anchor="middle" font-weight="bold" fill="#000">*</text>
<text x="326.4" y="540" font-size="9.5" text-anchor="middle" font-weight="normal" fill="#222" stroke="#222" stroke-width="0.22">0</text>
<text x="370.6" y="540" font-size="9.5" text-anchor="middle" font-weight="normal" fill="#222" stroke="#222" stroke-width="0.22">7</text>
<text x="416.4" y="540" font-size="9.5" text-anchor="middle" font-weight="normal" fill="#222" stroke="#222" stroke-width="0.22">14</text>
<text x="371.9" y="548.9" font-size="11" text-anchor="middle" font-weight="normal" fill="#111" stroke="#111" stroke-width="0.22" textLength="49.5" lengthAdjust="spacingAndGlyphs">Time(day)</text>
<text x="270.2" y="527.65" font-size="10.99" fill="#111" stroke="#111" stroke-width="0.22" transform="rotate(-90 270.2 527.65)">Time in central<tspan dx="3"> area(s)</tspan></text>
<line x1="512.5" y1="416.2" x2="512.5" y2="527.1" stroke="#383838" stroke-width="1"/>
<line x1="508.3" y1="526.6" x2="643.7" y2="526.6" stroke="#383838" stroke-width="1"/>
<line x1="508.3" y1="526.6" x2="512.5" y2="526.6" stroke="#383838" stroke-width="1"/>
<text x="506.3" y="529.15" font-size="9" text-anchor="end" font-weight="normal" fill="#222" stroke="#222" stroke-width="0.22">0</text>
<line x1="508.3" y1="489.87" x2="512.5" y2="489.87" stroke="#383838" stroke-width="1"/>
<text x="506.3" y="492.42" font-size="9" text-anchor="end" font-weight="normal" fill="#222" stroke="#222" stroke-width="0.22">5</text>
<line x1="508.3" y1="453.14" x2="512.5" y2="453.14" stroke="#383838" stroke-width="1"/>
<text x="506.3" y="455.69" font-size="9" text-anchor="end" font-weight="normal" fill="#222" stroke="#222" stroke-width="0.22">10</text>
<line x1="508.3" y1="416.41" x2="512.5" y2="416.41" stroke="#383838" stroke-width="1"/>
<text x="506.3" y="418.96" font-size="9" text-anchor="end" font-weight="normal" fill="#222" stroke="#222" stroke-width="0.22">15</text>
<line x1="532.4" y1="526.6" x2="532.4" y2="530.6" stroke="#555" stroke-width="1"/>
<line x1="577.5" y1="526.6" x2="577.5" y2="530.6" stroke="#555" stroke-width="1"/>
<line x1="623.3" y1="526.6" x2="623.3" y2="530.6" stroke="#555" stroke-width="1"/>
<line x1="523.8" y1="464.2" x2="523.8" y2="459.3" stroke="#9E1F31" stroke-width="1.3"/>
<line x1="520.8" y1="459.6" x2="526.8" y2="459.6" stroke="#9E1F31" stroke-width="1.3"/>
<rect x="518.1" y="464.2" width="11.4" height="62.4" fill="#9E1F31" stroke="none" stroke-width="0"/>
<line x1="540.85" y1="460.7" x2="540.85" y2="452.3" stroke="#2A83A9" stroke-width="1.3"/>
<line x1="537.85" y1="452.6" x2="543.85" y2="452.6" stroke="#2A83A9" stroke-width="1.3"/>
<rect x="535.2" y="460.7" width="11.3" height="65.9" fill="#2A83A9" stroke="none" stroke-width="0"/>
<line x1="569.3" y1="455.2" x2="569.3" y2="438.3" stroke="#9E1F31" stroke-width="1.3"/>
<line x1="566.3" y1="438.6" x2="572.3" y2="438.6" stroke="#9E1F31" stroke-width="1.3"/>
<rect x="563.7" y="455.2" width="11.2" height="71.4" fill="#9E1F31" stroke="none" stroke-width="0"/>
<line x1="586.35" y1="488.8" x2="586.35" y2="477.6" stroke="#2A83A9" stroke-width="1.3"/>
<line x1="583.35" y1="477.9" x2="589.35" y2="477.9" stroke="#2A83A9" stroke-width="1.3"/>
<rect x="580.7" y="488.8" width="11.3" height="37.8" fill="#2A83A9" stroke="none" stroke-width="0"/>
<line x1="614.85" y1="457" x2="614.85" y2="448.4" stroke="#9E1F31" stroke-width="1.3"/>
<line x1="611.85" y1="448.7" x2="617.85" y2="448.7" stroke="#9E1F31" stroke-width="1.3"/>
<rect x="609" y="457" width="11.7" height="69.6" fill="#9E1F31" stroke="none" stroke-width="0"/>
<line x1="631.85" y1="499.2" x2="631.85" y2="493.9" stroke="#2A83A9" stroke-width="1.3"/>
<line x1="628.85" y1="494.2" x2="634.85" y2="494.2" stroke="#2A83A9" stroke-width="1.3"/>
<rect x="626.1" y="499.2" width="11.5" height="27.4" fill="#2A83A9" stroke="none" stroke-width="0"/>
<line x1="611.3" y1="444.5" x2="633.7" y2="444.5" stroke="#555" stroke-width="1"/>
<path d="M619.95 435.1 L619.35 439.9 M621.65 435.1 L621.05 439.9" stroke="#222" stroke-width="0.85" fill="none"/>
<path d="M618.7 436.73 L622.4 436.73 M618.6 438.46 L622.3 438.46" stroke="#222" stroke-width="0.85" fill="none"/>
<path d="M623.95 435.1 L623.35 439.9 M625.65 435.1 L625.05 439.9" stroke="#222" stroke-width="0.85" fill="none"/>
<path d="M622.7 436.73 L626.4 436.73 M622.6 438.46 L626.3 438.46" stroke="#222" stroke-width="0.85" fill="none"/>
<text x="632.2" y="494.1" font-size="9" text-anchor="middle" font-weight="bold" fill="#000">*</text>
<text x="532.2" y="539.9" font-size="9.5" text-anchor="middle" font-weight="normal" fill="#222" stroke="#222" stroke-width="0.22">0</text>
<text x="577.4" y="539.9" font-size="9.5" text-anchor="middle" font-weight="normal" fill="#222" stroke="#222" stroke-width="0.22">7</text>
<text x="623.5" y="539.9" font-size="9.5" text-anchor="middle" font-weight="normal" fill="#222" stroke="#222" stroke-width="0.22">14</text>
<text x="576.3" y="549" font-size="11" text-anchor="middle" font-weight="normal" fill="#111" stroke="#111" stroke-width="0.22" textLength="49.3" lengthAdjust="spacingAndGlyphs">Time(day)</text>
<text x="488.8" y="523.8" font-size="10.64" fill="#111" stroke="#111" stroke-width="0.22" transform="rotate(-90 488.8 523.8)">Central<tspan dx="3"> area</tspan><tspan dx="3"> entries</tspan></text>
<line x1="306.2" y1="574.2" x2="306.2" y2="691.6" stroke="#383838" stroke-width="1"/>
<line x1="302" y1="691.1" x2="438" y2="691.1" stroke="#383838" stroke-width="1"/>
<line x1="302" y1="691.1" x2="306.2" y2="691.1" stroke="#383838" stroke-width="1"/>
<text x="300" y="693.58" font-size="8.8" text-anchor="end" font-weight="normal" fill="#222" stroke="#222" stroke-width="0.22">0</text>
<line x1="302" y1="661.95" x2="306.2" y2="661.95" stroke="#383838" stroke-width="1"/>
<text x="300" y="664.43" font-size="8.8" text-anchor="end" font-weight="normal" fill="#222" stroke="#222" stroke-width="0.22">10000</text>
<line x1="302" y1="632.8" x2="306.2" y2="632.8" stroke="#383838" stroke-width="1"/>
<text x="300" y="635.28" font-size="8.8" text-anchor="end" font-weight="normal" fill="#222" stroke="#222" stroke-width="0.22">20000</text>
<line x1="302" y1="603.65" x2="306.2" y2="603.65" stroke="#383838" stroke-width="1"/>
<text x="300" y="606.13" font-size="8.8" text-anchor="end" font-weight="normal" fill="#222" stroke="#222" stroke-width="0.22">30000</text>
<line x1="302" y1="574.5" x2="306.2" y2="574.5" stroke="#383838" stroke-width="1"/>
<text x="300" y="576.98" font-size="8.8" text-anchor="end" font-weight="normal" fill="#222" stroke="#222" stroke-width="0.22">40000</text>
<line x1="326" y1="691.1" x2="326" y2="695.1" stroke="#555" stroke-width="1"/>
<line x1="372.1" y1="691.1" x2="372.1" y2="695.1" stroke="#555" stroke-width="1"/>
<line x1="418.1" y1="691.1" x2="418.1" y2="695.1" stroke="#555" stroke-width="1"/>
<line x1="318" y1="611.2" x2="318" y2="608.2" stroke="#9E1F31" stroke-width="1.3"/>
<line x1="315" y1="608.5" x2="321" y2="608.5" stroke="#9E1F31" stroke-width="1.3"/>
<rect x="312.3" y="611.2" width="11.4" height="79.9" fill="#9E1F31" stroke="none" stroke-width="0"/>
<line x1="335.2" y1="610.8" x2="335.2" y2="606.1" stroke="#2A83A9" stroke-width="1.3"/>
<line x1="332.2" y1="606.4" x2="338.2" y2="606.4" stroke="#2A83A9" stroke-width="1.3"/>
<rect x="329.5" y="610.8" width="11.4" height="80.3" fill="#2A83A9" stroke="none" stroke-width="0"/>
<line x1="363.5" y1="601" x2="363.5" y2="593" stroke="#9E1F31" stroke-width="1.3"/>
<line x1="360.5" y1="593.3" x2="366.5" y2="593.3" stroke="#9E1F31" stroke-width="1.3"/>
<rect x="358" y="601" width="11" height="90.1" fill="#9E1F31" stroke="none" stroke-width="0"/>
<line x1="380.75" y1="617.2" x2="380.75" y2="610.3" stroke="#2A83A9" stroke-width="1.3"/>
<line x1="377.75" y1="610.6" x2="383.75" y2="610.6" stroke="#2A83A9" stroke-width="1.3"/>
<rect x="375.1" y="617.2" width="11.3" height="73.9" fill="#2A83A9" stroke="none" stroke-width="0"/>
<line x1="409.5" y1="609" x2="409.5" y2="605.5" stroke="#9E1F31" stroke-width="1.3"/>
<line x1="406.5" y1="605.8" x2="412.5" y2="605.8" stroke="#9E1F31" stroke-width="1.3"/>
<rect x="404" y="609" width="11" height="82.1" fill="#9E1F31" stroke="none" stroke-width="0"/>
<line x1="426.8" y1="628.2" x2="426.8" y2="621.3" stroke="#2A83A9" stroke-width="1.3"/>
<line x1="423.8" y1="621.6" x2="429.8" y2="621.6" stroke="#2A83A9" stroke-width="1.3"/>
<rect x="421.1" y="628.2" width="11.4" height="62.9" fill="#2A83A9" stroke="none" stroke-width="0"/>
<line x1="408.5" y1="600.5" x2="429.1" y2="600.5" stroke="#555" stroke-width="1"/>
<path d="M418.25 590.5 L417.65 595.3 M419.95 590.5 L419.35 595.3" stroke="#222" stroke-width="0.85" fill="none"/>
<path d="M417 592.13 L420.7 592.13 M416.9 593.86 L420.6 593.86" stroke="#222" stroke-width="0.85" fill="none"/>
<text x="326.4" y="704.6" font-size="9.5" text-anchor="middle" font-weight="normal" fill="#222" stroke="#222" stroke-width="0.22">0</text>
<text x="371.7" y="704.6" font-size="9.5" text-anchor="middle" font-weight="normal" fill="#222" stroke="#222" stroke-width="0.22">7</text>
<text x="418" y="704.6" font-size="9.5" text-anchor="middle" font-weight="normal" fill="#222" stroke="#222" stroke-width="0.22">14</text>
<text x="371.9" y="714.8" font-size="11" text-anchor="middle" font-weight="normal" fill="#111" stroke="#111" stroke-width="0.22" textLength="48.1" lengthAdjust="spacingAndGlyphs">Time(day)</text>
<text x="258.3" y="631.9" font-size="11.45" text-anchor="middle" font-weight="normal" fill="#111" stroke="#111" stroke-width="0.22" transform="rotate(-90 258.3 631.9)">Total distance</text>
<text x="271.2" y="632.7" font-size="11.3" text-anchor="middle" font-weight="normal" fill="#111" stroke="#111" stroke-width="0.22" transform="rotate(-90 271.2 632.7)">in EPM(mm)</text>
<line x1="512.6" y1="574" x2="512.6" y2="691.8" stroke="#383838" stroke-width="1"/>
<line x1="508.4" y1="691.3" x2="639.7" y2="691.3" stroke="#383838" stroke-width="1"/>
<line x1="508.4" y1="691.3" x2="512.6" y2="691.3" stroke="#383838" stroke-width="1"/>
<text x="506.4" y="694.02" font-size="9.5" text-anchor="end" font-weight="normal" fill="#222" stroke="#222" stroke-width="0.22">0</text>
<line x1="508.4" y1="667.84" x2="512.6" y2="667.84" stroke="#383838" stroke-width="1"/>
<text x="506.4" y="670.56" font-size="9.5" text-anchor="end" font-weight="normal" fill="#222" stroke="#222" stroke-width="0.22">2000</text>
<line x1="508.4" y1="644.38" x2="512.6" y2="644.38" stroke="#383838" stroke-width="1"/>
<text x="506.4" y="647.11" font-size="9.5" text-anchor="end" font-weight="normal" fill="#222" stroke="#222" stroke-width="0.22">4000</text>
<line x1="508.4" y1="620.92" x2="512.6" y2="620.92" stroke="#383838" stroke-width="1"/>
<text x="506.4" y="623.64" font-size="9.5" text-anchor="end" font-weight="normal" fill="#222" stroke="#222" stroke-width="0.22">6000</text>
<line x1="508.4" y1="597.46" x2="512.6" y2="597.46" stroke="#383838" stroke-width="1"/>
<text x="506.4" y="600.18" font-size="9.5" text-anchor="end" font-weight="normal" fill="#222" stroke="#222" stroke-width="0.22">8000</text>
<line x1="508.4" y1="574" x2="512.6" y2="574" stroke="#383838" stroke-width="1"/>
<text x="506.4" y="576.73" font-size="9.5" text-anchor="end" font-weight="normal" fill="#222" stroke="#222" stroke-width="0.22">10000</text>
<line x1="532.1" y1="691.3" x2="532.1" y2="695.3" stroke="#555" stroke-width="1"/>
<line x1="575.6" y1="691.3" x2="575.6" y2="695.3" stroke="#555" stroke-width="1"/>
<line x1="619.4" y1="691.3" x2="619.4" y2="695.3" stroke="#555" stroke-width="1"/>
<line x1="523.65" y1="607.4" x2="523.65" y2="591.8" stroke="#9E1F31" stroke-width="1.3"/>
<line x1="520.65" y1="592.1" x2="526.65" y2="592.1" stroke="#9E1F31" stroke-width="1.3"/>
<rect x="518.1" y="607.4" width="11.1" height="83.9" fill="#9E1F31" stroke="none" stroke-width="0"/>
<line x1="540.35" y1="619.1" x2="540.35" y2="607.9" stroke="#2A83A9" stroke-width="1.3"/>
<line x1="537.35" y1="608.2" x2="543.35" y2="608.2" stroke="#2A83A9" stroke-width="1.3"/>
<rect x="535" y="619.1" width="10.7" height="72.2" fill="#2A83A9" stroke="none" stroke-width="0"/>
<line x1="567.55" y1="606" x2="567.55" y2="587.8" stroke="#9E1F31" stroke-width="1.3"/>
<line x1="564.55" y1="588.1" x2="570.55" y2="588.1" stroke="#9E1F31" stroke-width="1.3"/>
<rect x="562.1" y="606" width="10.9" height="85.3" fill="#9E1F31" stroke="none" stroke-width="0"/>
<line x1="584.35" y1="669.1" x2="584.35" y2="661.8" stroke="#2A83A9" stroke-width="1.3"/>
<line x1="581.35" y1="662.1" x2="587.35" y2="662.1" stroke="#2A83A9" stroke-width="1.3"/>
<rect x="578.9" y="669.1" width="10.9" height="22.2" fill="#2A83A9" stroke="none" stroke-width="0"/>
<line x1="611.65" y1="607.7" x2="611.65" y2="592.5" stroke="#9E1F31" stroke-width="1.3"/>
<line x1="608.65" y1="592.8" x2="614.65" y2="592.8" stroke="#9E1F31" stroke-width="1.3"/>
<rect x="606.3" y="607.7" width="10.7" height="83.6" fill="#9E1F31" stroke="none" stroke-width="0"/>
<line x1="628.4" y1="669.1" x2="628.4" y2="662.5" stroke="#2A83A9" stroke-width="1.3"/>
<line x1="625.4" y1="662.8" x2="631.4" y2="662.8" stroke="#2A83A9" stroke-width="1.3"/>
<rect x="623" y="669.1" width="10.8" height="22.2" fill="#2A83A9" stroke="none" stroke-width="0"/>
<line x1="568" y1="582.5" x2="587" y2="582.5" stroke="#555" stroke-width="1"/>
<path d="M574.95 572.7 L574.35 577.5 M576.65 572.7 L576.05 577.5" stroke="#222" stroke-width="0.85" fill="none"/>
<path d="M573.7 574.33 L577.4 574.33 M573.6 576.06 L577.3 576.06" stroke="#222" stroke-width="0.85" fill="none"/>
<path d="M578.95 572.7 L578.35 577.5 M580.65 572.7 L580.05 577.5" stroke="#222" stroke-width="0.85" fill="none"/>
<path d="M577.7 574.33 L581.4 574.33 M577.6 576.06 L581.3 576.06" stroke="#222" stroke-width="0.85" fill="none"/>
<line x1="611" y1="586.9" x2="630.1" y2="586.9" stroke="#555" stroke-width="1"/>
<path d="M618 576.7 L617.4 581.5 M619.7 576.7 L619.1 581.5" stroke="#222" stroke-width="0.85" fill="none"/>
<path d="M616.75 578.33 L620.45 578.33 M616.65 580.06 L620.35 580.06" stroke="#222" stroke-width="0.85" fill="none"/>
<path d="M622 576.7 L621.4 581.5 M623.7 576.7 L623.1 581.5" stroke="#222" stroke-width="0.85" fill="none"/>
<path d="M620.75 578.33 L624.45 578.33 M620.65 580.06 L624.35 580.06" stroke="#222" stroke-width="0.85" fill="none"/>
<text x="581.5" y="662.5" font-size="9" text-anchor="middle" font-weight="bold" fill="#000">*</text>
<text x="585.9" y="662.5" font-size="9" text-anchor="middle" font-weight="bold" fill="#000">*</text>
<text x="626.2" y="662" font-size="9" text-anchor="middle" font-weight="bold" fill="#000">*</text>
<text x="630.6" y="662" font-size="9" text-anchor="middle" font-weight="bold" fill="#000">*</text>
<text x="532.2" y="704.4" font-size="9.5" text-anchor="middle" font-weight="normal" fill="#222" stroke="#222" stroke-width="0.22">0</text>
<text x="575.2" y="704.4" font-size="9.5" text-anchor="middle" font-weight="normal" fill="#222" stroke="#222" stroke-width="0.22">7</text>
<text x="619.5" y="704.4" font-size="9.5" text-anchor="middle" font-weight="normal" fill="#222" stroke="#222" stroke-width="0.22">14</text>
<text x="577.5" y="714.8" font-size="11" text-anchor="middle" font-weight="normal" fill="#111" stroke="#111" stroke-width="0.22" textLength="49.1" lengthAdjust="spacingAndGlyphs">Time(day)</text>
<text x="466.9" y="655.35" font-size="10.69" fill="#111" stroke="#111" stroke-width="0.22" transform="rotate(-90 466.9 655.35)">Open<tspan dx="3"> arms</tspan></text>
<text x="479.7" y="626.7" font-size="11" text-anchor="middle" font-weight="normal" fill="#111" stroke="#111" stroke-width="0.22" transform="rotate(-90 479.7 626.7)">distance(mm)</text>
<line x1="306.3" y1="749.9" x2="306.3" y2="867" stroke="#383838" stroke-width="1"/>
<line x1="302.1" y1="866.5" x2="440.8" y2="866.5" stroke="#383838" stroke-width="1"/>
<line x1="302.1" y1="866.5" x2="306.3" y2="866.5" stroke="#383838" stroke-width="1"/>
<text x="300.1" y="869.15" font-size="9.3" text-anchor="end" font-weight="normal" fill="#222" stroke="#222" stroke-width="0.22">0</text>
<line x1="302.1" y1="843.22" x2="306.3" y2="843.22" stroke="#383838" stroke-width="1"/>
<text x="300.1" y="845.88" font-size="9.3" text-anchor="end" font-weight="normal" fill="#222" stroke="#222" stroke-width="0.22">20</text>
<line x1="302.1" y1="819.94" x2="306.3" y2="819.94" stroke="#383838" stroke-width="1"/>
<text x="300.1" y="822.6" font-size="9.3" text-anchor="end" font-weight="normal" fill="#222" stroke="#222" stroke-width="0.22">40</text>
<line x1="302.1" y1="796.66" x2="306.3" y2="796.66" stroke="#383838" stroke-width="1"/>
<text x="300.1" y="799.31" font-size="9.3" text-anchor="end" font-weight="normal" fill="#222" stroke="#222" stroke-width="0.22">60</text>
<line x1="302.1" y1="773.38" x2="306.3" y2="773.38" stroke="#383838" stroke-width="1"/>
<text x="300.1" y="776.03" font-size="9.3" text-anchor="end" font-weight="normal" fill="#222" stroke="#222" stroke-width="0.22">80</text>
<line x1="302.1" y1="750.1" x2="306.3" y2="750.1" stroke="#383838" stroke-width="1"/>
<text x="300.1" y="752.75" font-size="9.3" text-anchor="end" font-weight="normal" fill="#222" stroke="#222" stroke-width="0.22">100</text>
<line x1="326.7" y1="866.5" x2="326.7" y2="870.5" stroke="#555" stroke-width="1"/>
<line x1="372.5" y1="866.5" x2="372.5" y2="870.5" stroke="#555" stroke-width="1"/>
<line x1="419.4" y1="866.5" x2="419.4" y2="870.5" stroke="#555" stroke-width="1"/>
<line x1="317.9" y1="775" x2="317.9" y2="759.4" stroke="#9E1F31" stroke-width="1.3"/>
<line x1="314.9" y1="759.7" x2="320.9" y2="759.7" stroke="#9E1F31" stroke-width="1.3"/>
<rect x="312.3" y="775" width="11.2" height="91.5" fill="#9E1F31" stroke="none" stroke-width="0"/>
<line x1="335.3" y1="782.2" x2="335.3" y2="769.3" stroke="#2A83A9" stroke-width="1.3"/>
<line x1="332.3" y1="769.6" x2="338.3" y2="769.6" stroke="#2A83A9" stroke-width="1.3"/>
<rect x="329.4" y="782.2" width="11.8" height="84.3" fill="#2A83A9" stroke="none" stroke-width="0"/>
<line x1="364.4" y1="786.6" x2="364.4" y2="766.2" stroke="#9E1F31" stroke-width="1.3"/>
<line x1="361.4" y1="766.5" x2="367.4" y2="766.5" stroke="#9E1F31" stroke-width="1.3"/>
<rect x="358.8" y="786.6" width="11.2" height="79.9" fill="#9E1F31" stroke="none" stroke-width="0"/>
<line x1="381.9" y1="846.3" x2="381.9" y2="840.4" stroke="#2A83A9" stroke-width="1.3"/>
<line x1="378.9" y1="840.7" x2="384.9" y2="840.7" stroke="#2A83A9" stroke-width="1.3"/>
<rect x="376.2" y="846.3" width="11.4" height="20.2" fill="#2A83A9" stroke="none" stroke-width="0"/>
<line x1="410.95" y1="780.3" x2="410.95" y2="767.9" stroke="#9E1F31" stroke-width="1.3"/>
<line x1="407.95" y1="768.2" x2="413.95" y2="768.2" stroke="#9E1F31" stroke-width="1.3"/>
<rect x="405" y="780.3" width="11.9" height="86.2" fill="#9E1F31" stroke="none" stroke-width="0"/>
<line x1="428.75" y1="842.8" x2="428.75" y2="835.7" stroke="#2A83A9" stroke-width="1.3"/>
<line x1="425.75" y1="836" x2="431.75" y2="836" stroke="#2A83A9" stroke-width="1.3"/>
<rect x="423.2" y="842.8" width="11.1" height="23.7" fill="#2A83A9" stroke="none" stroke-width="0"/>
<line x1="363.2" y1="762" x2="383.9" y2="762" stroke="#555" stroke-width="1"/>
<path d="M371 752.5 L370.4 757.3 M372.7 752.5 L372.1 757.3" stroke="#222" stroke-width="0.85" fill="none"/>
<path d="M369.75 754.13 L373.45 754.13 M369.65 755.86 L373.35 755.86" stroke="#222" stroke-width="0.85" fill="none"/>
<path d="M375 752.5 L374.4 757.3 M376.7 752.5 L376.1 757.3" stroke="#222" stroke-width="0.85" fill="none"/>
<path d="M373.75 754.13 L377.45 754.13 M373.65 755.86 L377.35 755.86" stroke="#222" stroke-width="0.85" fill="none"/>
<line x1="412.3" y1="764" x2="433" y2="764" stroke="#555" stroke-width="1"/>
<path d="M420.1 754.2 L419.5 759 M421.8 754.2 L421.2 759" stroke="#222" stroke-width="0.85" fill="none"/>
<path d="M418.85 755.83 L422.55 755.83 M418.75 757.56 L422.45 757.56" stroke="#222" stroke-width="0.85" fill="none"/>
<path d="M424.1 754.2 L423.5 759 M425.8 754.2 L425.2 759" stroke="#222" stroke-width="0.85" fill="none"/>
<path d="M422.85 755.83 L426.55 755.83 M422.75 757.56 L426.45 757.56" stroke="#222" stroke-width="0.85" fill="none"/>
<text x="379.7" y="840.7" font-size="9" text-anchor="middle" font-weight="bold" fill="#000">*</text>
<text x="384.1" y="840.7" font-size="9" text-anchor="middle" font-weight="bold" fill="#000">*</text>
<text x="426.5" y="836.5" font-size="9" text-anchor="middle" font-weight="bold" fill="#000">*</text>
<text x="430.9" y="836.5" font-size="9" text-anchor="middle" font-weight="bold" fill="#000">*</text>
<text x="326.7" y="880.2" font-size="9.5" text-anchor="middle" font-weight="normal" fill="#222" stroke="#222" stroke-width="0.22">0</text>
<text x="373.4" y="880.2" font-size="9.5" text-anchor="middle" font-weight="normal" fill="#222" stroke="#222" stroke-width="0.22">7</text>
<text x="419.7" y="880.2" font-size="9.5" text-anchor="middle" font-weight="normal" fill="#222" stroke="#222" stroke-width="0.22">14</text>
<text x="371.9" y="889.2" font-size="11" text-anchor="middle" font-weight="normal" fill="#111" stroke="#111" stroke-width="0.22" textLength="50" lengthAdjust="spacingAndGlyphs">Time(day)</text>
<text x="278.5" y="866.5" font-size="11.12" fill="#111" stroke="#111" stroke-width="0.22" transform="rotate(-90 278.5 866.5)">Time in open<tspan dx="3"> arms(s)</tspan></text>
<line x1="513.6" y1="750.1" x2="513.6" y2="867.9" stroke="#383838" stroke-width="1"/>
<line x1="509.4" y1="867.4" x2="641.7" y2="867.4" stroke="#383838" stroke-width="1"/>
<line x1="509.4" y1="867.4" x2="513.6" y2="867.4" stroke="#383838" stroke-width="1"/>
<text x="507.4" y="870.05" font-size="9.3" text-anchor="end" font-weight="normal" fill="#222" stroke="#222" stroke-width="0.22">0</text>
<line x1="509.4" y1="828.33" x2="513.6" y2="828.33" stroke="#383838" stroke-width="1"/>
<text x="507.4" y="830.98" font-size="9.3" text-anchor="end" font-weight="normal" fill="#222" stroke="#222" stroke-width="0.22">5</text>
<line x1="509.4" y1="789.26" x2="513.6" y2="789.26" stroke="#383838" stroke-width="1"/>
<text x="507.4" y="791.91" font-size="9.3" text-anchor="end" font-weight="normal" fill="#222" stroke="#222" stroke-width="0.22">10</text>
<line x1="509.4" y1="750.19" x2="513.6" y2="750.19" stroke="#383838" stroke-width="1"/>
<text x="507.4" y="752.84" font-size="9.3" text-anchor="end" font-weight="normal" fill="#222" stroke="#222" stroke-width="0.22">15</text>
<line x1="533.2" y1="867.4" x2="533.2" y2="871.4" stroke="#555" stroke-width="1"/>
<line x1="577.2" y1="867.4" x2="577.2" y2="871.4" stroke="#555" stroke-width="1"/>
<line x1="621.3" y1="867.4" x2="621.3" y2="871.4" stroke="#555" stroke-width="1"/>
<line x1="524.6" y1="809.7" x2="524.6" y2="801.3" stroke="#9E1F31" stroke-width="1.3"/>
<line x1="521.6" y1="801.6" x2="527.6" y2="801.6" stroke="#9E1F31" stroke-width="1.3"/>
<rect x="519.2" y="809.7" width="10.8" height="57.7" fill="#9E1F31" stroke="none" stroke-width="0"/>
<line x1="541.35" y1="802.8" x2="541.35" y2="791.5" stroke="#2A83A9" stroke-width="1.3"/>
<line x1="538.35" y1="791.8" x2="544.35" y2="791.8" stroke="#2A83A9" stroke-width="1.3"/>
<rect x="535.8" y="802.8" width="11.1" height="64.6" fill="#2A83A9" stroke="none" stroke-width="0"/>
<line x1="568.85" y1="809.8" x2="568.85" y2="800.2" stroke="#9E1F31" stroke-width="1.3"/>
<line x1="565.85" y1="800.5" x2="571.85" y2="800.5" stroke="#9E1F31" stroke-width="1.3"/>
<rect x="563.3" y="809.8" width="11.1" height="57.6" fill="#9E1F31" stroke="none" stroke-width="0"/>
<line x1="585.55" y1="839.1" x2="585.55" y2="832.4" stroke="#2A83A9" stroke-width="1.3"/>
<line x1="582.55" y1="832.7" x2="588.55" y2="832.7" stroke="#2A83A9" stroke-width="1.3"/>
<rect x="580" y="839.1" width="11.1" height="28.3" fill="#2A83A9" stroke="none" stroke-width="0"/>
<line x1="613.1" y1="805.1" x2="613.1" y2="793.6" stroke="#9E1F31" stroke-width="1.3"/>
<line x1="610.1" y1="793.9" x2="616.1" y2="793.9" stroke="#9E1F31" stroke-width="1.3"/>
<rect x="607.4" y="805.1" width="11.4" height="62.3" fill="#9E1F31" stroke="none" stroke-width="0"/>
<line x1="629.65" y1="842.4" x2="629.65" y2="834.1" stroke="#2A83A9" stroke-width="1.3"/>
<line x1="626.65" y1="834.4" x2="632.65" y2="834.4" stroke="#2A83A9" stroke-width="1.3"/>
<rect x="624.1" y="842.4" width="11.1" height="25" fill="#2A83A9" stroke="none" stroke-width="0"/>
<line x1="567.8" y1="796.5" x2="591.1" y2="796.5" stroke="#555" stroke-width="1"/>
<path d="M578.9 786.7 L578.3 791.5 M580.6 786.7 L580 791.5" stroke="#222" stroke-width="0.85" fill="none"/>
<path d="M577.65 788.33 L581.35 788.33 M577.55 790.06 L581.25 790.06" stroke="#222" stroke-width="0.85" fill="none"/>
<line x1="609.4" y1="789.5" x2="632" y2="789.5" stroke="#555" stroke-width="1"/>
<path d="M620.15 779.8 L619.55 784.6 M621.85 779.8 L621.25 784.6" stroke="#222" stroke-width="0.85" fill="none"/>
<path d="M618.9 781.43 L622.6 781.43 M618.8 783.16 L622.5 783.16" stroke="#222" stroke-width="0.85" fill="none"/>
<text x="585.2" y="832.8" font-size="9" text-anchor="middle" font-weight="bold" fill="#000">*</text>
<text x="629.7" y="834.2" font-size="9" text-anchor="middle" font-weight="bold" fill="#000">*</text>
<text x="532.9" y="881" font-size="9.5" text-anchor="middle" font-weight="normal" fill="#222" stroke="#222" stroke-width="0.22">0</text>
<text x="576.6" y="881" font-size="9.5" text-anchor="middle" font-weight="normal" fill="#222" stroke="#222" stroke-width="0.22">7</text>
<text x="621.9" y="881" font-size="9.5" text-anchor="middle" font-weight="normal" fill="#222" stroke="#222" stroke-width="0.22">14</text>
<text x="577.2" y="889.2" font-size="11" text-anchor="middle" font-weight="normal" fill="#111" stroke="#111" stroke-width="0.22" textLength="49.7" lengthAdjust="spacingAndGlyphs">Time(day)</text>
<text x="489" y="857.9" font-size="10.5" fill="#111" stroke="#111" stroke-width="0.22" transform="rotate(-90 489 857.9)">Open<tspan dx="3"> arms</tspan><tspan dx="3"> entries</tspan></text>
<rect x="645.8" y="251.3" width="13.3" height="4.4" fill="#9E1F31" stroke="none" stroke-width="0"/>
<text x="661.4" y="258.6" font-size="11" text-anchor="start" font-weight="normal" fill="#111" stroke="#111" stroke-width="0.22">PBS</text>
<rect x="645.8" y="269" width="13.3" height="4.3" fill="#2A83A9" stroke="none" stroke-width="0"/>
<text x="662.4" y="275.8" font-size="11" text-anchor="start" font-weight="normal" fill="#111" stroke="#111" stroke-width="0.22">IS</text>
<text x="62" y="570.8" font-size="11" text-anchor="middle" font-weight="normal" fill="#111" stroke="#111" stroke-width="0.22">PBS</text>
<text x="156" y="570.8" font-size="11" text-anchor="middle" font-weight="normal" fill="#111" stroke="#111" stroke-width="0.22">IS</text>
<path d="M25.81 626.05 L26.95 625.7 L27.63 626.33 L27.74 626.62 L28.19 626.81 L28.48 626.62 L29.67 626.43 L29.83 625.95 L30.63 626.31 L30.74 627.04 L30.76 626.65 L32.15 626.11 L31.84 626.99 L33.11 627.16 L33.26 626.51 L33.34 626.31 L34.34 626.21 L34.66 626.17 L35.85 626.27 L36.13 626.59 L35.82 626.94 L36.6 626.49 L37.96 627 L37.63 626.54 L38.03 625.99 L38.91 626.84 L39.76 626.65 L39.77 626.53 L39.94 626.61 L40.98 626.3 L41.3 626.33 L42.31 626.14 L42.02 626.18 L42.82 626.65 L43.45 626.59 L44.29 626.34 L44.25 625.65 L45.4 625.8 L45.74 625.82 L45.66 625.7 L46.52 626.06 L46.8 626.32 L46.9 626.29 L48.04 626.04 L48.62 626.38 L49.32 626.15 L49.57 626.44 L49.9 625.71 L50.42 625.97 L51.29 626.45 L51.89 626.38 L52.19 626.58 L52.82 627.06 L52.86 627.08 L53.5 626.77 L54.51 627.4 L55.53 626.76 L55.2 627.02 L55.81 628.21 L55.7 626.89 L56.49 627.31 L57.08 626.98 L57.98 626.58 L57.66 627.2 L58.33 626.77 L58.8 626.84 L59.4 626.85 L60.09 626.39 L60.41 626.61 L60.95 626.45 L61.6 626.27 L61.65 625.99 L62.61 625.84 L63.35 626.13 L63.8 626.29 L63.82 625.92 L65.06 625.84 L65.03 625.54 L65.45 626.23 L66.32 626.34 L66.36 626.11 L67.46 625.51 L67.79 626.24 L68.08 626.57 L68.77 626.44 L69.21 626.39 L69.77 626.17 L70.1 625.41 L70.38 626.74 L71.6 626.14 L71.62 626.93 L72.06 625.76 L73.15 626.9 L73.57 626.43 L73.6 626.89 L73.97 626.59 L74.61 626.28 L74.72 626.28 L75.81 626.81 L76.28 626.2 L76.71 626.34 L77.19 626.03 L77.82 626.56 L78.36 627.2 L78.44 626.57 L79.24 625.74 L79.66 626.82 L79.84 627.29 L80.89 626.97 L82.18 627.14 L81.82 627.03 L82.21 626.79 L83.06 627.3 L83.01 627.07 L83.75 627.09 L84.48 626.79 L84.42 627.22 L85.15 626.89 L85.97 626.61 L86.58 626.25 L86.57 626.39 L87.31 626.52 L87.77 626.24 L87.79 626.7 L88.97 626.27 L89.37 625.81 L89.89 626.04 L90.52 626.37 L91.11 626.35 L91.64 627.09 L91.48 626.38 L92.48 626.37 L93.5 626.75 L93.81 626.85 L94.08 626.86 L94.79 626.19 L95.31 626.28 L95.4 627.39 L96.02 627.1 L96.53 627.31 L96.91 626.06 L98 626.52 L98.36 625.95 L98.25 626.32 L99.26 625.95" fill="none" stroke="#a32536" stroke-width="0.5" stroke-opacity="0.9" stroke-linejoin="round"/>
<path d="M29.59 627.85 L30.05 627.09 L30.61 626.55 L31.23 626.82 L32.17 626.69 L31.77 627.84 L32.79 627.05 L34.07 626.68 L33.39 626.64 L34.34 626.5 L35.01 626.05 L35.73 626.37 L35.81 627.02 L35.83 626.06 L37.35 626.42 L37.58 626.11 L38.22 626.47 L38.19 625.81 L38.67 626.22 L39.22 625.25 L39.65 626.41 L40.64 626.46 L40.43 626.33 L41.59 626.11 L41.84 626.45 L42.49 626.93 L42.69 627.23 L43.44 626.83 L44.1 627.61 L44.26 626.93 L45.25 627.02 L45.63 627.88 L45.97 627.42 L46.41 627.47 L46.62 626.71 L47.46 626.35 L48.4 627.81 L48.57 626.9 L48.87 627.15 L49.43 627.47 L49.84 627.21 L50.47 626.35 L51.37 627.17 L51.6 626.7 L52.09 626.68 L52.33 626.89 L53.22 626.74 L53.5 626.46 L53.94 626.71 L54.1 626.18 L55.13 626.45 L55.9 626.77 L56.09 627.31 L56.94 626.94 L57.06 627.5 L57.33 626.61 L58.05 626.59 L58.4 627.39 L59.53 627.16 L59.7 626.87 L60.49 627.26 L60.4 627.17 L61.25 627.42 L62.15 627.35 L61.67 627 L63.05 626.58 L63.4 626.21 L64.21 626.58 L64.46 626.66 L65.38 626.79 L65.47 626.06 L65.75 626.19 L65.57 626.54 L66.67 627.13 L67.49 626.45 L67.92 626.83 L67.95 626.71 L68.82 626.83 L69.5 626.9 L69.98 626.86 L70.51 627.08 L70.66 626.45 L71.57 626.67 L72.04 626.53 L71.96 626.55 L72.6 626.61 L73.45 626.29 L73.53 626.66 L74.3 627.22 L74.82 626.26 L75.85 626.84 L76.14 626.84 L76.21 628.14 L76.54 627.08 L77.5 626.7 L78.15 627.13 L78.44 626.96 L78.82 626.37 L79.01 626.99 L79.82 627.21 L80.21 627.34 L80.56 627.02 L81.07 626.77 L82.45 627.14 L82.55 626.92 L82.94 626.55 L83.46 627.02 L84.34 627.24 L84.35 627.12 L85.01 627.05 L85.91 626.83 L85.9 626.54 L86.4 627.8 L87.5 627.39 L87.56 627.4 L88.03 627.14 L88.06 626.49 L88.67 627.08 L89.57 626.53 L89.95 627.09 L91.03 626.97 L90.62 627.05 L91.56 627.18 L92.36 626.93 L92.45 626.71 L93.2 627.08 L94.13 626.7 L94.44 627.37 L94.37 626.51 L95.49 626.88 L95.86 626.78 L96.68 626.67 L96.53 626.22 L96.77 626.33 L97.73 626.68 L98.79 626.22 L98.42 626.73 L99.42 627.07 L100.1 627.13" fill="none" stroke="#a32536" stroke-width="0.5" stroke-opacity="0.9" stroke-linejoin="round"/>
<path d="M28.78 625.62 L29.29 626.41 L29.6 626.06 L30.13 626.42 L31.46 626.28 L31.55 625.73 L31.88 626.33 L32.35 625.88 L33.03 626.39 L33.29 626.14 L33.55 626.19 L34.58 626.57 L35.03 626.67 L35.39 626.31 L36.2 626.33 L36.74 626.62 L36.67 627.29 L37.69 627.39 L38.81 625.95 L38.36 627.23 L39.54 626.75 L39.57 627.26 L40.49 627.36 L40.39 626.05 L41.04 626.85 L41.9 626.89 L42.05 627.21 L42.74 625.73 L43.22 626.16 L43.55 626.11 L43.88 626.05 L44.52 626.91 L45.43 626.19 L45.53 626.57 L46.53 625.88 L46.37 626.39 L46.74 626.37 L47.11 626.05 L48.19 626 L48.61 626.74 L48.88 625.96 L49.53 626.27 L50 626.15 L50.03 626.99 L51.32 626.82 L51.57 626.43 L52.7 626.67 L52.66 626.72 L53.44 625.88 L53.72 627.11 L54.55 627.46 L54.57 626.64 L54.82 627.26 L55.91 627.16 L56.45 627.19 L56.9 627.55 L57 626.56 L57.49 626.6 L57.58 626.38 L59.31 626.66 L59.55 625.76 L59.78 626.3 L60.65 626.3 L61.11 626.15 L61.16 625.77 L62.23 626.29 L62.96 625.86 L63.11 625.86 L63.69 625.72 L64 625.94 L64.51 626.93 L65.15 626.65 L64.99 625.46 L66 626.63 L66.5 627.07 L66.77 626.31 L67.35 626.72 L67.52 626.89 L68.1 627.11 L68.53 627.35 L69.02 627.34 L70.21 626.77 L70.06 626.56 L71.13 627.2 L71.35 626.91 L72.25 627.18 L72.83 625.83 L72.57 626.43 L73.48 627.01 L74.27 626.64 L74.66 625.74 L75.16 626.25 L75.77 627.19 L76.3 626.34 L76.21 626.97 L77.4 625.64 L77.28 625.86 L77.74 625.56 L78.85 626.38 L79.22 625.77 L79.47 625.72 L80.09 626.46 L80.72 626.91 L81.13 626.38 L81.57 626.63 L82.38 626.77 L82.16 626.84 L83.44 626.16 L83.38 626.91 L84.34 626.94 L84.2 626.81 L85.38 626.83 L85.7 626.46 L85.8 627.11 L87.28 626.99 L87.11 626.92 L87.17 626.61 L88.08 625.86 L88.8 625.96 L88.75 626.87 L89.35 626.77 L89.92 626.82 L91.02 626.55 L91.48 626.78 L91.93 626.53 L91.16 626.31 L92.28 626.27 L93.05 625.59 L93.33 626 L94.03 626.11 L94.17 625.98 L95.39 625.89 L96.19 626.35 L96.5 626.43 L96.79 626.92 L97.64 626.01" fill="none" stroke="#a32536" stroke-width="0.5" stroke-opacity="0.9" stroke-linejoin="round"/>
<path d="M31.06 626.1 L31.5 625.87 L31.75 626.57 L32.41 625.97 L32.94 626.28 L33.27 625.57 L33.95 625.9 L34.19 625.99 L35.25 626.17 L35.69 626.04 L36.21 625.98 L36.85 625.95 L36.44 625.15 L37.48 625.85 L37.63 626.04 L38.6 626.65 L39.03 626.28 L39.86 626.1 L40.1 625.39 L40.48 626.38 L41.3 625.94 L41.55 625.55 L42.31 626.07 L42.62 626.08 L43.17 626.17 L43.48 626.51 L43.98 627.08 L44.69 626.82 L45.02 626.26 L45.68 625.35 L45.91 626.28 L46.49 626.74 L47.6 626.07 L47.59 626.34 L48.09 625.62 L48.39 626.59 L48.95 626.46 L49.7 625.09 L50.16 626.1 L50.84 625.37 L51.24 625.55 L51.43 625.08 L52.04 624.48 L52.39 625.11 L53.51 624.89 L53.9 625.38 L54.02 625.13 L54.78 625.33 L55.76 624.87 L55.48 625.71 L56 625.43 L57.14 625.65 L56.98 625.75 L57.36 625.65 L58.16 625.41 L58.71 625.98 L58.93 626.3 L59.79 626.09 L60.14 626.72 L60.46 627.33 L61.87 625.86 L61.56 626.93 L62.66 626.78 L62.49 626.72 L64.08 625.55 L63.56 625.97 L64.09 625.85 L64.13 626.02 L65.45 626.86 L65.53 626.31 L66.26 626.08 L67.24 625.73 L67.67 626.69 L67.54 626.48 L68.84 626.11 L68.82 625.48 L69.07 626.15 L70.46 626.52 L69.92 625.79 L70.67 625.72 L71.12 624.91 L72.17 625.84 L71.47 626.24 L72.97 625.37 L73.1 625.27 L73.76 626.32 L74.27 626.25 L74.84 626.03 L75.2 625.87 L75.74 626.21 L76.49 625.87 L77.42 626.27 L77.64 626.15 L78.08 626.04 L77.95 625.86 L78.57 625.78 L79.42 625.78 L79.84 626.06 L81.06 625.71 L81.03 626.18 L81.4 625.2 L81.94 624.97 L82.58 625.64 L82.99 625.81 L83.64 625.74 L83.66 625.68 L84.66 625.94 L84.8 625.33 L85.92 625.52 L86.3 625.47 L86.5 625.11 L87.2 625.52 L86.93 626.25 L88 626.22 L88.49 626 L89.04 625.93 L89.16 625.84 L90.6 625.18 L90.45 625.64 L91.19 625.96 L91.36 625.88 L92.13 626.08 L92.34 625.97 L93.22 626.06 L93.54 626.08 L94.07 626.48 L94.21 625.59 L94.91 626.14 L95.49 626.23 L96.26 625.72 L96.11 626.18 L96.85 625.69 L97.25 626.32 L98.55 626.19 L98.55 626.37 L99.81 626.46 L99.53 626.15 L100.64 626.11 L100.68 626.01" fill="none" stroke="#a32536" stroke-width="0.5" stroke-opacity="0.9" stroke-linejoin="round"/>
<path d="M62.88 586.53 L62.63 587.1 L62.93 587.54 L63.58 588.09 L62.73 588.76 L63.53 588.89 L63.71 590.02 L62.81 589.89 L63.85 590.69 L63.27 590.81 L63.48 591.45 L63.15 592.46 L62.89 592.57 L63.16 593.49 L62.77 593.54 L63.24 594.2 L63.15 594.74 L62.78 595.06 L63.07 595.11 L62.89 596.44 L62.76 597.02 L62.53 597.09 L62.38 597.8 L62.62 598.32 L63.02 598.57 L62.68 599.56 L62.19 599.9 L62.75 600.46 L63.13 600.39 L62.43 601.44 L62.68 602.39 L62.25 602.21 L62.7 602.67 L61.95 603.02 L63.35 603.52 L63.82 604.2 L62.81 604.79 L63.86 605.61 L63.45 606.04 L63.88 606.6 L63.34 606.53 L62.85 607.8 L62.61 608.34 L62.75 608.5 L63.06 608.11 L63.02 609.49 L63.07 610.02 L62.94 610.5 L63.17 611.38 L62.91 611.69 L62.34 611.62 L63.38 612.85 L62.14 612.6 L62.57 613.77 L62.82 613.75 L62.72 614.94 L63.1 615.04 L62.31 615.52 L62.75 616.26 L62.22 616.71 L62.84 617.33 L62.43 617.48 L62.09 618.46 L62.5 618.47 L63.32 619.33 L63.16 619.31 L63.5 620.14 L63.41 620.86 L63.11 621.03 L63.2 621.64 L63.84 622.32 L63.36 622.64 L63.94 622.85 L63.55 623.23 L62.96 623.78 L62.54 625.12 L63.34 625.87 L63.14 625.5 L62.85 626.05 L63.35 626.92 L62.5 626.84 L62.44 627.23 L63.1 628.18 L62.36 629.07 L62.91 629.39 L62.6 630.5 L62.41 630.23 L62.54 630.88 L62.81 631.3 L62.65 631.42 L63.3 631.78 L62.52 632.94 L62.51 633.73 L62.98 633.89 L63.2 634.27 L63.07 635.01 L63.27 635.14 L63.34 635.54 L63.3 636.06 L63.77 636.93 L63.66 636.92 L63.02 637.88 L62.81 637.98 L63.42 638.61 L63.39 639.37 L63 639.8 L63.43 640.56 L62.72 641.19 L63.01 641.17 L63.63 640.54 L62.78 642.86 L62.16 643.23 L63.02 643.73 L63.21 643.76 L62.22 644.42 L62.36 645.14 L62.44 644.83 L63 645.43 L62.49 646.45 L62.57 646.43 L63.12 646.97 L63.34 647.75 L63.38 648.2 L63.06 649.22 L63 649.71 L62.54 649.75 L63.21 650.09 L63.02 650.43 L63.09 651.57 L63.13 651.77 L62.5 652.4 L63.54 652.84 L62.91 653.64 L63.05 653.9 L63.5 654.35 L63.29 655.03 L63.24 654.85 L62.86 656.06 L63.53 656.78 L62.49 656.96 L63.69 657.61 L63.68 658.42 L62.43 658.25 L62.54 659.3 L62.58 659.04 L62.71 660.57" fill="none" stroke="#a32536" stroke-width="0.5" stroke-opacity="0.9" stroke-linejoin="round"/>
<path d="M63.08 590.69 L62.72 590.81 L62.29 591.32 L63.02 591.78 L62.85 592.33 L62.31 592.2 L62.26 593.35 L62.56 593.89 L62.32 593.59 L63.9 594.51 L63.09 595.45 L62.7 595.09 L62.98 595.88 L62.89 596.57 L62.53 597.57 L62.57 597.66 L63.88 598.59 L63.42 599.14 L62.89 598.97 L62.89 600.01 L63.3 600.83 L63.03 601.08 L63.53 601.18 L63.45 601.58 L63.31 602.07 L62.71 602.28 L63.41 603.11 L63.04 603.84 L63.31 603.92 L63.26 605.16 L62.58 604.83 L63.73 605.57 L62.43 605.97 L62.95 606.29 L62.96 606.95 L62.9 607.97 L63.12 608.23 L62.99 608.98 L62.82 609.46 L62.49 609.99 L63.23 610.09 L62.75 610.53 L62.98 611.7 L63.08 611.95 L62.97 612.35 L63.37 613.01 L62.96 613.54 L63.6 613.43 L62.59 614.04 L63.4 614.72 L62.92 615.43 L62.47 615.76 L63.59 616.17 L63.66 616.81 L63.3 617.57 L62.78 617.46 L62.82 618 L62.98 618.79 L61.92 619.69 L62.18 619.76 L62.88 620.56 L63.72 620.75 L62.91 621.68 L63.3 621.84 L63.2 622.2 L62.39 623.13 L62.1 623.3 L62.82 623.79 L62.74 623.97 L62.99 625.15 L62.62 625.67 L63.34 625.97 L63 625.81 L63.22 627.27 L63.3 627.49 L63.22 628.3 L63.61 628 L63.29 629.09 L63.6 629.51 L63.46 629.66 L62.43 630.51 L62.75 630.62 L62.62 631.61 L62.87 632.37 L62.94 632.82 L63.78 633.02 L63.18 633.26 L62.8 633.59 L62.95 634.02 L63.11 634.49 L63.08 635.56 L62.68 636.28 L63.2 636.49 L62.8 637.22 L63.74 637.45 L62.78 637.69 L62.97 638.88 L62.63 638.72 L63.38 640.03 L62.33 639.85 L63.7 640.61 L63.25 641.21 L63.15 641.55 L62.95 642.12 L62.75 642.46 L63.23 643.32 L63.35 643.98 L63.57 644.83 L63 644.06 L63.13 644.7 L63.48 644.97 L62.95 646.22 L63.19 646.47 L64.2 647.25 L63.52 647.57 L63.52 648.09 L62.59 648.73 L62.32 648.77 L62.75 649.28 L62.82 649.85 L62.43 650.91 L61.76 651.19 L62.07 651.59 L62.43 652.05 L63.3 652.38 L62.06 653.51 L62.93 653.46 L62.81 654.52 L62.14 655.44 L62.28 655.34 L62.6 655.5 L62.32 656.67 L62.7 657.01 L63.09 656.7 L62.84 657.53 L63.11 658.32 L63.17 658.94 L63.7 659.05 L63.36 659.87 L63.48 660.33 L62.97 660.82 L63.92 661.02 L63.46 661.92 L63.54 662.46" fill="none" stroke="#a32536" stroke-width="0.5" stroke-opacity="0.9" stroke-linejoin="round"/>
<path d="M63.83 590.09 L63.24 590.46 L63.77 591.42 L63.3 591.26 L64.53 591.87 L64.66 592.41 L64.63 593.03 L64.67 593.49 L64.42 593.88 L63.35 594.45 L64.14 595.13 L64.01 596.41 L64.09 596.19 L63.08 596.88 L63.26 597.28 L64.01 598.1 L63.3 597.6 L63.45 598.38 L63.43 598.9 L63.51 599.72 L63.37 600.2 L62.96 600.8 L63.76 601.13 L63.1 601.87 L63.31 602.01 L63.84 602.42 L62.83 602.7 L63.5 603.32 L63.57 604.13 L62.78 605.02 L63.36 605.3 L63.2 605.62 L63.39 605.88 L63.57 606 L63.74 606.64 L63.17 607.86 L63.62 608.15 L64.56 609.11 L64.06 608.68 L63.78 609.62 L64.02 609.82 L64.18 610.26 L63.24 611.88 L63.84 612.19 L63.54 612.65 L63.19 612.62 L63.41 613.07 L62.62 613.97 L62.59 614.15 L63.6 614.9 L62.74 615.1 L63.6 615.63 L63.7 615.94 L63.14 617.1 L63.38 616.75 L63.43 617.69 L63.54 617.86 L63.78 618.75 L63.83 619.41 L63.11 619.97 L63.97 619.65 L63.37 620.98 L63.49 621.58 L63.28 622 L62.23 622.43 L62.93 622.73 L62.94 623.42 L63.78 623.64 L63.28 624.44 L63.45 625.04 L62.65 625.67 L63.84 625.73 L63.21 626.15 L63.8 626.47 L63.2 627.26 L63.94 628.29 L64.14 628.26 L63.43 628.61 L64.07 629.6 L63.25 629.81 L64.02 630.34 L63.24 630.64 L63.44 631.03 L63.37 631.33 L63.43 632.42 L63.39 633.01 L63.65 633.32 L63.67 633.96 L62.69 633.98 L62.92 635.26 L63.28 635.32 L63.39 636.14 L63.78 636.85 L63.3 637.16 L64.17 637.66 L63.93 637.96 L64.1 638.5 L63.36 639.27 L63.68 639.14 L62.78 640.24 L62.87 640.08 L63.32 640.88 L63.43 641.23 L63.12 641.49 L63.39 642.19 L63.57 642.84 L63.16 642.82 L64.01 644.45 L63.68 644.58 L63.99 644.87 L64.08 645.7 L63.86 645.77 L64.02 646.91 L64 646.95 L63.66 647.24 L63.65 647.85 L64.27 648.63 L63.67 648.66 L63.17 649.33 L64.09 650.04 L63.62 650.45 L63.4 650.52 L62.64 651.57 L63.68 651.99 L62.76 652.63 L63 653.25 L62.9 653.3 L62.53 653.84 L63.06 653.95 L62.92 655.12 L63.32 655.97 L63.95 656.33 L63.25 656.31 L63.77 657.4 L62.78 656.99 L62.79 658.23 L63.74 658.76 L64.46 658.77" fill="none" stroke="#a32536" stroke-width="0.5" stroke-opacity="0.9" stroke-linejoin="round"/>
<path d="M63.35 589.44 L63.04 589.77 L63.66 590.14 L63.77 591.7 L64.26 591.39 L63.98 591.98 L63.58 593.24 L63.55 592.9 L64.17 593.67 L63.62 593.51 L63.13 595.17 L62.73 595.28 L62.44 595.76 L62.82 596.02 L63.43 596.64 L62.58 597.4 L62.41 597.4 L63 598.07 L62.53 598.61 L62.01 598.94 L62.91 599.63 L62.3 599.91 L63.07 601.07 L63.4 601.37 L63.31 601.33 L63.16 602.32 L63.52 602.84 L64.2 603.28 L63.67 603.1 L63.2 604.38 L63.39 604.66 L63.78 605.18 L63.43 605.67 L62.46 606.01 L62.8 607.28 L63.63 606.93 L63.31 607.49 L63.35 608.12 L62.55 608.92 L62.48 608.79 L63.69 609.08 L63.3 610.65 L64.3 610.05 L64.01 611.27 L63.12 611.53 L63.9 611.63 L63.38 612.53 L63.08 613.03 L63.95 613.65 L63.31 614.24 L63.25 614.66 L63.79 615.21 L63.21 615.92 L64.05 616.65 L62.74 616.95 L63.47 617.33 L63.38 617.85 L63.31 618.27 L63.27 618.92 L62.87 619.17 L64.14 619.7 L62.82 620.73 L63.03 620.6 L63.04 621.56 L63.14 621.96 L63.02 621.88 L62.69 623.09 L63.17 623.52 L63.06 623.59 L62.58 624.25 L62.79 624.91 L63.06 625.65 L62.19 625.76 L62.93 626.56 L63.95 627.09 L63.31 626.95 L63.33 627.4 L63.41 628.18 L63.57 629.25 L63.36 629.49 L63.06 630.53 L63.64 630.49 L64.39 630.75 L63.28 631.73 L63.89 631.91 L63.47 632.36 L63.02 633.25 L63.24 633.58 L63.4 634.16 L63.28 634.41 L63.47 635.39 L62.81 635.49 L63.17 635.4 L63.74 636.26 L63.13 636.52 L64.67 637.6 L63.55 637.99 L63.23 638.82 L63.3 639.01 L64.07 639.8 L62.9 639.67 L63.8 640.52 L63.55 641.07 L63.55 642.13 L63.54 642.21 L62.61 642.83 L63.23 642.77 L62.72 643.7 L62.37 643.74 L63.33 645 L62.72 644.71 L62.13 645.89 L63.14 645.74 L62.98 646.57 L62.69 647.58 L62 647.53 L63.47 647.73 L63.13 648.42 L63.25 649 L62.41 649 L63.49 650.26 L63.62 650.38 L63.08 651.22 L63.37 651.87 L63.09 651.94 L63.16 652.18 L63.28 653.04 L63.37 654.15 L63.65 654.36 L63.55 654.49 L63.55 655.18 L62.92 656 L63 656.65 L63.41 656.32 L63.36 656.89 L63.84 657.81 L64.13 658.15 L63.13 658.67 L63.56 659.1 L63.48 659.49 L63.71 660.27 L63.13 660.35 L63.38 661.36" fill="none" stroke="#a32536" stroke-width="0.5" stroke-opacity="0.9" stroke-linejoin="round"/>
<path d="M65.33 626.41 L64.71 627.19 L64.15 626.18 L62.54 626.89 L61.96 628.27 L60.74 625.99 L60.57 626.44 L60.98 628.04 L60.2 626.43 L61.13 626.38 L61.97 625.31 L62.72 624.36 L63.1 623.56 L64.56 623.3 L66.33 624.19 L66.8 625.28 L66.8 625.86 L65.82 626.25 L65.98 625.5 L66.62 625.1 L66.8 626.46 L66.8 625.11 L65.85 627.21 L66.4 627.94 L65.52 628 L66.14 628.96 L66.02 629.18 L65.88 628.97 L66.28 629.74 L65.29 629.27 L64.62 628.51 L64.53 629.42 L63.9 629.99 L64.36 630.55 L63.29 630.34 L63.61 629.12 L64.19 628.51 L64.49 627.74 L66.8 627.52 L66.8 627.67 L66.8 627.97 L65.38 629.21 L66.8 630.8 L64.97 630.51 L64.6 629.28 L64.77 629.68 L65.14 628.27 L64.9 627.93 L64.99 626.91 L64.79 626.05 L63.44 624.06 L64.36 622.9 L64.66 625.45 L63.46 625.42 L62.25 624.43 L62.49 625.08 L62.05 624.02 L62.76 624.17 L61.59 622.98 L60.3 624.52" fill="none" stroke="#a32536" stroke-width="0.5" stroke-opacity="0.9" stroke-linejoin="round"/>
<rect x="58.4" y="578.5" width="9.8" height="96.2" fill="none" stroke="#111" stroke-width="1.6"/>
<rect x="20.6" y="621.8" width="85.8" height="9.9" fill="none" stroke="#24365e" stroke-width="1.6"/>
<circle cx="26.5" cy="626.6" r="1.2" fill="#1010ee"/>
<circle cx="100" cy="626.8" r="1.2" fill="#e02020"/>
<path d="M116.81 627.82 L117.67 627.37 L117.66 627.46 L118.37 627.76 L119.11 626.91 L119.53 627.17 L120.38 627.92 L120.65 627.42 L120.55 627.8 L121.36 627.48 L121.97 627.75 L122.13 627.49 L122.55 628.15 L123.51 628.03 L124.03 627.82 L124.45 627.49 L124.43 627.3 L125.46 627.93 L125.57 627.5 L126.3 627.52 L127.07 627.19 L127.53 627.44 L128.03 627.27 L128.63 626.82 L129.78 627.42 L129.16 627.25 L130.2 627.81 L130.68 627.94 L131.06 627.54 L132.39 627.3 L132.21 626.86 L132.61 628.04 L133.41 627.15 L133.92 627.31 L134.15 628.17 L134.4 627.15 L135.08 627.36 L135.78 627.91 L136.2 627.14 L136.68 627.19 L137.5 626.77 L137.63 627.68 L138.58 627.56 L138.87 627.19 L139.04 628.34 L139.81 627.12 L140.01 627.11 L140.58 627.24 L141.13 627.39 L141.85 626.64 L141.78 627.2 L143.24 626.81 L143.4 627.04 L143.53 627.07 L143.97 627.46 L145.1 627.05 L145.24 627.78 L145.57 626.54 L146.43 627.19 L146.68 627.61 L147.39 626.71 L147.98 627.35 L148.41 626.45 L149.39 628.23 L149.37 627.03 L149.63 627.7 L150.48 627.29 L150.84 626.74 L151.7 628.06 L151.68 626.95 L152.7 628.16 L152.94 627.56 L153.16 627.4 L154.06 627.83 L153.94 627.78 L155.39 627.11 L155.39 627.58 L156.06 627.7 L156.51 627.89 L156.42 627.44 L157.61 627.47 L157.16 627.95 L158.47 628.51 L158.4 627.72 L159.01 628.53 L159.72 628.22 L160.64 627.79 L160.67 627.94 L160.78 627.18 L161.91 626.91 L162.13 626.77 L162.19 627.03 L163.44 627.66 L164.31 626.73 L164.29 627.9 L164.91 627.08 L165.02 626.96 L166.3 626.75 L166.75 627.37 L166.92 627.01 L167.07 626.07 L168.2 626.53 L168.25 626.22 L169.17 626.82 L169.4 627.18 L170.19 626.66 L170.65 627.12 L170.73 627.2 L172.09 626.72 L172.03 627.07 L172.54 627.29 L172.7 626.99 L173.07 627.01 L173.75 626.78 L174.71 627.15 L174.75 627.29 L175.32 626.93 L176.13 627.62 L176.61 627.41 L176.91 626.86 L177.73 627.33 L177.75 627.58 L178.42 628.01 L179.27 628.05 L179.75 627.5 L180.05 627.98 L180.21 628.34 L181.29 627.93 L181.72 628.33 L182.05 628.02 L182.41 627.78 L183.13 628.54 L183.39 628.57 L183.23 627.78 L184.92 627.27 L185.02 628.1 L185.35 627.09 L186.48 627.72 L186.99 627.86 L187.46 627.37 L187.68 627.49 L187.42 627.17 L188.67 627.51 L189.08 627.02 L189.6 626.46 L189.86 626.85 L190.96 627.04" fill="none" stroke="#2f8fba" stroke-width="0.5" stroke-opacity="0.9" stroke-linejoin="round"/>
<path d="M119.55 626.73 L120.36 627.11 L120.56 627.79 L121 627.57 L121.45 627.5 L122.74 626.7 L122.68 627.81 L123.55 627.7 L124.05 627.59 L124.3 627.82 L124.41 628.22 L125.08 626.94 L125.92 627.36 L126.05 626.7 L127 626.93 L127.34 627.79 L127.6 627.41 L128.1 626.71 L128.71 627.35 L128.67 627.24 L130.16 627.58 L130.18 627.33 L131.07 626.96 L131.37 627.06 L131.9 627.49 L132.28 627.08 L132.78 627.01 L133.42 627.24 L133.24 627.05 L134.48 627.26 L134.53 627.64 L135.16 626.98 L135.88 627.58 L136.62 628.26 L137.02 626.8 L137.62 627.71 L137.58 626.92 L137.97 627.79 L138.48 627.27 L139.81 627.58 L140.11 627.3 L140.06 627.09 L141 627.69 L141.24 627.19 L142.12 627.63 L142.15 627.56 L142.81 627.69 L143.25 627.43 L143.62 627.39 L144.53 626.69 L144.64 627.33 L145.39 627.45 L145.87 627.52 L145.87 627.33 L147.56 627.64 L147.83 626.78 L148.4 627.33 L148.3 627.95 L148.88 627.87 L149.52 627.13 L149.94 627.71 L150.27 627.48 L150.84 628.26 L151.6 627.49 L151.63 627.8 L152.51 627.76 L152.68 627.98 L153.59 628.31 L154.03 627.14 L154.28 627.78 L155.24 627.97 L155.46 628.21 L156.27 627.62 L156.54 627.49 L156.86 625.78 L157.72 627.08 L158.23 627.14 L158.06 626.58 L159.43 626.45 L158.98 627.23 L160.81 626.9 L160.39 627.28 L160.99 627.13 L161.69 627.7 L161.49 627.69 L162.85 627.99 L163.06 627.2 L163.35 628.16 L164.18 628.07 L164.28 627.95 L165.51 627.52 L165.33 627.96 L165.74 628.19 L166.49 627.31 L166.94 627.67 L167.08 627.4 L167.82 627.12 L168.48 627.31 L168.78 626.59 L169.51 626.64 L170.14 626.07 L170.53 626.92 L171.48 626.57 L171.57 627.59 L172.05 627.2 L172.52 626.76 L173.19 627.4 L173.46 627.74 L173.43 627.89 L174.86 627.86 L175.25 627.92 L175.16 627.43 L175.75 627.84 L176.56 627.77 L177.02 628.16 L177.61 627.59 L178.04 628.28 L178.73 627.15 L178.91 627.79 L179.73 626.7 L180.26 627.7 L180.65 626.61 L181.24 626.3 L182.22 627.38 L182 626.94 L182.59 626.84 L183.01 627.04 L183.76 627.03 L184.56 626.4 L184.23 627.14 L184.93 626.98 L185.83 628.04 L185.82 627.54 L186.59 628.01 L187.59 627.6 L188.09 626.9 L188.74 627.47 L188.57 627.82 L189.31 627.96 L189.65 628 L190.43 628.04 L190.76 627.61 L191.3 627.33 L192.04 626.87" fill="none" stroke="#2f8fba" stroke-width="0.5" stroke-opacity="0.9" stroke-linejoin="round"/>
<path d="M122.71 627.29 L122.45 627.7 L122.87 627.35 L123.18 627.42 L123.89 627.62 L125 627.36 L124.85 627.56 L125.19 627.5 L125.84 628.05 L126.84 627.85 L127.51 628.06 L127.91 627.86 L128.43 627.64 L129.24 627.73 L129.17 627.34 L129.73 627.4 L130.23 627.87 L130.64 627.31 L131.68 627.09 L132.39 627.14 L132.47 627.07 L132.87 627.35 L133.36 627.21 L133.65 626.62 L134.61 627.37 L135.22 626.29 L135.54 626.96 L135.82 626.9 L136.49 626.87 L136.51 627.41 L137.11 627.01 L138.06 626.97 L138.67 626.87 L139.04 627.16 L139.54 626.76 L140.13 627.95 L140.13 627.35 L141.19 627.83 L142.2 627.16 L141.81 628.17 L142.59 627.34 L142.84 627.86 L143.68 628.1 L144.13 627.02 L144.54 627.42 L145.35 628.04 L145.57 626.97 L146.27 626.44 L146.34 626.91 L146.75 627.62 L146.82 627.83 L148.1 627.69 L148.41 627.75 L149.25 627.31 L149.38 627.57 L150.14 627.29 L150.35 627.24 L151.25 627.61 L151.98 627.04 L151.5 627.69 L151.89 627.14 L153.04 627.29 L153.46 627.12 L153.84 627.09 L154.19 627.21 L155.13 627.74 L155.17 627.84 L155.74 627.67 L156.26 626.87 L157.08 627.11 L157.62 627.59 L158.11 627.66 L158.62 627.09 L159.19 627.26 L159.37 627.64 L159.89 627.14 L160.49 627.42 L161.48 627.45 L161.01 627.91 L162.86 626.89 L162.87 626.82 L163.32 627.24 L163.56 626.92 L164.47 627.59 L164.86 626.82 L165.1 626.83 L165.53 628.21 L165.92 627.34 L166.86 626.78 L166.86 627 L168.69 627.85 L168.3 627.27 L168.82 627.35 L168.99 627.07 L169.92 628.15 L170.06 626.71 L170.44 627.71 L170.7 626.94 L171.47 627.75 L172.37 627.21 L172.59 627.01 L173.5 626.98 L173.75 627.11 L174.6 627.63 L174.67 627.41 L175.69 627.81 L175.62 627.36 L176.16 627.92 L176.12 628.28 L177.18 627.83 L178.01 628.08 L177.51 626.67 L178.8 627.62 L179 627.94 L179.5 627.37 L180.62 627.74 L181.13 627.4 L180.96 627.31 L182.23 627.5 L182.27 626.95 L183.11 626.67 L183.32 626.86 L184.11 627.13 L184.17 627.65 L185.3 627.96 L185.26 626.85 L185.87 627.01 L186.28 626.95" fill="none" stroke="#2f8fba" stroke-width="0.5" stroke-opacity="0.9" stroke-linejoin="round"/>
<path d="M117.09 627.39 L117.85 626.92 L118.43 628.26 L118.24 628.16 L118.46 626.94 L119.33 627.53 L120.15 626.86 L120.39 627.16 L121.4 627.2 L121.88 627.34 L121.34 626.18 L122.32 626.67 L123.1 627.12 L123.8 627.43 L124.23 627.22 L124.51 627.03 L124.78 627.22 L124.9 627.33 L125.86 627.41 L126.76 626.96 L127.53 626.94 L127.29 627.19 L127.71 627.62 L128.81 627.33 L128.97 626.7 L130.12 626.94 L129.51 627.32 L130.54 627.05 L130.84 627.48 L131.38 627.02 L131.97 627.08 L132.7 627.32 L132.88 627.18 L133.42 627.25 L134.19 627.18 L134.82 627.99 L135.39 627.93 L135.36 627.27 L135.85 627.46 L137.11 627.23 L136.99 627.19 L136.92 627.45 L138.35 627.75 L138.28 627.02 L138.49 627.72 L139.74 627.35 L140.72 627.01 L140.28 627.4 L141.14 626.74 L141.67 627.24 L141.87 626.65 L142.21 627.29 L143.69 626.93 L143.43 627.63 L144.37 626.56 L145.06 626.93 L145.32 626.71 L145.43 627.42 L146.18 627.13 L146.71 626.81 L147.08 627.23 L147.51 627.36 L148.47 627.75 L148.85 627.34 L149.14 627.69 L150.07 627.46 L149.85 627.43 L151.18 627.48 L150.94 627.35 L152.17 627.62 L152.29 627.07 L152.63 627.59 L153.29 626.88 L153.97 627.29 L154.52 626.82 L154.71 627.23 L155.46 626.42 L155.65 627.87 L155.88 627.1 L156.73 627.49 L156.69 627.17 L157.88 626.67 L157.75 627.07 L158.7 626.89 L159.16 627.25 L159.23 627.19 L160.37 627.86 L160.64 626.98 L161.21 627.78 L161.99 627.26 L162.24 626.64 L162.91 626.98 L162.68 626.82 L163.6 626.74 L164.03 627.91 L164.85 626.8 L165.47 627.41 L166.3 627.49 L166.52 627.23 L166.99 627.59 L168.32 627.02 L167.95 627.67 L168.03 627.27 L169.07 627.2 L169.43 627.35 L169.48 626.75 L170.19 627.65 L170.6 628.14 L170.73 627.34 L171.31 627.11 L172.14 627.17 L172.86 626.92 L172.77 627.36 L174.59 626.72 L174.22 627.16 L175.01 627.21 L174.61 627.15 L175.82 626.86 L176.48 627.55 L177.64 627.5 L177.4 627.01 L178.46 627.19 L178.71 627.07 L179.02 627.56 L179.21 627.48 L180.04 626.86 L180.41 626.84 L180.98 627.06 L181.52 627.08 L182.36 626.83 L182.33 627.25 L182.87 627.1 L183.66 627.12 L183.93 627.51 L184.13 627.12 L184.86 628.31 L185.14 627.85 L185.82 628.23 L186.81 628.36 L187.09 627.87 L187.36 626.82 L188.46 628.21 L188.74 627.59 L188.57 627.11 L189.7 627.75 L189.96 627.55 L189.69 626.05 L191.4 626.18 L191.11 626.55" fill="none" stroke="#2f8fba" stroke-width="0.5" stroke-opacity="0.9" stroke-linejoin="round"/>
<path d="M155.94 593.47 L156.11 594.21 L155.23 594.41 L155.63 594.59 L155.65 595.44 L155.89 596.31 L155.95 596.77 L156.25 597.15 L156.3 597.71 L155.71 598.01 L156.3 598.38 L156.1 599.01 L156.39 599.26 L155.59 599.7 L155.85 600.48 L154.87 600.89 L155.98 601.12 L155.59 601.32 L155.7 602.66 L155.09 603.16 L155.86 603.98 L156.53 604 L156.03 604.25 L155.99 605.23 L156.03 605.44 L157.02 605.9 L156.32 606.55 L155.62 606.77 L156.27 607.6 L155.47 607.69 L156.21 609.39 L156.21 608.79 L155.89 609.61 L156.54 610.35 L155.66 611.16 L155.8 611.21 L155.12 611.63 L155.47 612.24 L155.25 612.77 L154.61 613.31 L155.64 613.48 L155.39 613.72 L155.49 614.8 L155.79 615.44 L155.94 615.84 L155.87 616.19 L155.72 616.6 L155.66 617.32 L155.8 617.79 L155.6 618.15 L155.84 618.86 L155.59 618.98 L155.56 619.65 L155.54 620.36 L155.95 620.26 L156.11 621.61 L155.38 621.58 L156.08 622.34 L156.24 622.84 L156.03 623.21 L156.1 623.77 L155.83 624.49 L156.05 624.86 L156.57 625.07 L156.5 625.8 L156.76 626.56 L155.83 626.75 L156.23 627.88 L156.03 627.8 L155.67 628.41 L155.72 628.89 L155.27 629.37 L155.22 630.24 L155.33 630.65 L155.28 630.41 L155.24 631.05 L155.38 631.51 L155.95 632.38 L155.17 632.48 L155.69 632.7 L155.32 634.04 L155.55 634.02 L155.26 634.76 L155.61 635.71 L156.14 635.44 L155.66 636.7 L155.75 637.09 L156.72 637.61 L155.81 637.93 L156.1 638.12 L155.66 639.16 L155.78 639.45 L156.02 640.17 L155.7 639.96 L155.66 640.76 L156.38 641.83 L155.97 642.37 L156.28 642.38 L155.92 642.56 L156.02 644.03 L155.68 644.15 L156.96 643.98 L156.52 645.12 L155.95 645.3 L156.34 646.03 L156.29 646.71 L156.32 646.86 L155.69 647.98 L156.09 648.27 L155.43 648.47 L155.73 649.57 L154.91 649.61 L155.94 649.88 L154.49 650.88 L155.4 651.21 L154.97 651.46 L155.31 651.78 L155.61 652.82 L155.94 653.22 L155.64 653.73 L155.37 654.34 L156.15 654.44 L156.19 654.44 L155.92 655.68 L155.37 656.4 L155.85 656.56 L156.09 657.07 L156.02 657.63 L155.76 658.23 L155.97 658.18 L156.02 659.07 L156.04 659.81 L156.8 660.47 L156.15 660.96 L156.44 661.49 L156.67 661.12 L156.02 662.52 L155.86 662.86" fill="none" stroke="#2f8fba" stroke-width="0.5" stroke-opacity="0.9" stroke-linejoin="round"/>
<path d="M156.37 590.7 L156.79 590.66 L156.01 591.14 L156.92 592.02 L155.9 592.11 L156.81 592.5 L156.63 593.67 L156.19 594.15 L156.78 594.51 L156.59 595.29 L155.87 595.3 L156.87 595.69 L155.63 596 L155.7 596.81 L155.24 597.74 L153.78 598.16 L155.8 598.28 L155.77 599.02 L156.04 599.42 L155.8 600.01 L156.04 600.35 L155.49 601.01 L155.42 601.59 L156.27 602.1 L156.54 602.64 L156.54 603.36 L155.94 603.74 L155.8 604.23 L156.25 604.18 L156.44 604.93 L155.7 605.78 L156.45 605.98 L155.87 606.42 L156.11 607.27 L155.65 607.46 L156.96 608.8 L156.26 608.59 L156.46 609.04 L157.17 609.21 L156.39 610.11 L155.59 610.9 L155.86 610.95 L156.66 611.68 L156.56 611.96 L155.65 612.65 L155.71 613.09 L155.52 613.45 L155.64 614.05 L155.67 614.77 L155.5 615.27 L154.96 615.59 L155.83 616.2 L155.8 616.43 L155.68 616.92 L155.56 617.49 L155.8 618.5 L156.01 619.09 L156.25 619.36 L155.83 620.29 L156.3 619.66 L156.37 620.98 L155.78 621.17 L156.65 621.67 L155.59 622.33 L156.07 622.74 L156.11 623.18 L156.68 624.37 L156.25 624.2 L156.99 624.74 L156.66 625.21 L156.68 626.08 L156.75 626.29 L156.6 626.69 L156.82 627.15 L155.83 627.47 L156.62 628.23 L155.63 628.95 L155.76 629.48 L156.38 629.65 L155.16 630.03 L155.46 631.25 L155.7 631.13 L155.19 632.44 L156.1 632.55 L154.93 633.28 L155.75 633.07 L155.29 633.84 L155.83 635.07 L155.52 635.04 L155.25 635.44 L155.84 636.02 L156.36 636.64 L155.72 636.5 L156.65 637.73 L156.4 637.78 L156.12 638.24 L155.61 638.49 L156.29 639.64 L156.41 639.72 L156.42 640.66 L156.54 641.41 L156.49 641.01 L156.77 642.09 L156.71 642.15 L156.55 643.1 L156.11 643.49 L156.58 644.03 L156.37 644.99 L156.15 644.93 L156.02 645.66 L155.38 645.75 L155.02 647.03 L155.1 647.01 L155.03 647.79 L155.05 648.07 L156.18 648.26 L154.45 648.9 L155.36 649.13 L156.03 649.95 L155.87 650.8 L156.62 651.48 L156.05 651.56 L156.83 652.74 L156.67 652.58 L156.91 652.66 L156.22 653.94 L156.41 654.25 L156.22 655.01 L156.47 655.12 L155.62 655.7 L156.62 656.23 L156.16 655.99 L156.05 657.7 L155.72 657.55 L155.83 658.33 L155.76 658.7 L156.09 659.59" fill="none" stroke="#2f8fba" stroke-width="0.5" stroke-opacity="0.9" stroke-linejoin="round"/>
<path d="M156.04 594.94 L156.26 595.94 L155.81 596.44 L156.26 597.25 L155.87 597.71 L155.73 598.42 L155.78 598.57 L156.27 598.85 L156.1 599.59 L155.66 600.35 L155.46 600.33 L156.92 600.73 L155.62 601.19 L156.24 601.84 L156.21 603.21 L155.18 602.76 L155.89 603.61 L156.18 603.83 L156.67 603.99 L155.44 605.51 L155.2 605.14 L155.06 605.45 L155.43 607.41 L155.22 606.94 L155.39 606.93 L156.07 607.95 L155.14 607.86 L154.68 608.29 L155.02 609.69 L155.3 609.91 L155.46 610.61 L154.16 610.96 L155.36 611.25 L155.46 612.45 L155.8 612.82 L155.18 612.87 L154.98 613.91 L155.94 614.1 L155.8 615.05 L155.92 614.77 L156.38 616.08 L155.72 616.13 L155.87 616.05 L155.58 617.98 L156.28 617.3 L155.81 617.61 L156.05 619.19 L155.83 618.82 L155.65 619.75 L156.04 619.83 L155.03 620.17 L156.11 621.17 L156.03 622.02 L155.55 622.42 L155.57 623 L156.18 622.97 L156.54 623.95 L156 624.04 L156.15 624.69 L156.66 625.05 L156.76 625.81 L156.81 626.25 L156.71 627 L155.8 627.32 L156.12 628.07 L155.47 628.55 L155.05 628.74 L155.54 629 L155.26 629.93 L155.82 630.13 L154.3 630.94 L155.36 631.42 L155.25 630.97 L155.6 631.97 L155.34 632.31 L154.9 633.17 L155.51 633.51 L155.31 634.19 L155.64 635.69 L155.25 635.29 L155.93 635.62 L155.98 636.16 L155.51 636.92 L156.53 637.57 L155.58 637.45 L155.55 638.24 L155.23 639.37 L155.6 639.74 L155.19 639.9 L155.39 640.46 L155.42 641.24 L155.52 640.38 L154.92 642.08 L155.75 642.26 L155.43 642.81 L155.75 643.1 L156.55 644.11 L155.69 643.88 L156.72 644.91 L155.61 644.67 L156.87 646 L156.02 646.51 L156.12 646.73 L156.69 647.19 L155.63 647.69 L156.51 647.95 L155.43 649.18 L155.54 649.09 L155.7 650.01 L154.83 650.84 L155.53 651.23 L155.13 651.25 L154.68 651.87 L155.78 652.04 L154.93 653.28 L154.56 652.98 L155.6 653.71 L155 654.5 L156.1 654.77 L155.86 655.56 L155.51 656.21 L155.69 656.42 L155.89 656.94 L155.14 656.96 L156.35 657.94 L155.9 657.99 L156.32 658.89 L155.3 659.57 L155.1 659.79 L155.19 660.15 L155.15 661.41 L155.14 661.78 L155.69 662.71" fill="none" stroke="#2f8fba" stroke-width="0.5" stroke-opacity="0.9" stroke-linejoin="round"/>
<path d="M155.83 592.12 L155.94 592.92 L155.55 593.74 L156.22 593.91 L155.54 594.32 L155.57 594.89 L156.35 595.18 L156.18 595.96 L155.62 596.45 L155.34 596.95 L156.26 597.89 L155.58 597.96 L155.42 598.29 L155.34 599.16 L155.12 599.56 L155.04 600.1 L155.38 600.53 L155.36 601.37 L155.59 601.97 L155.51 602.65 L155.55 602.67 L156.38 602.86 L155.32 603.96 L155.9 604.63 L156.19 604.39 L156.47 605.09 L156.24 605.9 L155.6 606.5 L156.13 606.55 L155.97 607.23 L156.29 607.71 L156.55 608.19 L156.05 608.62 L155.31 609.35 L155.79 609.74 L155.73 609.98 L155.08 610.72 L155.08 611.1 L154.39 611.9 L155.29 612.58 L154.92 612.87 L154.79 613.05 L155.71 613.91 L154.64 613.82 L155.33 614.84 L155.36 615.33 L155.45 615.68 L155.94 616.3 L156 616.99 L155.63 617.28 L155.78 617.71 L155.69 618.55 L155.92 618.43 L155.62 619.27 L155.71 619.77 L155.67 620.47 L155.51 620.49 L155.86 621.36 L155.44 621.87 L155.55 622.45 L155.39 623.01 L154.84 623.29 L155.5 623.56 L155.24 623.82 L155.13 624.68 L155.58 625.23 L155.67 626.31 L155.5 626.2 L156.08 626.73 L156.44 627.36 L155.74 627.92 L156.08 628.16 L156.45 629.5 L156.42 629.55 L155.28 630.21 L156.39 630.41 L156.02 630.81 L156.06 631.73 L156.1 631.84 L155.62 632.56 L155.55 633.3 L155.03 633.58 L155.39 633.85 L155.72 634.1 L155.37 635.29 L155.47 635.05 L155.25 636.41 L155.53 636.45 L155.46 636.52 L155.56 637.71 L155.39 638.1 L154.74 638.88 L155.97 638.74 L155.65 639.59 L155.06 639.59 L155.49 640.4 L154.98 641.25 L155.7 641.46 L155.5 641.78 L155.69 642.26 L155.25 642.76 L155.3 643.07 L155.24 644.05 L155.53 644.25 L155.45 644.62 L155.02 645.21 L155.12 646.47 L155.57 646.27 L154.45 646.88 L154.72 647.36 L155.57 647.72 L155.74 648.65 L155.47 648.91 L155.64 650.09 L156.21 649.83 L155.43 650.73 L155.74 651.28 L155.97 651.44 L156.55 651.93 L155.42 652.59 L155.53 653.55 L155.17 653.84 L155.88 653.81 L155.81 654.6 L155.38 655.03 L156.09 655.78 L156.18 656.27 L156.18 656.64 L155.89 657.19 L155.6 657.81 L156.43 658.26 L155.68 659.1 L155.58 659.61 L156.14 659.89 L155.73 660.33 L155.62 660.6 L155.4 661.44 L155.66 661.66 L154.95 662.4 L156.38 662.56 L155.81 663.02" fill="none" stroke="#2f8fba" stroke-width="0.5" stroke-opacity="0.9" stroke-linejoin="round"/>
<path d="M157.36 627.04 L159.39 626.7 L159 625.7 L159.35 624.74 L157.81 624.77 L155.13 624.99 L155.96 626.32 L157.27 625.44 L158.16 623.97 L159.39 623.3 L159.4 623.3 L159.54 624.6 L157.63 623.3 L157.98 623.3 L158.71 623.3 L157.3 623.3 L156.65 623.3 L156.93 623.3 L155.56 624.62 L154.59 623.61 L155.81 623.61 L157.1 624.17 L156.73 623.3 L158.1 624.7 L157.68 623.3 L158.92 624.58 L158.96 624.12 L159.72 624.85 L157.59 625 L157.11 625.11 L155.81 626.87 L156.1 625.93 L154.94 625.3 L156.36 626.12 L156.43 627.24 L156.54 629.42 L157.71 629.48 L157.7 631.14 L155.3 630.51 L154.26 631.22 L153 631.04 L153.19 631.04 L154.17 631.51 L153.27 631.6 L153 631.6 L155.24 631.5 L154.46 629.01 L155.02 629.29 L154.23 629.65 L153 630.54 L153 631.53 L153 629.96 L153.55 629.4 L153 629.68 L153.88 628.83 L154.01 630.82 L153.97 630 L153.08 629.39 L153.29 629.1 L153.06 628.77" fill="none" stroke="#2f8fba" stroke-width="0.5" stroke-opacity="0.9" stroke-linejoin="round"/>
<rect x="151.6" y="579.5" width="9.6" height="95.9" fill="none" stroke="#111" stroke-width="1.6"/>
<rect x="114" y="622.4" width="86" height="10.1" fill="none" stroke="#24365e" stroke-width="1.6"/>
<circle cx="120.3" cy="629.3" r="1.2" fill="#e02020"/>
<circle cx="187.9" cy="626.8" r="1.2" fill="#1010ee"/>
<path d="M31.59 734.89 L31.86 735.32 L32.34 735.2 L33.04 734.77 L33.69 734.98 L33.71 734.89 L34.34 735.26 L34.87 734.71 L35.55 735.06 L35.46 734.57 L36.31 734.38 L36.97 734.86 L38.24 734.11 L37.67 734.63 L38.95 734.71 L39 734.23 L39.61 734.72 L40.66 734.5 L40.41 734.84 L40.35 735.87 L42.21 734.79 L42.49 734.91 L42.78 734.75 L43.13 734.23 L43.29 735.09 L44.02 735.29 L45.26 733.85 L45.1 734.75 L46.01 734.95 L46.29 734.63 L46.73 734.21 L47.86 735 L47.54 735.21 L48.23 735.13 L48.86 735.59 L49.43 734.81 L50.01 734.56 L50.45 734.58 L51.06 734.5 L51.14 734.5 L51.76 734.76 L52.52 734.44 L52.99 733.98 L53.24 734.35 L53.7 734.72 L54.29 734.73 L55.27 734.53 L55.12 734.66 L55.23 734.11 L55.99 734.13 L57.16 734.4 L57.58 734.32 L57.61 734.78 L58.19 734.94 L59.08 734.53 L59.63 734.41 L59.76 734.91 L60.75 734.93 L60.77 735.02 L61.43 735.04 L61.9 734.7 L62.1 735.03 L63.14 734.87 L63.5 735.23 L63.72 735.01 L64.62 735.64 L65.08 735.56 L65.82 735.62 L66 735.52 L66.48 735.2 L66.78 735.65 L67.09 735.74 L67.92 736.03 L68.31 735.51 L68.82 735.42 L69.52 734.96 L69.33 735.26 L70.49 734.74 L70.91 734.65 L71.63 735.15 L71.88 734.76 L72.24 734.27 L72.83 735.48 L73.63 734.29 L73.6 734.94 L74.33 734.65 L75.1 734.5 L76.35 734.77 L75.74 734.4 L76.16 735.12 L77.36 734.41 L76.84 734.17 L77.68 734.01 L78.41 734.87 L78.81 734.29 L79.9 734.31 L80.3 734.11 L80.32 733.53 L81.15 734.98 L81.18 734.75 L81.84 734.22 L82.3 734.85 L83 734.82 L83.1 734.52 L83.95 734.45 L84.27 734.58 L85.22 734.76 L86.11 734.69 L85.65 734.94 L87.1 734.45 L87.23 735.51 L87.43 735.09 L88.12 735.51 L88.83 736.51 L89.38 735.94 L90.1 735.43 L89.84 735.22 L91.14 735.22 L91.18 734.84 L91.72 735.82 L92.11 735.46 L92.93 735.3 L92.59 735.05 L94.16 734.64 L94.27 734.54 L94.55 733.9 L95.15 734.82" fill="none" stroke="#a32536" stroke-width="0.5" stroke-opacity="0.9" stroke-linejoin="round"/>
<path d="M28.13 734.13 L29.06 733.97 L28.96 732.97 L30.13 733.97 L30.17 733.69 L31.16 734.44 L31.27 733.8 L31.7 734.09 L32.35 734.62 L33.4 734.96 L33.86 734.67 L33.93 734.18 L34.68 735.14 L35.04 734.29 L35.36 734.49 L35.79 735.57 L36.13 734.96 L37.05 734.51 L37.97 734.44 L38.19 734.91 L38.57 734.18 L39.22 734.44 L39.95 734.43 L40.23 734.36 L40.74 733.76 L41.81 734.43 L41.42 734.18 L42.65 734.27 L42.18 734.75 L42.9 734.08 L43.51 734.72 L44.63 733.9 L44.66 734.05 L45 734.56 L45.02 733.69 L45.87 734.01 L46.61 734.84 L47.08 734.37 L47.78 734.02 L47.87 734.69 L48.8 733.75 L49.1 734.1 L49.95 733.93 L49.97 734.14 L50.45 734.62 L51.02 733.91 L51.75 734.11 L52.96 734.45 L52.74 733.5 L53.7 734.3 L53.67 734.95 L54.39 733.91 L54.5 734.31 L55.09 734.43 L55.6 734.88 L56.28 734.89 L56.9 734.71 L57.22 734.31 L57.76 734.28 L58.29 734.51 L58.59 734.22 L59.04 734.31 L59.79 733.93 L60.56 733.72 L60.69 734.39 L61.21 733.96 L61.63 734.33 L62.73 733.74 L62.71 734.38 L62.88 734.88 L64.28 733.91 L63.83 734.89 L64.68 734.45 L65.4 734.58 L65.39 734.34 L66.7 734.57 L66.85 733.58 L67.16 734.02 L68 733.67 L68.5 733.77 L68.57 734.41 L69.29 734.05 L70.07 734.07 L70.62 734.67 L70.83 734.65 L70.67 734.32 L71.69 734.92 L72.54 735.11 L72.87 734.26 L73.44 734.19 L74.26 733.72 L74.77 734.04 L74.79 734.28 L75.42 734.22 L76.53 734.02 L76.48 734.11 L76.72 733.92 L77.52 734.52 L78.17 734.49 L78.35 734.48 L79.11 735.35 L79.29 734.4 L79.7 735.12 L80.09 734.43 L80.94 734.72 L81.41 734.48 L81.46 734.96 L82.15 733.79 L83.05 733.73 L83.8 735.02 L83.77 733.66 L84.74 733.2 L84.76 733.47 L85.18 733.86 L86.29 733.77 L86.8 733.6 L86.55 734.46 L87.85 734.58 L87.48 734.47 L88.53 734.29 L89.17 734.98 L89.49 734.84 L90.26 734.78 L90.7 734.47 L91.98 734.81 L92.02 734.54 L91.93 733.88 L92.29 734.04" fill="none" stroke="#a32536" stroke-width="0.5" stroke-opacity="0.9" stroke-linejoin="round"/>
<path d="M33.67 734.63 L34.26 734.13 L34.26 734.71 L35.72 735.98 L35.74 734.92 L36.08 735.8 L36.63 734.83 L36.92 735.26 L37.68 735.04 L38.12 734.94 L39.14 734.89 L39.4 733.89 L39.61 734.13 L40.61 733.77 L41.18 734.09 L40.75 733.97 L41.79 733.33 L41.99 733.85 L42.77 733.58 L42.78 734.28 L43.71 733.09 L44.33 734.31 L45.08 734.71 L45.43 734.34 L45.31 735.28 L46.42 734.74 L47.8 735.69 L47.69 735.57 L47.69 734.17 L48.17 735.37 L48.58 735.51 L49.75 734.71 L49.73 734.77 L50.61 734.88 L50.9 734.44 L51.47 734.21 L52.22 734.12 L52.48 733.5 L53.05 734.17 L53.43 733.36 L53.67 733.27 L54.7 733.44 L54.95 734.24 L55.84 733.14 L56.13 734.41 L56.71 734.14 L57.03 734.2 L57.82 734.13 L57.58 733.79 L58.86 734.39 L58.69 735.23 L59.56 734.51 L59.8 734.99 L60.74 734.78 L60.95 734.72 L61.47 734.81 L62.56 734.88 L62.6 734.76 L62.94 735.32 L64.04 734.7 L64.35 733.78 L64.31 734.61 L65.4 733.53 L65.89 733.15 L66.12 734.74 L66.51 734.1 L67.34 734.25 L67.35 733.95 L68.24 733.33 L68.45 733.8 L68.8 734.11 L69.04 733.96 L70.12 734.16 L70.99 733.96 L70.98 734.79 L71.88 734.91 L72.37 734.45 L72.71 734.57 L73.58 734.93 L73.77 735.38 L74.19 735.11 L74.4 734.76 L75.47 735.25 L75.42 734.86 L76.29 733.94 L76.21 734.5 L76.92 734.71 L77.72 733.72 L77.85 734.41 L78.49 733.53 L79.56 733.97 L79.9 733.58 L80.54 734.65 L80.82 733.54 L81.16 733.97 L82.27 734.7 L82.06 734.4 L82.86 734.27 L83.33 733.82 L83.7 734.58 L84.61 735.01 L84.6 734.49 L85.41 734.73 L86.11 734.66 L85.99 734.75 L86.72 734.9 L87.4 734.87 L87.82 735.18 L88.4 734.22 L89 734.89 L89.84 734.26 L89.7 733.8 L90.44 733.64 L90.29 733.64 L91.04 733.37 L91.83 733.52 L92.76 733.55 L93.35 733.95 L93.21 734.74 L93.67 733.93 L93.77 734.44 L94.82 735.28" fill="none" stroke="#a32536" stroke-width="0.5" stroke-opacity="0.9" stroke-linejoin="round"/>
<path d="M29.88 735.12 L29.93 735.17 L31.26 734.95 L30.94 735.31 L31.77 735.97 L31.86 735.45 L32.45 734.94 L33.16 735.52 L34.14 734.66 L34.62 734.7 L34.53 735.28 L35.23 735.18 L35.97 735.16 L36.24 734.48 L36.94 734.83 L36.62 735.76 L37.72 735.13 L37.96 734.4 L38.85 735.1 L39.6 735.08 L39.76 734.63 L40.51 735.2 L41.13 735.09 L41.19 734.66 L42.15 735.44 L42.49 734.89 L42.98 735.01 L43.51 734.89 L43.83 735.71 L45.03 735.02 L44.89 734.63 L45.52 734.99 L46.12 734.9 L46.23 735.69 L47.08 734.53 L47.38 735.17 L48.43 734.91 L48.9 734.57 L48.86 733.95 L49.61 734.99 L49.91 734.21 L50.24 734.14 L50.5 733.91 L51.62 733.89 L51.68 734.91 L52.66 734.66 L52.57 734.74 L53.51 735.14 L54 734.94 L54.49 734.89 L55.14 734.88 L55.63 735.19 L55.93 735.33 L56.02 735.02 L57 735.15 L57.8 735.77 L58.18 736.35 L58.44 736.43 L59.27 735.47 L59.27 735.91 L60.44 735.97 L61.19 735.75 L60.82 734.98 L61.58 735.39 L62.06 734.34 L62.83 735.72 L63.55 734.58 L63.27 735.19 L64.05 734.72 L64.6 734.78 L64.92 734.32 L65.44 734.57 L66.04 734.55 L66.74 734.44 L67.39 734.68 L67.54 734.16 L67.67 734.6 L68.85 733.98 L69.09 734.78 L69.67 734.19 L70.62 734.93 L71.01 734.98 L71.36 734.69 L72.09 734.68 L72.02 735.16 L72.7 734.8 L73.45 734.63 L73.25 735.08 L74.64 735.33 L73.96 735.74 L75.43 734.88 L76.13 735 L76.28 734.67 L76.89 735.51 L77.12 735.32 L77.49 735.66 L78.38 735.85 L79.23 734.52 L79.56 735.29 L80.37 734.79 L80.24 735.67 L80.83 734.23 L81.34 735.33 L81.41 734.41 L82.59 735.65 L82.87 734.83 L83.24 735.46 L83.31 734.21 L84.17 735.41 L84.59 735.12 L85.26 735.2 L85.56 735.56 L86.04 735.52 L87.39 734.62 L87.67 734.59 L87.5 734.72 L87.99 735.15 L89.27 734.68 L89.12 735.01 L90.49 734.87 L90.83 735.13 L90.81 734.64 L90.97 735.13 L91.79 734.87 L92.79 734.56 L92.74 733.91 L93.3 735 L93.31 734.57 L94.2 734.35 L94.55 734.07 L95.4 733.53" fill="none" stroke="#a32536" stroke-width="0.5" stroke-opacity="0.9" stroke-linejoin="round"/>
<path d="M62.7 700.38 L62.92 700.4 L62.57 701.94 L62.15 701.56 L62.14 702.56 L62.18 702.89 L62.59 703.18 L62.32 704.18 L62.52 704.59 L63.25 705.01 L62.46 705.57 L62.7 706.49 L62.76 706.54 L62.79 707.33 L62.89 707.36 L63.1 708.35 L62.83 708.5 L62.36 709.2 L62.89 709.75 L62.57 710.22 L62.85 710.44 L63.62 711.05 L63.16 711.8 L63.64 711.92 L62.67 713.41 L62.76 713.35 L62.86 713.94 L63.7 713.59 L62.94 714.53 L62.33 715.43 L63.03 715.85 L62.76 716.23 L62.95 716.89 L63 717.33 L62.84 717.82 L63.06 718.11 L62.69 718.55 L63.08 719.16 L62.26 719.38 L62.48 720.98 L62.99 720.56 L62.47 720.99 L62.04 722.29 L63 722.24 L62.86 723.06 L62.93 723.03 L63.14 723.41 L63.02 723.71 L63.28 724.07 L63.82 725.34 L63.05 725.69 L63.43 726.38 L63.33 727.17 L63.51 727.6 L63.14 727.77 L63.04 728.58 L63.13 728.51 L62.38 729.5 L62.95 729.57 L63.13 730.51 L63.35 730.39 L62.32 731.34 L63.11 731.9 L63.05 732.42 L62.77 732.95 L62.96 733.04 L61.96 734.09 L62.6 733.49 L62.69 734.47 L62.3 734.91 L62.59 735.66 L62.33 736.12 L62.49 736.39 L62.77 737.44 L62.12 738.12 L61.86 738.09 L62.48 738.69 L63.07 738.96 L62.6 740.02 L62.1 740.71 L62.1 741.12 L63.15 741.39 L63.74 741.66 L62.64 741.98 L63.32 743.03 L62.45 743.92 L62.41 744.01 L62.2 744.47 L62.98 744.74 L63.18 745.82 L63.3 745.46 L62.5 746.4 L64.01 746.75 L63.02 747 L63 748.35 L62.12 748.28 L62.57 749.85 L62.61 749.5 L62.23 749.99 L62.15 750.54 L61.85 750.87 L62.93 751.22 L62.23 752.13 L62.1 752.88 L62.86 752.78 L62.94 753.25 L63.47 753.87 L62.55 754.61 L63.53 754.97 L62.15 755.26 L63.31 755.91 L63.51 756.37 L63.03 757.08 L63.63 757.33 L63.24 757.28 L63.25 758.26 L64.23 758.9 L62.98 760.05 L63.54 760.4 L63.89 760.73 L63.27 761.59 L64.1 761.96 L63.59 761.92 L63.52 762.26 L63.38 763.08 L63.48 763.33 L63.99 763.75 L62.97 764.38 L62.36 764.87 L62.9 765.03 L62.66 765.99 L63.15 765.96 L62.74 767.04 L62.1 767.09 L62.4 768.26 L61.78 768.81 L62.76 768.78 L62.14 769.47 L61.99 769.6" fill="none" stroke="#a32536" stroke-width="0.5" stroke-opacity="0.9" stroke-linejoin="round"/>
<path d="M63.51 700.92 L62.94 700.96 L62.55 701.63 L62.6 701.99 L62.59 702.75 L63.01 703.08 L62.78 704.27 L62.08 704.31 L62.74 704.94 L61.62 705.05 L62.86 705.6 L62.65 706.4 L62.41 706.73 L62.6 707.29 L63.06 707.51 L63.16 708.33 L63.73 708.59 L63.43 708.73 L63.65 709.8 L63.52 710.39 L63.81 711.03 L63.07 711.25 L62.94 711.98 L62.56 712.07 L63.6 712.76 L63.32 713.82 L63.05 713.89 L63.07 714.93 L62.51 714.94 L62.56 715.55 L62.76 716.49 L62.3 716.51 L62.59 716.09 L62.22 716.71 L62.85 717.11 L61.92 718.15 L62.75 718.88 L62.5 719.22 L63.11 719.49 L63.28 720.29 L62.71 720.46 L62.99 720.99 L63.06 721.85 L63.75 722.48 L64.15 722.8 L63.74 723.99 L63.62 723.83 L63.11 724.72 L63.57 724.96 L62.96 725.16 L62.89 726.02 L63.2 726.69 L63.18 726.98 L62.35 727.37 L62.26 728.38 L62.36 728.33 L62.26 729.13 L61.93 730 L63 730.06 L62.13 730.64 L63.22 730.51 L63.7 731.3 L63.75 732.08 L63.12 732.56 L63.31 732.08 L64.12 733.23 L63.62 734.04 L64.73 734.46 L63.37 735.13 L63.86 735.8 L63.83 735.74 L63.08 736.52 L62.74 737.22 L63.72 737.71 L62.7 737.84 L62.86 738.46 L62.95 739.1 L63.08 738.99 L62.48 739.65 L62.52 740.66 L61.74 740.99 L61.68 741.11 L62.93 742.07 L62.19 742.07 L62.53 743.39 L61.96 743.63 L62.66 744.2 L62.05 744.69 L63.48 744.63 L63.02 745.43 L63.15 745.82 L63.5 746.34 L63.78 746.8 L63.51 746.86 L63.38 748.12 L64.02 748.46 L63.82 749.03 L62.94 749.58 L63.42 750.09 L62.58 750.29 L62.84 750.75 L62.86 751.22 L62.51 751.63 L62.68 752.9 L63.41 753.24 L62.66 753.31 L62.53 753.69 L62.71 754.57 L62.38 755.48 L62.78 755.55 L62.73 756.59 L63.22 756.47 L63.08 757.24 L63.01 757.57 L62.74 757.94 L62.93 758.84 L62.8 758.66 L62.9 758.91 L63.57 760.11 L63.2 760.61 L63.13 760.85 L63.53 761.56 L62.95 762.35 L63.05 762.73 L63.26 762.8 L63.15 763.68 L63.15 764.57 L62.69 764.46 L62.88 765.2 L62.63 765.82 L62.59 766.55 L62.42 766.88 L63.06 767.05 L62.5 767.94 L62.53 767.67 L62.58 768.73 L62.38 769.48 L63.26 769.73 L63.11 770.31 L63.18 770.71 L63.42 771.08 L63.24 772.39 L63.07 772.45" fill="none" stroke="#a32536" stroke-width="0.5" stroke-opacity="0.9" stroke-linejoin="round"/>
<path d="M62.07 700.29 L62.43 700.74 L62.07 700.83 L62.28 701.38 L62 702.11 L62.24 702.49 L61.89 703 L63.22 703.5 L62.85 704.98 L62.61 704.49 L62.25 705.41 L62.66 705.37 L61.49 706.3 L62.11 706.75 L62.85 706.8 L62.03 708.63 L61.85 708.18 L62.4 709.05 L62.59 709.25 L61.55 709.7 L62.53 710.44 L62.67 711.08 L62.83 711.16 L62.91 711.73 L62.38 712.35 L62.4 712.59 L62.77 713.88 L63.82 713.5 L61.92 714.4 L62.91 714.53 L62.71 715.66 L62.61 716.18 L62.52 715.95 L62.36 716.85 L62.82 717.23 L61.71 718.38 L62.85 718.17 L62.05 719.02 L62.55 719.25 L62.11 720.05 L62.51 720.47 L62.38 720.52 L62.68 721.44 L62.77 722.37 L62.09 722.49 L61.88 723.1 L61.3 723.62 L61.75 724.03 L61.56 724.4 L62.86 725.34 L61.99 725.93 L62.36 726.86 L61.53 726.29 L62.15 727.51 L62.47 727.84 L62.36 727.95 L62.34 728.63 L62.6 728.93 L62.71 729.74 L62.5 730.38 L62.16 729.94 L61.95 731.24 L61.78 731.51 L62.31 731.46 L62.01 732.6 L62.43 733.23 L61.62 733.6 L61.98 734.29 L62.42 734.68 L61.93 734.89 L61.96 735.44 L62.37 736.56 L62.26 737.03 L61.87 737.19 L61.39 737.66 L62.31 738.46 L62.01 738.99 L62.52 738.82 L62.28 739.29 L61.85 740.47 L62.18 740.95 L62.84 740.89 L62.39 741.76 L63.23 742.32 L62.92 742.76 L62.99 742.99 L62.52 743.75 L63.14 743.72 L63.58 744.76 L63.01 744.77 L63.49 745.59 L62.96 746.51 L62.44 746.71 L63.31 747.23 L63.62 747.93 L62.24 748.61 L62.6 748.69 L62.41 749.5 L62.69 749.77 L62.94 750.54 L62.75 750.98 L62.7 751.71 L62.14 751.49 L62.25 751.81 L62.26 753.07 L62.39 753.24 L61.95 753.26 L61.32 754.46 L61.83 754.66 L62 754.81 L62.28 755.92 L61.83 756.22 L62.36 757.13 L62.22 757.27 L61.4 757.99 L61.73 758.04 L62.54 759.22 L61.85 759.87 L62.68 760 L62.36 760.09 L62.22 761.12 L62.33 761.73 L61.82 761.73 L62.67 762.67 L61.66 762.99 L61.87 763.28 L61.71 763.42 L61.44 764.58 L62.18 764.59 L62.5 765.92 L61.69 765.68 L61.99 766.45 L62.23 767.09 L61.11 767.42 L62.36 767.91 L62.15 768.4 L62.85 768.41 L62.26 769.53 L61.59 770.11 L62.88 770.46 L61.56 770.66 L62.15 771.58 L63.03 772.13 L62.82 772.87 L62.28 772.98" fill="none" stroke="#a32536" stroke-width="0.5" stroke-opacity="0.9" stroke-linejoin="round"/>
<path d="M62.32 695.96 L61.99 696.77 L62.07 697.15 L63.4 698.13 L61.95 698.12 L63.08 698.8 L62.56 698.86 L62.09 699.49 L62.6 700.7 L62.41 700.71 L62.62 701.13 L63.18 701.41 L63.32 701.97 L62.39 702.99 L63.24 703.5 L63.86 703.9 L63.76 704.14 L63.03 704.58 L63.13 704.99 L63.72 705.35 L63.6 706.5 L63.42 706.52 L64.2 707.32 L63.59 707.42 L63.45 707.87 L63.51 709.02 L63.75 709.09 L63.36 710.16 L63.56 709.9 L62.56 711.06 L63.06 711.73 L62.75 712.12 L63.06 712.9 L62.33 713.31 L63.22 712.63 L62.28 713.84 L62 714.96 L62.66 715.04 L62.77 715.35 L62.72 715.89 L63.37 716.3 L62.74 716.73 L62.4 717.62 L62.32 717.68 L62.99 718.98 L62.99 719.23 L62.16 719.55 L62.75 719.91 L63.17 720.19 L63.11 720.44 L63.01 721.57 L62.45 722.18 L63.26 722.52 L63.09 723.09 L63.45 723.28 L63.26 724.49 L62.71 725.19 L63.07 725.45 L63.53 726.2 L62.97 726.21 L64.22 727.13 L63.83 727.1 L63.35 727.6 L63.12 728.37 L63.51 728.45 L63.18 729.09 L63.23 729.83 L63.78 730 L63.57 730.54 L62.92 731.84 L63.14 731.45 L62.89 732.55 L62.93 732.99 L63 733.53 L63.01 733.67 L62.92 734.22 L62.03 734.92 L63.17 735.38 L63.24 735.67 L63.25 736.22 L63.02 736.49 L62.54 737.45 L63.79 737.46 L63.46 737.9 L63.7 738.53 L62.6 739.12 L62.72 740.16 L62.81 739.95 L62.63 740.78 L62.88 740.62 L63.04 741.39 L63.5 742.95 L63.52 742.97 L64.09 743.56 L63.18 743.6 L63.11 744.24 L63.68 744.48 L63.36 745.65 L63.31 746.25 L63.32 746.11 L63.15 746.52 L62.93 747.4 L63.31 747.5 L63.27 748.02 L62.56 749.37 L62.65 749.9 L62.27 749.53 L62.37 749.94 L62.89 750.63 L62.61 751.14 L62.64 751.81 L62.68 752.78 L62.39 752.84 L62.08 753.08 L62.62 754.07 L62.2 754.33 L62.14 754.8 L62.53 755.45 L62.94 755.87 L62.7 756.5 L62.48 757.04 L62.91 757.14 L62.75 757.62 L63.21 757.77 L62.96 758.31 L62.89 758.92 L62.56 760.52 L63.71 760.46 L63.65 760.88 L63.37 761.78 L63.1 762.37 L63.47 762.87 L63.76 762.93 L63.62 763.28 L63.37 764.17 L63.46 764.52 L64.45 765.32 L63.81 765.42 L64.04 766.08 L62.95 766.68 L62.71 767.25 L63.37 767.56 L63.69 767.98 L63.48 768.45 L62.95 769.01 L63.22 769.56 L63.21 770.06" fill="none" stroke="#a32536" stroke-width="0.5" stroke-opacity="0.9" stroke-linejoin="round"/>
<path d="M62.66 734.25 L61.49 732.7 L60.03 732.62 L59 731.11 L59 731.23 L60.1 730.53 L62.27 730.4 L62.91 730.4 L64.98 730.5 L64.05 731.32 L63.84 732.5 L65.53 732.22 L65.9 731.05 L64.77 731.31 L64.87 731.45 L65.9 732.28 L65.9 731.96 L65 733.33 L64.4 733.61 L64.37 734.02 L64.44 734.07 L65.34 733.67 L65.9 734.31 L65.63 734.14 L65.21 733.62 L65.9 732.79 L65.9 733.06 L63.85 733.66 L65.01 735.65 L64.94 734.57 L65.59 733.98 L65.21 736.63 L65.09 735.68 L65.22 736.24 L64.18 736.09 L63.31 735.3 L62.79 733.77 L63.48 735.19 L62.84 736.09 L62.79 736.32 L63.11 735.19 L61.45 734.47 L63.12 734.7 L62.53 732.94 L63.71 731.43 L64.63 731.9 L65.9 731.8 L65.04 733.69 L65.9 732.73 L65.84 735.91 L65.72 736.51 L65.08 736.42 L65.69 735.89 L65.9 737.75 L65.82 735.98 L65.9 735.34 L65.9 735.6 L63.91 737.36 L63.29 736.67 L62.17 737.76" fill="none" stroke="#a32536" stroke-width="0.5" stroke-opacity="0.9" stroke-linejoin="round"/>
<rect x="57.6" y="686.6" width="9.7" height="95.4" fill="none" stroke="#111" stroke-width="1.6"/>
<rect x="19.7" y="729.5" width="85.8" height="10" fill="none" stroke="#24365e" stroke-width="1.6"/>
<circle cx="69.7" cy="733.4" r="1.2" fill="#1010ee"/>
<circle cx="96.4" cy="736" r="1.2" fill="#e02020"/>
<path d="M124.69 736.95 L126.08 737.37 L126.08 737.27 L127.28 737.31 L127.24 737 L128.22 736.89 L127.79 737.76 L128.05 738.31 L129.15 738.04 L129.72 738.37 L129.97 738.6 L130.7 738.53 L131.21 738.78 L131.36 738.55 L132.06 738.12 L133.21 738.1 L133.06 738.13 L133.18 738.29 L134.15 737.53 L134.72 737.81 L135.19 738.24 L136.18 737.96 L136.3 737.8 L136.64 736.88 L137.83 737.48 L137.75 737.05 L138.62 736.97 L138.51 737.26 L139.2 736.87 L139.62 736.72 L140.73 736.21 L140.86 737.11 L141.31 736.26 L142.09 736.78 L142.57 736.86 L142.97 736.89 L143.41 737.22 L144.17 736.8 L144.78 737.04 L144.58 737.27 L146.13 736.94 L145.78 737.14 L146.1 737.2 L147.12 737.25 L147.61 737.9 L148.17 737.07 L148.46 737.07 L149.3 737.44 L149.9 737.29 L150.61 737.34 L151.05 737.97 L151.07 737.83 L151.97 736.9 L152.1 737.74 L152.8 737.65 L152.82 737.1 L153.34 737.98 L154.64 737.33 L154.83 737.56 L155.25 737.12 L155.84 736.41 L156.57 737.25 L157.46 737.91 L157.24 737.17 L158.28 737.22 L158.64 737.82" fill="none" stroke="#2f8fba" stroke-width="0.5" stroke-opacity="0.9" stroke-linejoin="round"/>
<path d="M128.1 736.68 L128.48 736.63 L128.98 736.32 L129.55 736.73 L130.01 736.75 L130.67 737 L131.52 736.64 L131.35 736.93 L132.69 736.81 L132.72 736.63 L132.93 737.24 L133.04 737.66 L133.82 737.14 L134.52 737.73 L135.51 737.79 L135.43 737.37 L136.28 737.86 L136.75 737.28 L137.48 737.4 L137.67 737.43 L138.04 737.8 L138.76 737.82 L139.82 737.45 L139.51 737.58 L139.96 736.98 L140.1 737.46 L141.17 737.34 L142.02 737.17 L142.2 736.66 L142.87 737.31 L143.14 737.68 L143.92 737.43 L144.07 737.44 L145.3 736.74 L145.6 737.3 L146.04 736.96 L146.12 737.56 L146.75 736.68 L147.51 737.34 L148.17 736.85 L148.89 736.64 L149.11 737.64 L149.44 736.74 L149.57 737.77 L150.56 736.62 L151.04 736.72 L151.33 736.9 L151.93 737.63 L152.42 736.81 L153.24 736.33 L153.89 736.59 L154.36 736.74 L154.55 736.97 L155.06 736.38 L155.28 737.09 L156.01 736.59 L156.7 736.52 L157.57 736.87 L157.64 736.89 L158.28 737.11" fill="none" stroke="#2f8fba" stroke-width="0.5" stroke-opacity="0.9" stroke-linejoin="round"/>
<path d="M127.81 736.71 L127.95 736.95 L128.45 736.87 L129.4 736.38 L129.01 736.22 L129.91 736.26 L130.78 736.04 L131.11 736.52 L131.84 737.27 L132.04 736.82 L132.42 737.75 L132.96 737.61 L133.57 737.33 L134.26 737.36 L134.7 736.73 L136 737.3 L136.1 738.32 L136.21 738.16 L137.02 737.25 L137.47 738.06 L137.84 737.31 L138.24 737.71 L138.98 736.44 L139.26 736.98 L140.17 735.72 L140.3 736.6 L141.52 736.43 L141.34 736.57 L141.51 737.23 L142.26 736.35 L142.86 736.29 L143.81 736.97 L143.62 736.94 L144 737.04 L145.35 737.65 L145.69 737.54 L145.93 737.5 L146.39 737.07 L146.94 736.8 L147.69 736.48 L148.5 737.51 L148.88 736.8 L149.77 737.43 L149.53 737.57 L149.71 737.96 L150.89 737.67 L151.45 737.59 L151.22 737.8 L152.09 737.9 L152.88 737.37 L153.36 737.5 L153.67 737.58 L154.23 736.91" fill="none" stroke="#2f8fba" stroke-width="0.5" stroke-opacity="0.9" stroke-linejoin="round"/>
<path d="M156.58 704.46 L157.4 704.82 L156.94 704.91 L156.36 706.37 L156.58 706.19 L156.22 706.72 L157.7 707.51 L156.54 708.33 L156.7 708.57 L156.56 708.53 L156.67 709.66 L156.43 710.22 L156.76 710.34 L156.34 710.67 L157.99 711.28 L156.53 712.04 L156.8 712.3 L157.14 712.87 L156.86 713.41 L156.86 713.51 L157.45 714.52 L156.57 715.24 L156.57 715 L156.68 716.16 L156.6 716.64 L156.09 716.71 L156.12 717.77 L155.57 718.26 L156.5 718.89 L155.95 719.05 L155.54 720.21 L156.03 720.03 L156.27 720.34 L155.98 721.76 L155.42 721.41 L156.54 722.04 L157.17 722.35 L155.99 723.17 L155.47 723.87 L156.61 724.06 L156.89 724.86 L157.27 725.77 L157.26 725.54 L156.67 725.63 L156.6 726.92 L157.23 727.11 L158.12 727.82 L157.41 728.08 L156.78 728.73 L156.93 729.36 L156.74 729.44 L157.14 730.01 L156.84 730.81 L157.19 731.31 L156.92 731.46 L157.55 732.57 L156.38 732.38 L157.35 733.18 L157.28 733.84 L156.83 734.06 L156.72 734.85 L157.17 735.24 L157.19 735.64 L157.4 736.55 L156.59 736.68 L156.73 737.09 L156.26 738.06 L156.46 737.92 L156.44 738.1 L156.34 739.46 L156.75 740.59 L156.47 740.49 L156.32 741.18 L156.32 741.31 L156.42 741.42 L156.01 742.6 L156.49 742.66 L155.9 743.1 L155.92 744.09 L156.21 744.36 L156.18 744.41 L155.61 744.77 L157.08 745.5 L156.11 746.61 L156.75 747.01 L156.9 747.26 L156.66 747.89 L157.01 748.38 L157.27 749.06 L156.66 749.48 L156.87 749.67 L158.18 750.14 L156.8 751.46 L157.69 751.32 L157.17 752.1 L157.74 752.38 L156.92 753.12 L157.67 753.15 L157.06 754.04 L157.72 754.7 L157.25 754.99 L156.99 755.82 L156.82 756.04 L157.35 756.21 L156.46 756.87 L156.35 757.7 L156.59 757.92 L156.35 758.6 L155.99 759.1 L156.59 759.63 L157.11 760.54 L157.25 760.56 L156.27 760.46 L156.07 761.51 L157.13 762.6 L156.24 762.55 L156.58 762.77 L156.34 763.88 L156.97 764.07 L157.17 764.65 L156.32 764.89 L156.63 765.45 L156.36 766.33 L155.99 766.78 L157.33 767.18 L156.37 767.82 L156.95 767.59 L156.5 768.91 L157.41 769.36 L155.89 769.65" fill="none" stroke="#2f8fba" stroke-width="0.5" stroke-opacity="0.9" stroke-linejoin="round"/>
<path d="M156.81 704.03 L156.86 704.55 L157 705.03 L156.8 705.88 L157.07 706.4 L157.56 706.19 L157.43 707.47 L157.36 707.92 L156.98 708.48 L157.15 708.74 L157.58 709.02 L157.15 709.94 L156.62 710.31 L156.57 710.4 L155.87 711.79 L156.25 711.96 L156.41 711.92 L156.96 713.05 L156.94 713.26 L157.01 713.79 L157.48 714.14 L157.71 715.13 L158.07 714.81 L158.6 715.88 L158 716.23 L157.83 717.65 L157.95 717.37 L158.11 717.6 L158.05 718.79 L157.81 718.89 L157.5 719.14 L156.68 719.94 L157.19 720.4 L157.01 721.45 L156.8 721.51 L156.43 721.77 L157.26 722.77 L156.9 722.63 L156.41 723.37 L156.39 724.38 L157.52 725.16 L156.45 724.82 L157.33 725.07 L157.19 725.9 L156.49 726.54 L156.54 726.9 L157.29 727.19 L156.47 727.98 L156.41 728.9 L157.01 729.23 L157.41 729.49 L157.42 730 L157.53 730.91 L158.21 730.88 L157.48 731.49 L157.73 731.99 L157.32 732.69 L157.69 733.28 L158.12 733.85 L157.2 734.18 L157.21 734.82 L157.24 735.79 L156.99 735.69 L157 735.88 L156.61 736.98 L157.13 737.56 L157.21 737.39 L157 738.34 L157.16 739.06 L157.32 738.94 L156.6 739.41 L157.28 740.41 L157.37 740.87 L157.33 741.81 L157.02 741.51 L156.7 742.09 L156.92 742.43 L156.84 743.27 L156.7 743.62 L156.48 744.18 L157.25 744.6 L156.99 745.22 L157.5 745.57 L157.71 746.52 L157.42 746.37 L158.34 747.38 L157.78 747.75 L158.19 748.33 L158.24 748.42 L157.84 749.45 L156.75 749.37 L157.53 749.7 L157.5 750.85 L157.1 751.15 L156.17 752.07 L156.03 752.47 L157.33 752.58 L157.25 753.18 L157.14 753.85 L156.76 754.39 L157.57 754.86 L157.1 755.83 L157.25 755.63 L157.15 756.2 L156.65 756.73 L157.87 757.85 L156.42 758.55 L157.19 758.47 L157.2 758.82 L156.92 759.69 L157.45 759.97 L156.78 760.22 L157.14 761.12 L157.72 761.56 L157.68 761.07 L157.39 761.9 L157.49 763.14 L158.22 763.74 L157.77 763.9 L157.74 764.74 L156.89 764.85 L157.34 765.24 L157.37 765.47 L157.42 766.99 L157.39 766.79 L157.1 767.36 L156.85 767.83 L157.09 768.66 L155.97 769.25 L156.81 769.64 L157.17 769.8 L157.22 770.5 L157.19 770.82 L157.31 771.71 L157.74 771.96 L157.31 772.24 L157.74 772.97 L157.01 773.73 L157.21 774.32 L157.35 774.3" fill="none" stroke="#2f8fba" stroke-width="0.5" stroke-opacity="0.9" stroke-linejoin="round"/>
<path d="M156.48 701.51 L157.32 701.99 L156.61 702.43 L156.76 702.82 L157.15 703.73 L157.61 703.86 L156.68 704.57 L158.48 704.96 L157.36 705.43 L157.2 705.33 L157.46 707 L157.15 706.83 L157.15 707.26 L157.32 707.7 L157 708.2 L157.68 708.91 L157.41 709.77 L156.58 709.7 L156.88 710.1 L157.69 711.34 L157.26 711.39 L156.78 711.52 L157.51 712.68 L156.9 712.62 L156.96 713.19 L156.5 714.11 L156.71 714.4 L156.61 714.88 L157.01 715.43 L155.92 715.97 L156.39 716.72 L156.69 716.09 L156.66 717.42 L156.97 718.06 L156.83 718.59 L156.59 718.5 L156.28 719.64 L156.56 720.05 L156.49 720.81 L157.05 721.43 L155.74 721.51 L156.8 722.25 L156.42 722.93 L156.24 723.38 L157.7 723.59 L156.96 723.94 L158.19 724.25 L156.91 724.88 L156.65 725.84 L157.87 725.7 L157.03 726.37 L157.44 727.06 L157.23 727.78 L157.71 728 L157.03 728.22 L157.55 728.68 L157.2 729.3 L157.1 730.02 L157.95 730.8 L157.22 731.4 L156.7 731.24 L157.52 732.36 L157.2 732.35 L156.98 732.93 L156.98 733.77 L157.32 734.28 L156.43 734.44 L157.53 735.28 L157.04 735.85 L156.43 736.04 L156.98 736.59 L156.22 737.13 L156.41 737.74 L156.52 738.16 L156.27 738.71 L156.46 739.64 L156.82 740.05 L156.53 739.98 L156.92 741.08 L156.45 741.06 L155.9 742.07 L156.54 741.83 L156.91 743.07 L155.87 742.63 L156.61 744.35 L156.64 744.04 L156.47 744.87 L156.42 745.4 L157.53 745.62 L155.91 746.25 L157.38 746.34 L156.13 747.12 L157.26 747.21 L157.19 748.33 L157.03 749.16 L157.52 749.09 L156.69 750.48 L156.09 750.33 L157.3 750.84 L156.61 751.7 L157.23 751.91 L157.25 752.08 L156.44 752.52 L157.2 754 L157.06 753.63 L156.48 754.28 L156.51 755.05 L156.89 755 L157.22 755.94 L157.25 756.73 L156.66 756.62 L157.11 757.09 L157.34 758.22 L156.86 759.19 L157.01 758.6 L156.78 759.45 L157.21 759.89 L156.49 760.24 L156.29 760.99 L157.18 761.07 L156.2 761.69 L157.66 762.27 L156.94 762.97 L156.55 763.95 L157.66 763.97 L157.21 764.53 L156.93 765.1 L156.6 765.83 L156.88 766.47 L156.85 766.74 L156.52 767.05 L157.2 767.52 L157.37 767.61 L156.93 768.01 L157.08 768.71 L157.21 769.56" fill="none" stroke="#2f8fba" stroke-width="0.5" stroke-opacity="0.9" stroke-linejoin="round"/>
<path d="M157.59 739.93 L157.49 738.91 L157.2 738.12 L158.46 737.19 L158.65 736.89 L158.15 738.43 L156.54 737.54 L156.55 738.41 L157.47 738.62 L157.33 738.88 L157.66 737.97 L159.25 739.11 L158.91 739.84 L159.59 740.76 L158.09 739.59 L157.52 740.17 L157.96 740.22 L156.91 740.85 L158.3 740.9 L158.16 740.9 L156.71 740.9 L156.66 740.9 L158.16 739.69 L159.4 740.14 L160.1 740.12 L160.1 739.2 L159.68 740.85 L159.36 739.22 L159.37 739.4 L159.63 739.54 L160.1 737.8 L159.13 735.54 L157.9 735.13 L157.04 734.54 L156.6 734.25 L157.23 733.99 L156.53 734.42 L157.01 735.3 L155.47 733.55 L155.59 733 L156.37 733.33 L158 733.11 L158.47 733 L157.51 733.84 L155.56 733 L153.85 735.13 L153.7 734.92 L153.7 735.69 L153.7 734.88 L153.7 735.46 L153.81 737.1 L154.02 736.27 L153.89 734.16 L154.93 735.39 L155.68 735.74 L155.7 736.51 L157.06 737.32 L157.84 736.28 L156.86 735.7 L156.69 735.61" fill="none" stroke="#2f8fba" stroke-width="0.5" stroke-opacity="0.9" stroke-linejoin="round"/>
<rect x="152.3" y="688.7" width="9.2" height="96.2" fill="none" stroke="#111" stroke-width="1.6"/>
<rect x="114.3" y="732.1" width="85.5" height="9.7" fill="none" stroke="#24365e" stroke-width="1.6"/>
<circle cx="156.5" cy="716.4" r="1.2" fill="#1010ee"/>
<path d="M31.48 846.22 L32.24 846.94 L33.02 845.8 L33.6 846.19 L33.81 846.54 L34.23 847.15 L34.65 847.22 L34.68 846.38 L35.03 846.17 L35.95 846.97 L36.53 846.71 L37.51 846.91 L37.31 845.83 L38.09 846.31 L39.13 846.28 L39.12 847.05 L39.5 846.41 L39.97 846.4 L40.43 847.1 L41.44 846.27 L41.5 846.12 L42.27 846.64 L42.56 846.64 L42.98 846.19 L43.64 846.58 L44.27 846.71 L45.03 846.96 L45.42 846.62 L46.01 846.39 L46.44 846.15 L46.89 846.61 L47.29 846.73 L47.9 846.18 L48.3 846.38 L49.08 846.76 L49.56 845.85 L49.57 845.86 L50.4 846.98 L51 845.85 L51.32 846.42 L51.39 846.01 L52.6 846.77 L52.73 846.58 L53.26 846.19 L53.47 845.67 L54.24 846.01 L54.66 846.11 L55.97 846.19 L55.64 845.37 L56.49 846.47 L56.17 846.67 L57.33 845.75 L57.86 847.59 L58.1 846.58 L59.23 846.52 L59.27 847.09 L60.19 846.77 L60.13 846.35 L60.93 847.3 L61.63 847.36 L61.64 846.32 L62.57 846.79 L62.86 847.31 L63.68 846.25 L64.22 846.25 L64.67 846.78 L64.94 846.62 L65.48 845.75 L65.83 846.7 L66.6 846.63 L67.5 845.49 L67.31 846.11 L67.92 846.45 L68.8 846.1 L69.02 845.96 L69.42 845.78 L70.13 846.31 L71.28 846.05 L71.01 847.08 L71.81 846.62 L72.04 846.97 L72.94 846.72 L73.68 846.74 L73.25 847.42 L74.23 846.6 L74.98 846.84 L75.44 847.28 L75.78 846.4 L76.97 846.14 L76.66 846.69 L76.93 847.01 L77.74 846.31 L77.96 846.52 L78.65 846.24 L79.09 845.57 L79.95 846.26 L79.87 846.43 L80.74 846.15 L81.41 845.67 L81.4 846.23 L82.16 845.77 L82.31 847.02 L84.01 846.24 L83.07 846.32 L84.65 846.34 L85.13 846.08 L85 845.7 L85.88 846.68 L86.18 846.84 L86.9 846.85 L87.36 846.87 L87.76 846.61 L89.06 846.37 L88.62 847.19 L88.9 846.36 L89.42 846.42 L90.29 846.16 L90.95 845.91 L91.33 847.27 L92.94 846.71" fill="none" stroke="#a32536" stroke-width="0.5" stroke-opacity="0.9" stroke-linejoin="round"/>
<path d="M31.45 845.92 L32.17 845.32 L32.05 846.14 L32.88 845.89 L33.89 846.45 L33.56 845.57 L34.25 846.65 L35.01 846.68 L35.44 846.54 L36.13 846.61 L36.25 846.47 L36.76 845.97 L37.07 846.53 L37.94 847.42 L38.69 847.21 L38.86 846.58 L39.82 847.34 L39.61 846.8 L40.44 846.11 L40.8 846.56 L41.13 846.22 L42.08 846.78 L42.49 845.92 L43.07 846.18 L43.57 846.63 L43.83 846.05 L45.01 846.29 L44.91 846.71 L45.38 846.37 L46.01 845.86 L46.41 846.94 L46.9 846.25 L47.56 845.97 L47.85 845.94 L48.23 846.15 L49.23 846.62 L49.43 845.94 L49.78 846.45 L50.14 846.33 L51.29 846.08 L51.1 846.27 L51.86 846.06 L53.02 845.95 L52.8 846.08 L53.87 846.64 L53.99 845.91 L54.3 846.03 L55.35 845.97 L55.5 846.34 L56.14 847.69 L56.59 846.59 L57.16 847.26 L58.27 847.11 L57.93 846.55 L58.25 847.23 L59.13 846.89 L59.7 846.3 L59.62 846.61 L61.4 846.58 L61.45 847.09 L61.56 846.64 L62.32 846.2 L62.92 846.05 L62.75 846.05 L63.84 846.5 L63.91 847.21 L64.95 846.36 L65.24 846.62 L65.49 846.99 L66.36 846.52 L66.74 846.22 L67.42 847.14 L67.38 845.93 L67.98 846.32 L68.86 845.38 L69.62 846.16 L69.33 845.82 L70.14 846.13 L70.82 846.07 L71.73 846.2 L72.29 845.81 L72.31 846.58 L71.91 845.87 L73.1 846.49 L73.7 846.07 L74.67 846.81 L74.94 845.93 L75.4 846.48 L75.63 846.93 L77.03 846.63 L76.49 846.45 L77.51 846.76 L77.4 846.75 L78.56 846.9 L78.76 846.88 L79.65 847.13 L80.02 846.71 L80.54 847.02 L81.17 846.09 L81.43 846.64 L81.58 846.46 L81.94 846.96 L82.57 847.39 L83.65 847.16 L84.03 846.67 L84.34 846.72 L84.52 846.63 L85.76 846.1 L85.61 846.43 L86.09 846.11 L86.75 846.24 L87.3 846.47 L88.02 846.61 L88.31 846.12 L88.39 845.73 L89.72 846 L90.38 845.93 L90.9 845.82 L90.42 846.22 L91.54 845.76 L92.23 846.45 L92.24 846.15 L92.64 847.33 L93.78 846.22" fill="none" stroke="#a32536" stroke-width="0.5" stroke-opacity="0.9" stroke-linejoin="round"/>
<path d="M28.91 846.69 L29.86 846.82 L30.23 846.76 L30.83 846.53 L31.24 845.62 L31.54 846.92 L32.43 846.22 L32.21 845.97 L32.95 845.67 L33.14 846.13 L34.29 846.32 L34.46 846.52 L35.36 846.21 L35.47 847.33 L36.36 846.33 L36.79 846.55 L37.37 847.15 L37.49 845.66 L37.74 847.19 L38.92 846.82 L39.37 848.14 L39.45 846.61 L40.49 847.51 L41.08 847.38 L40.61 847.84 L42.04 847.21 L42.24 847.21 L43.06 847.34 L42.93 847.36 L44.59 846.98 L43.82 847.68 L45.16 846.7 L45.1 846.95 L45.92 847.15 L46.38 847.2 L47.5 846.93 L47.63 846.95 L47.81 846.9 L48.09 846.77 L48.46 846.43 L49.56 846.38 L49.7 847.26 L50.75 846.81 L51.45 846.83 L50.9 847.45 L52.01 847.38 L51.87 847.48 L52.78 846.11 L53.44 847.31 L53.73 847.09 L54.51 847.05 L54.43 847.24 L55.39 847.26 L55.62 847.05 L56.23 846.88 L56.8 847.1 L57.32 846.11 L58.33 846.74 L58 847.11 L59 847.51 L59.84 847.34 L59.86 846.71 L60.16 846.29 L61.07 847.2 L61.79 847.01 L61.88 847.05 L62.64 846.66 L62.56 846.7 L63.28 846.83 L63.77 846.5 L64.56 846.85 L64.68 847.26 L65.33 847.35 L66.46 847.36 L66.1 846.73 L67.06 846.89 L67.78 846.87 L68.31 846.94 L68.74 846.88 L68.98 846.55 L69.83 846.09 L69.98 846.84 L70.51 846.93 L70.77 846.63 L71.4 846.7 L72.16 846.17 L72.37 845.99 L73.35 846.2 L73.91 846.71 L74.45 846.65 L74.45 846.85 L74.76 846.66 L76.24 846.17 L76.69 847.16 L76.79 846.77 L77.33 847.13 L77.79 847.24 L77.96 846.67 L78.24 846.97 L79.72 846.18 L79.67 847.14 L80.39 846.84 L80.13 846.86 L81.1 847.53 L81.65 846.94 L81.74 846.93 L82.83 846.64 L83.85 847.14 L84.08 846.37 L84.2 846.82 L84.59 847.19 L84.69 846.42 L85.85 846.3 L86.61 847.26 L86.55 846.75 L87.72 846.93 L88.11 847.29 L87.86 846.91 L88.98 847.1 L90 846.3 L89.74 846.62 L90.18 847.02 L90.85 846.24 L91.06 847.59 L91.74 847.02 L92.84 846.81 L92.77 847.59 L93.69 846.75 L94.08 846.53 L94.23 847.25 L95.22 846.62 L95.19 847.1 L95.55 846.11 L96 846.61 L96.25 846.23 L97.48 847" fill="none" stroke="#a32536" stroke-width="0.5" stroke-opacity="0.9" stroke-linejoin="round"/>
<path d="M29.17 846.62 L29.76 847.06 L30.14 846.5 L30.58 847.2 L31.03 846.96 L31.42 847.07 L31.59 846.52 L32.29 847.39 L33 846.91 L33.27 847.57 L34.54 847.02 L34.59 846.66 L35.31 846.36 L35.15 846.68 L36.14 846.31 L36.68 846.53 L37.46 846.3 L37.41 845.73 L38.33 846.16 L38.81 846.21 L38.99 846.3 L39.85 846.72 L39.96 846.97 L40.58 846.9 L41.29 847.2 L42.16 846.61 L41.96 847.18 L42.95 846.8 L43.04 847.24 L44.05 846.95 L44.16 846.42 L44.65 847.08 L45.03 846.92 L45.64 846.97 L46.08 847.38 L47.32 847.05 L47.31 847.18 L47.67 846.84 L48.39 846.16 L49.45 846.63 L49.22 846.31 L49.66 846.06 L50.5 845.96 L50.94 846.68 L51.11 845.95 L52.35 846.41 L52.2 846.95 L52.6 846.39 L53.43 846.75 L53.92 846.87 L54.13 847.1 L55 847.73 L55.29 846.72 L55.4 846.99 L55.88 847.13 L56.97 846.93 L57.85 846.57 L57.69 846.67 L58.01 846.86 L58.5 846.79 L59.36 846.05 L59.9 846.87 L60.41 846.05 L60.67 846.52 L61.8 846.3 L62.23 845.73 L62.36 846.42 L62.81 846.21 L63.64 846.01 L63.63 847.35 L64.34 847.23 L65.17 847.34 L65.86 846.86 L65.69 848.16 L66.08 846.83 L66.93 846.85 L67.53 846.67 L68.1 846.9 L68.37 847.02 L68.68 847.23 L69.21 846.08 L70.23 846.2 L70.33 846.79 L71.72 846.68 L71.36 846.99 L72.6 846.81 L72.89 848.1 L73.07 846.99 L72.98 847.27 L73.84 848.03 L74.23 847.36 L75.1 846.6 L75.97 846.68 L76 846.59 L76.09 846.58 L77.1 846.11 L77.26 846.21 L78.04 846.53 L78.8 846 L78.55 846.1 L79.35 845.69 L80.06 846.28 L80.65 846.11 L81.58 846.76 L81.61 846.56 L81.69 846.99 L83.18 847.17 L82.98 847.57 L83.44 847.73 L84.3 846.68 L84.43 847.03 L85.17 846.7 L85.88 846.81 L86.44 847.68 L86.74 846.86 L87.34 847.17 L88.29 846.91 L88.41 846.35 L88.76 845.59 L89.63 846.08 L90.02 845.68 L90.78 846.45 L90.89 846.14 L91.43 846.32 L91.61 846.5 L92.34 847.13 L93.14 847.12 L93.73 846.51 L93.99 847.29 L94.05 847.15 L95.33 846.86 L95.61 847.05" fill="none" stroke="#a32536" stroke-width="0.5" stroke-opacity="0.9" stroke-linejoin="round"/>
<path d="M62.98 810.24 L62.03 810.79 L62.8 810.94 L63 811.82 L63.14 812.7 L62.37 812.95 L62.93 813.1 L62.53 813.52 L63.05 814.51 L63.03 814.84 L63.2 815.6 L62.51 816.34 L63.86 816.26 L63.4 816.95 L63.74 817.65 L63.45 818.13 L62.77 818.54 L63.49 818.86 L62.91 819.99 L63.16 819.95 L63.67 820.45 L63.29 820.92 L63.7 822.12 L63.66 821.91 L63.3 822.66 L63.77 822.9 L63.37 823.39 L63.34 824.32 L63.33 824.34 L63.89 824.67 L63.48 825.55 L63.83 826.23 L62.38 825.98 L63.32 827.05 L62.71 827.66 L62.77 827.96 L62.26 829.09 L63.01 828.55 L63 829.85 L61.87 829.83 L62.68 830.3 L62.5 831.14 L62.1 831.73 L62.19 832.51 L63.06 832.74 L62.84 833.08 L62.52 833.86 L63.08 834.1 L64.26 833.98 L62.84 835.04 L63.04 835.4 L64.21 836.11 L63.69 836.14 L63.54 836.62 L63.85 838.04 L63.02 838.03 L63.67 838.31 L63.87 838.54 L63.07 839.45 L63.49 840.68 L62.16 840.94 L63.69 841.24 L63.11 841.7 L63.55 842.6 L63.23 843.21 L63.18 842.86 L63.48 843.57 L64.19 844.29 L63.25 844.25 L63.81 844.91 L62.87 845.56 L63.81 846.04 L62.87 846.9 L63.12 847.33 L62.78 847.6 L62.6 848.33 L62.85 848.64 L63.21 849.69 L62.85 849.76 L63.03 850.4 L63.46 850.73 L63.08 851.17 L62.81 852.04 L63.88 852.23 L62.7 852.46 L63.16 853.47 L63.28 853.62 L63.35 855.01 L63.32 854.57 L62.99 855.18 L62.21 856.1 L62.44 856.28 L62.84 856.92 L62.72 857.86 L63.11 857.79 L63.03 858.85 L62.77 859 L62.94 859.23 L62.24 859.52 L62.46 860.46 L62.21 860.8 L63.26 861.4 L63.6 862.61 L62.6 862.49 L63.29 862.65 L63.61 863.33 L63.07 863.56 L63.88 863.75 L63.26 864.65 L64.44 865.71 L64.03 865.56 L63.58 866.27 L63.76 867.06 L63.5 867.8 L63.83 867.82 L63.44 868.56 L63.82 869.1 L63.49 869.22 L63.27 869.68 L63.56 870.39 L62.82 871.15 L63.25 871.36 L63.49 871.53 L63.38 872.7 L63.41 873.45 L62.83 873.56 L62.48 873.6 L62.7 874.3 L62.66 874.86 L62.79 875.44 L62.78 876.23 L62.65 876.32 L63.05 876.85 L62.82 877.69 L62.99 877.79 L62.77 878.18 L62.97 879.13 L63.1 879.78 L62.95 880.38 L63.1 880.52 L63.35 880.92 L63.18 882.39 L63.61 882.27 L62.87 882.85 L63.05 883.58 L64.11 883.95 L63.22 884.18 L63.75 884.93 L63.5 885.17 L63.43 885.61 L62.77 886.29 L63.17 886.79 L63.16 887.14" fill="none" stroke="#a32536" stroke-width="0.5" stroke-opacity="0.9" stroke-linejoin="round"/>
<path d="M62.72 814.91 L63.07 814.74 L62.71 815.33 L63.16 816.26 L63.82 816.64 L62.81 817.33 L63.02 817.91 L62.69 818.15 L62.32 818.41 L62.53 819.58 L62.58 819.5 L63.73 820.26 L62.52 820.54 L62.98 821.36 L63.3 821.35 L63.62 821.77 L63.04 821.93 L63.18 823.49 L63.24 823.63 L63.13 823.83 L62.18 824.57 L62.81 825.48 L62.54 825.59 L62.62 825.94 L62.94 826.61 L61.79 827.62 L62.91 827.57 L62.92 827.89 L63.4 828.86 L63.51 829.33 L63.8 829.62 L63.05 830.26 L62.82 830.89 L63.11 831.64 L62.87 831.6 L63.29 831.65 L62.34 832.89 L62.63 834.13 L62.12 834.25 L61.66 834.24 L61.62 834.82 L62.38 835.29 L62.77 836.06 L63.44 836.51 L63.7 837.16 L63.5 837.23 L63.12 837.94 L62.91 838.54 L62.32 839.14 L62.46 839.29 L63.29 839.65 L62.8 840.44 L62.98 840.63 L62.94 841.18 L62.05 842.1 L63.3 842.27 L63.41 842.36 L63.37 843.18 L63.38 843.27 L63.41 844.07 L63.99 845.03 L63.04 845.2 L63.36 845.98 L63.76 846.58 L63.27 846.69 L62.68 847.23 L62.74 848.12 L62.64 848.34 L62.81 848.36 L63.12 848.51 L62.49 849.24 L62.42 850.51 L62.82 850.93 L61.9 851.62 L62.55 851.28 L62.89 852.03 L62.44 852.73 L63.02 853.4 L62.22 854.26 L62.4 854.8 L63.37 855.12 L62.6 855.61 L62.99 856.25 L63.25 856.69 L62.93 856.92 L63.14 857.34 L62.48 857.72 L62.91 858.41 L62.46 859.08 L63.08 859.22 L62.88 860.45 L62.95 860.51 L63.22 860.92 L62.98 861.64 L64.02 862.7 L63.58 863.09 L63.94 863.87 L63.54 863.32 L63.16 863.8 L63.11 864.09 L63.09 865.1 L63.15 865.89 L62.58 865.84 L62.13 866.99 L62.39 867.19 L62.53 867.45 L62.61 867.67 L62.54 868.86 L61.63 869.35 L62.86 870.02 L63.54 870.07 L62.67 870.09 L62.99 871.04 L62.58 871.28 L62.85 872.28 L62.42 872.93 L62.82 873.35 L62.98 873.86 L61.97 874.03 L62.96 874.54 L62.6 875.32 L63.13 875.88 L63.39 876.34 L62.67 876.63 L63.19 877.13 L63.33 877.11 L62.77 877.81 L62.67 878.7 L63.27 879.16 L63.64 879.74 L63.36 880.3 L62.62 880.94 L62.73 881.12 L62.54 881.73 L63.42 882.27 L62.41 882.8 L63.52 882.66 L62.53 883.19 L62.91 884.47 L62.28 884.43 L62.23 885.33 L62.75 885.85" fill="none" stroke="#a32536" stroke-width="0.5" stroke-opacity="0.9" stroke-linejoin="round"/>
<path d="M63.77 811.94 L62.96 812.57 L62.5 812.56 L62.46 813.72 L62.62 813.41 L62.54 814.25 L62.94 814.61 L62.08 815.73 L62.15 815.73 L62.5 816.18 L62.49 816.82 L62.65 817.42 L63.15 817.72 L62.43 817.99 L63.05 819.19 L62.31 819.1 L62.21 820.31 L62.85 820.17 L63.38 820.32 L63.28 821.26 L63.51 821.37 L63.65 822.41 L63.23 822.67 L63.36 822.66 L63.92 823.61 L64.06 824.39 L64.29 825.23 L64.46 825.29 L64.32 825.81 L63.12 826.13 L63.35 826.44 L62.77 827 L63.91 827.75 L63.59 828.17 L62.72 828.41 L64.02 829.33 L63.25 828.96 L62.1 830.06 L62.34 830.93 L62.22 831.34 L62.84 832.05 L62.75 831.89 L62.36 833.32 L62.06 832.92 L61.84 834.04 L62.17 834.21 L62.39 835.24 L62.67 835.28 L63.02 835.79 L62.42 836.76 L62.33 837.26 L63.27 837.23 L63.08 837.5 L63.83 838.04 L63.4 838.93 L63.42 839.48 L63.57 840.06 L63.51 840.5 L63.53 841 L63.2 841.95 L63.04 841.9 L63.77 842.59 L63.78 842.48 L63.25 843.04 L62.99 843.84 L63.89 844.35 L63.85 844.57 L63.36 845.06 L62.84 845.71 L62.35 846.87 L62.1 846.24 L62.64 847.6 L62.99 847.76 L62.58 848.48 L62.59 848.71 L62.81 849.77 L63.1 850.13 L62.8 850.1 L62.5 850.71 L62.99 851.51 L63.1 852.26 L62.22 852.06 L62.06 853.15 L63.57 853.63 L62.82 853.77 L63.85 854.13 L63.5 854.81 L63.07 855.65 L63.72 856.02 L63.78 856.52 L63.78 856.97 L63.74 857.55 L63.2 857.71 L62.86 858.21 L63.53 859.71 L63.36 859.97 L63.26 860.43 L62.6 860.29 L62.48 861.33 L62.92 861.25 L63.08 861.73 L62.7 862.58 L62.5 862.64 L62.35 863.95 L62.33 864.28 L63.11 864.49 L62.74 865.58 L62.5 865.19 L62.78 866.22 L62.62 866.45 L62.73 866.61 L62.74 867.69 L63.25 868.16 L62.46 868.21 L62.51 869.85 L63.19 870.3 L63.29 870.27 L63.61 870.71 L63.08 870.63 L63.55 871.6 L63.21 871.83 L63.69 872.75 L62.6 873.23 L62.87 873.57 L63.6 873.91 L63.59 874.8 L63.46 875.13 L63.64 875.74 L63.36 876.77 L63.01 876.34 L63.46 876.8 L62.81 877.7 L63.69 877.99 L63.23 879.24 L62.57 879.69 L62.41 879.76 L62.85 880.39 L63.44 881.49 L63.2 881.45 L62.63 881.82 L63.74 882.61 L62.88 882.45 L63.05 883.45 L63.42 883.54 L62.98 884.54 L62.42 884.67 L62.13 885.76 L62.81 885.46 L62.62 886.31 L63 886.54 L62.96 887.49" fill="none" stroke="#a32536" stroke-width="0.5" stroke-opacity="0.9" stroke-linejoin="round"/>
<path d="M63.65 812.31 L63.51 813.76 L63.78 813.74 L63.5 814.61 L62.41 815.11 L63.2 816.17 L62.79 815.99 L63.11 816.05 L62.97 817.2 L63.1 818.11 L62.97 818.26 L63.27 818.86 L62.05 818.42 L62.25 819.35 L63.66 819.8 L63.38 820.95 L63.29 821.34 L63.99 821.54 L63.47 822.11 L63.67 822.58 L63.28 823.3 L62.87 823.51 L63.22 823.55 L62.86 824.96 L62.89 825.24 L62.64 825.9 L63.74 825.63 L62.95 826.42 L62.99 827.44 L63.79 828.11 L63.54 827.99 L63.32 828.58 L63.58 829.44 L63.2 829.74 L62.85 830.92 L64.35 830.47 L63.91 831.5 L64.86 831.87 L64.21 832.26 L63.55 833.04 L63.26 833.09 L62.7 833.55 L63.56 834.67 L63.88 834.58 L63.64 834.95 L63.34 835.93 L63.31 836.41 L62.65 836.99 L62.24 837.07 L62.06 838.12 L62.58 838.27 L62.65 838.52 L62.5 839.44 L63.16 840.19 L62.33 841.07 L63.42 840.84 L62.35 841.24 L63.3 841.68 L62.76 842.28 L63.04 842.94 L63.5 843.54 L63.79 843.45 L62.79 844.46 L64.35 844.8 L63.54 845.64 L64.06 845.67 L64.4 846.74 L63.79 846.86 L64.03 847.12 L64.2 847.84 L63.26 848.02 L63.87 848.81 L63.51 849.99 L63.31 849.76 L63.15 849.96 L62.86 851.42 L63.05 851.32 L62.83 851.36 L62.22 852.31 L62.38 852.93 L62.45 853.92 L63.19 853.95 L63.3 854.5 L63.74 855.4 L63.82 855.26 L63.17 855.73 L63.52 856.16 L63.53 857.36 L63.7 857.22 L64.14 857.53 L63.74 858.89 L64.5 859.4 L63.51 859.66 L64.25 860.2 L64.16 860.52 L62.91 860.56 L62.56 861.71 L63.11 861.83 L62.89 862.45 L62.55 863.01 L63.41 863.95 L62.45 864.59 L63.12 864.37 L62.85 865.47 L62.77 865.55 L62.59 865.42 L63.17 866.42 L63.38 867.7 L63.53 868.08 L63.75 868.61 L63.21 868.44 L63.53 868.74 L63.14 869.67 L63.71 870 L63.28 870.71 L63.45 871.33 L63.89 872.06 L63.43 872.25 L63.78 872.52 L63.67 873.16 L63.28 873.78 L63.36 874.47 L64.4 874.49 L62.72 875.4 L62.93 875.37 L63.54 876.26 L63.9 876.79 L63.04 877.18 L63.48 877.12 L63.01 878.12 L63.99 878.74 L63.71 879.28 L63.69 880.04 L63.68 880.52 L63.32 880.75 L63.66 881.3 L62.96 882.1 L63.08 881.76 L63.08 882.39 L63.14 882.91 L63.16 883.53 L63.42 884.2" fill="none" stroke="#a32536" stroke-width="0.5" stroke-opacity="0.9" stroke-linejoin="round"/>
<path d="M61.13 848.77 L59.39 849.8 L60.82 848.23 L62 849.74 L61.28 847.49 L62.05 847.26 L61.13 847.01 L59 845.23 L60.37 845.1 L60.91 846.58 L60.15 846.62 L59.46 847.31 L59.87 847.94 L59.51 849.07 L59.51 847.66 L60.5 848.08 L60.08 848.66 L59.7 849.7 L58.7 848.7 L59.34 848.52 L60 847.48 L60.28 848.21 L59.88 846.09 L58.7 844.92 L58.7 844.28 L59.94 844.2 L60.25 845.48 L60.38 846.21 L61.24 847.02 L60.74 848.87 L62.03 849 L61.57 849.29 L60.28 849.43 L60.23 851.36 L58.82 851.75 L59.18 850.52 L58.7 849.57 L58.7 850.21 L59.15 849.95 L60.04 849.58 L61.14 849.37 L61.81 848.07 L62.83 848.2 L62.44 850.81 L64.03 849.81 L62.38 849.26 L63.95 847.96 L65 849.86 L63.1 851.38 L62.65 852.1 L63.34 852.1 L63.91 852.1 L62.19 852.1 L62.8 851.37 L61.21 851.74 L61.84 852.02 L61.24 852.1 L60.73 852.1 L60.14 852.1 L60.86 851.47" fill="none" stroke="#a32536" stroke-width="0.5" stroke-opacity="0.9" stroke-linejoin="round"/>
<rect x="57.3" y="800.2" width="9.8" height="95.4" fill="none" stroke="#111" stroke-width="1.6"/>
<rect x="19.6" y="843.3" width="85.9" height="9.7" fill="none" stroke="#24365e" stroke-width="1.6"/>
<circle cx="61.5" cy="856" r="1.2" fill="#1010ee"/>
<path d="M156.88 817.02 L156.33 817.48 L157.11 817.23 L155.9 818.77 L155.7 818.96 L156.24 819.13 L156.74 820.17 L155.86 820.55 L155.88 821.04 L157.11 821.09 L156.38 821.34 L156.83 822.46 L156.5 822.75 L155.84 823.03 L156.83 823.47 L156.3 824.34 L156.99 824.56 L156.68 825.03 L156.81 826.1 L156.59 826.16 L157.26 826.63 L157.58 827.71 L157.51 828.28 L156.82 828.32 L156.81 828.82 L156.92 829.29 L157.73 829.65 L156.77 830.48 L157.69 830.6 L157.18 831.16 L157.02 832.03 L157.5 831.93 L156.78 832.87 L156.66 834 L157.36 833.97 L156.12 834.54 L156.61 834.95 L157.17 835.28 L156.39 835.85 L156.43 836.62 L156.22 836.74 L156.44 837.73 L156.11 837.99 L156.2 838.5 L156.65 838.9 L156.63 839.3 L156.76 839.63 L156.84 840.48 L156.71 840.56 L157.14 841.82 L156.22 841.73 L156.42 842.66 L156.04 842.59 L157.26 843.45 L156.68 843.85 L156.8 845.27 L157.4 845.33 L156.29 845.61 L157.45 845.85 L155.69 846.29 L157.01 847.36 L156.49 847.73 L156.34 848.35 L156.83 849.23 L156.98 849.11 L156.84 849.3 L155.7 850.11 L156.06 850.06 L156.61 850.6 L156.67 851.17 L156.44 852.45 L156.48 852.47 L156.45 853.04 L156.77 853.95 L155.93 853.65 L157.02 854.26 L156.6 855.61 L156.55 855.41 L156.38 856.28 L156.74 856.89 L157.15 857.7 L156.75 857.87 L156.83 858.14 L157.57 858.89 L157.24 858.76 L157.18 859.65 L157.43 860.56 L157.84 860.77 L157.28 860.97 L157.58 861.84 L157.06 861.93 L157.26 863.01 L157.82 863.67 L156.89 863.11 L157.09 864.03 L157.73 864.14 L156.63 865.33 L157.05 865.9 L157.01 866.55 L156.77 866.36 L156.68 867.03 L155.98 867.08 L156.86 868.43 L156.23 868.67 L156.46 869.36 L155.66 869.7 L156.06 870.79 L156.62 871.05 L156.07 870.96 L155.83 871.36 L156.34 871.93 L156.16 872.54 L155.81 873.12 L156.37 873.57 L157 875.45 L156.05 874.94 L155.99 875.35 L156.13 876.07 L156.49 876.56 L156.63 876.36 L157.19 877.08 L156.71 877.73 L156.98 878.3 L156.53 879.45 L157.13 879.07 L157.9 879.45 L157.12 880.21 L157.63 881.04 L156.11 881.79 L157.07 882.26 L156.85 882.37 L157.51 883.32 L157.33 883.46" fill="none" stroke="#2f8fba" stroke-width="0.5" stroke-opacity="0.9" stroke-linejoin="round"/>
<path d="M156.99 813.11 L157.21 814.27 L157.23 814.92 L156.92 814.38 L157.05 815.6 L157.91 816.09 L156.66 817.2 L156.65 817.43 L156.54 817.24 L156.61 818.43 L156.9 818.9 L156.45 819.37 L156.55 819.36 L156.3 819.99 L156.37 821.12 L156.19 821.31 L156.34 822.42 L156.54 822.26 L156.36 822.44 L155.87 822.96 L156.28 824 L156.77 824.34 L156.82 824.88 L156.65 824.87 L157.33 825.73 L157.25 826.29 L157.64 826.47 L157.68 827.53 L157.22 827.7 L157.39 828.17 L157.55 828.84 L158.11 828.8 L157.27 829.98 L157.24 829.99 L158.13 831.22 L157.97 831.14 L158.04 831.87 L157.88 832.08 L157.09 832.92 L157.42 833.53 L157.48 834.12 L157.51 834.57 L157.11 834.64 L156.58 834.84 L156.82 835.66 L156.89 836.7 L157.26 837.35 L157.29 837.4 L156.87 837.73 L157.45 838.31 L157.41 839.06 L156.15 839.63 L156.74 839.74 L156.66 840.69 L156.99 840.85 L157.38 840.67 L157.18 841.43 L157.97 842.11 L157.89 843.19 L157.56 842.85 L157.69 844.17 L157.24 844.28 L157.14 844.77 L157.61 845.18 L157.51 846.07 L158.71 846.63 L157.3 847.44 L158.17 847.52 L157.3 847.92 L157.37 848.78 L156.98 848.55 L157.45 849.74 L157.34 850.16 L157.32 850.56 L156.99 850.87 L156.49 851.45 L156.77 852.52 L156.28 852.39 L157.61 853.37 L157.38 853.7 L156.57 853.93 L157.38 855.11 L156.59 855.3 L157.03 855.65 L157.29 856.41 L156.86 856.77 L157.27 857.48 L157.12 857.5 L157.11 858.51 L157.49 859.13 L156.67 858.9 L157.33 859.93 L157.42 860.23 L157.4 860.35 L157.32 861.37 L157.37 861.97 L156.4 862.41 L156.86 862.86 L156.95 863.37 L157.93 863.88 L157.13 864.21 L156.43 865.11 L156.32 865.63 L157.17 865.53 L156.82 866.68 L156.7 866.69 L156.6 866.95 L156.27 867.97 L156.98 868.74 L156.93 868.85 L157.12 868.8 L157.16 870.12 L156.32 870.88 L156.51 870.9 L157.41 871.04 L156.93 871.51 L157.57 872.26 L157.75 872.83 L156.99 873.81 L157.8 873.6 L158.11 874.18 L158.35 874.94 L158.04 875.18 L158.05 876.07 L157.91 876.99 L158.49 877.31 L158.34 877.42 L158.35 878.34 L157.92 878.68 L157.89 879.18 L157.33 879.64 L157.49 879.88 L157.51 880.82 L157.88 880.95" fill="none" stroke="#2f8fba" stroke-width="0.5" stroke-opacity="0.9" stroke-linejoin="round"/>
<path d="M157.44 813.26 L157.28 813.64 L157.22 814.44 L157.29 815.25 L157.91 815.31 L156.83 816.23 L157.35 816.42 L157.26 817.01 L157.03 817.22 L156.82 818.59 L157.26 818.15 L157.38 818.94 L157.3 819.17 L157.24 819.61 L157.3 820.24 L156.79 821.06 L157.21 821.46 L157.4 821.95 L157.37 822.28 L157.31 822.96 L157.43 823.73 L157.14 823.6 L157.32 824.59 L157.06 825.16 L156.68 825.69 L156.99 826.17 L157 826.84 L156.9 826.84 L156.75 827.67 L157.12 828.26 L156.71 828.5 L156.73 829.3 L156.36 829.51 L156.81 830.58 L157.59 830.51 L156.88 831.53 L156.88 831.78 L157.19 832.04 L157.15 831.93 L156.91 833.23 L157.34 833.65 L158.03 834.23 L157.53 834.56 L157.66 835.15 L157.12 835.54 L157.68 836.22 L157.52 836.08 L157.94 837.65 L157.56 837.76 L157.54 838.46 L158.34 839.18 L157.48 839.1 L157.85 839.54 L157.23 840.65 L157.26 840.22 L157.57 841.42 L157.64 842.07 L157.81 841.88 L157.55 842.19 L157.53 842.76 L157.43 843.65 L157.13 844.78 L156.45 844.79 L157.92 845.13 L156.49 845.98 L157.45 846.23 L156.85 846.84 L156.84 847.05 L157.05 847.62 L156.44 847.86 L156.55 848.85 L156.23 849.31 L157.5 849.73 L156.68 850.66 L156.91 851.23 L157.15 851.14 L156.65 852.23 L155.91 852.73 L157.54 853.24 L157.41 853.64 L156.81 853.82 L156.83 854.42 L157.18 855.38 L157.3 855.68 L157.29 856.28 L157.47 856.63 L158.08 857.14 L157.55 857.08 L156.99 857.85 L157.88 858.24 L157.19 858.85 L157.88 859.29 L157.85 860.23 L157.53 860.69 L157.28 860.68 L157.69 861.3 L157.16 862.36 L157.38 862.7 L157.71 862.66 L157.14 863.42 L157.32 863.95 L157.56 864.86 L157.42 865.08 L157.32 865.68 L157.35 866.01 L157.59 866.61 L157.48 866.83 L157.29 867.79 L157.66 868.09 L158.44 869.3 L157.27 869.06 L156.95 869.29 L156.74 869.59 L158.11 870.76 L157.45 871.17 L157.9 871.8 L157.61 871.89 L156.78 872.89 L157.36 873.72 L157.2 873.87 L156.83 873.93 L157.27 874.88 L157.15 875.09 L157.13 875.78 L156.88 876.01 L157.3 877.06 L156.96 877.17 L157.44 876.94 L157.1 878.47 L157.16 879.03 L157.48 879.42 L157.34 879.84 L157.81 880.25 L157.33 881.56 L157.46 881.02 L156.66 881.97" fill="none" stroke="#2f8fba" stroke-width="0.5" stroke-opacity="0.9" stroke-linejoin="round"/>
<path d="M159.45 849.81 L159.4 850.63 L158.53 850.01 L159.39 850.22 L159.16 848.68 L159.52 849.1 L160.1 847.85 L160.1 847.56 L159.5 846.54 L158.85 846.41 L157.58 847.86 L157.56 847.88 L157.06 849.64 L156.32 848.78 L155.1 847.91 L154.38 848.28 L155.51 848.55 L156.27 847.02 L158.18 848.11 L157.64 847.44 L156.21 847.8 L155.91 847.06 L154.87 847.75 L154.72 849.64 L154.32 848.41 L153.78 848.69 L153.62 847.18 L154.41 845.3 L153.2 845.3 L153.2 845.62 L153.27 845.38 L153.2 846.15 L153.2 845.62 L154.1 845.37 L153.72 845.87 L153.2 845.3 L153.2 845.3 L153.41 846.85 L154.34 846.72 L154.34 847.83 L154.3 846.89 L153.89 847.67 L154.29 847.42 L153.2 848.19 L153.2 848.49 L153.2 847.19 L153.41 845.34 L153.2 845.3 L153.2 845.3 L153.2 845.3 L154.54 845.72 L153.86 846.75 L154.53 847.96 L153.2 847.9 L153.65 849.68 L153.2 848.99 L153.2 847.65 L153.2 850.25 L155.36 849.79 L153.89 851.24" fill="none" stroke="#2f8fba" stroke-width="0.5" stroke-opacity="0.9" stroke-linejoin="round"/>
<rect x="151.8" y="801.2" width="9.7" height="95.2" fill="none" stroke="#111" stroke-width="1.6"/>
<rect x="114.3" y="844.4" width="85.5" height="9.6" fill="none" stroke="#24365e" stroke-width="1.6"/>
<circle cx="157.3" cy="828.6" r="1.2" fill="#1010ee"/>
<text x="11.5" y="627.9" font-size="11.3" text-anchor="middle" font-weight="normal" fill="#111" stroke="#111" stroke-width="0.22" transform="rotate(-90 11.5 627.9)">Day 0</text>
<text x="12.6" y="731.4" font-size="11.3" text-anchor="middle" font-weight="normal" fill="#111" stroke="#111" stroke-width="0.22" transform="rotate(-90 12.6 731.4)">Day 7</text>
<text x="12.5" y="847.7" font-size="11.3" text-anchor="middle" font-weight="normal" fill="#111" stroke="#111" stroke-width="0.22" transform="rotate(-90 12.5 847.7)">Day 14</text>
<text x="222.6" y="629.7" font-size="11" text-anchor="middle" font-weight="normal" fill="#111" stroke="#111" stroke-width="0.22" transform="rotate(-90 222.6 629.7)">Open</text>
<text x="226.6" y="738.8" font-size="11" text-anchor="middle" font-weight="normal" fill="#111" stroke="#111" stroke-width="0.22" transform="rotate(-90 226.6 738.8)">Open</text>
<text x="226.2" y="848" font-size="11" text-anchor="middle" font-weight="normal" fill="#111" stroke="#111" stroke-width="0.22" transform="rotate(-90 226.2 848)">Open</text>
<text x="62.6" y="914.4" font-size="11" text-anchor="middle" font-weight="normal" fill="#111" stroke="#111" stroke-width="0.22">Close</text>
<text x="157.6" y="914.4" font-size="11" text-anchor="middle" font-weight="normal" fill="#111" stroke="#111" stroke-width="0.22">Close</text>
<text x="4.4" y="10.2" font-size="10.8" text-anchor="start" font-weight="bold" fill="#000">A</text>
<text x="382.8" y="11.1" font-size="10.8" text-anchor="start" font-weight="bold" fill="#000">B</text>
<text x="3.6" y="245" font-size="10.8" text-anchor="start" font-weight="bold" fill="#000">C</text>
<text x="242.9" y="246" font-size="10.8" text-anchor="start" font-weight="bold" fill="#000">D</text>
<text x="464.1" y="246.2" font-size="10.8" text-anchor="start" font-weight="bold" fill="#000">E</text>
<text x="243.4" y="405.5" font-size="10.8" text-anchor="start" font-weight="bold" fill="#000">F</text>
<text x="467.3" y="406.2" font-size="10.8" text-anchor="start" font-weight="bold" fill="#000">G</text>
<text x="1.15" y="568.1" font-size="10.8" text-anchor="start" font-weight="bold" fill="#000">H</text>
<text x="243.4" y="568.2" font-size="10.8" text-anchor="start" font-weight="bold" fill="#000">I</text>
<text x="467.6" y="568.3" font-size="10.8" text-anchor="start" font-weight="bold" fill="#000">J</text>
<text x="245" y="738.2" font-size="10.8" text-anchor="start" font-weight="bold" fill="#000">K</text>
<text x="466.2" y="738.7" font-size="10.8" text-anchor="start" font-weight="bold" fill="#000">L</text>
</svg>
</body></html>
